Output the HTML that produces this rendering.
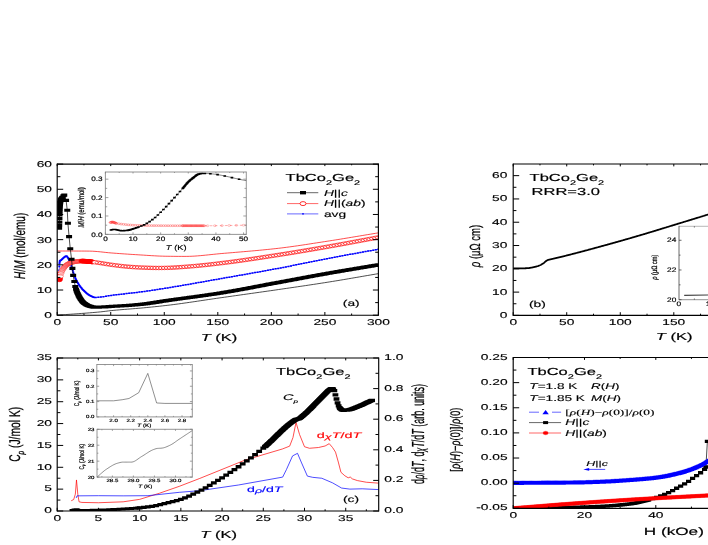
<!DOCTYPE html>
<html><head><meta charset="utf-8"><title>TbCo2Ge2</title>
<style>
html,body{margin:0;padding:0;background:#fff;}
body{width:708px;height:545px;overflow:hidden;font-family:"Liberation Sans",sans-serif;}
svg{display:block;will-change:transform;filter:blur(0.35px);}
text{text-rendering:geometricPrecision;}
</style></head><body>
<svg width="708" height="545" viewBox="0 0 708 545">
<rect width="708" height="545" fill="#fff"/>
<clipPath id="cp1"><rect x="57.2" y="164.1" width="321.2" height="151.1"/></clipPath><g clip-path="url(#cp1)">
<polyline fill="none" stroke="#000" stroke-width="0.7" stroke-linejoin="round"  points="57.2,315.2 59.9,315 62.6,314.8 65.3,314.61 68,314.42 70.7,314.23 73.39,314.04 76.09,313.85 78.79,313.66 81.49,313.46 84.19,313.26 86.89,313.06 89.59,312.84 92.29,312.62 94.99,312.39 97.69,312.15 100.39,311.89 103.09,311.59 105.78,311.26 108.48,310.92 111.18,310.61 113.88,310.34 116.58,310.08 119.28,309.85 121.98,309.62 124.68,309.4 127.38,309.19 130.08,308.98 132.78,308.76 135.48,308.54 138.17,308.32 140.87,308.08 143.57,307.83 146.27,307.57 148.97,307.31 151.67,307.04 154.37,306.76 157.07,306.48 159.77,306.19 162.47,305.89 165.17,305.59 167.87,305.27 170.56,304.94 173.26,304.6 175.96,304.25 178.66,303.89 181.36,303.52 184.06,303.14 186.76,302.76 189.46,302.37 192.16,301.98 194.86,301.58 197.56,301.18 200.26,300.78 202.95,300.37 205.65,299.97 208.35,299.56 211.05,299.16 213.75,298.76 216.45,298.37 219.15,297.98 221.85,297.59 224.55,297.21 227.25,296.83 229.95,296.44 232.65,296.06 235.34,295.68 238.04,295.3 240.74,294.92 243.44,294.54 246.14,294.17 248.84,293.78 251.54,293.4 254.24,293.02 256.94,292.64 259.64,292.26 262.34,291.87 265.04,291.49 267.73,291.1 270.43,290.72 273.13,290.33 275.83,289.94 278.53,289.54 281.23,289.15 283.93,288.76 286.63,288.37 289.33,287.97 292.03,287.58 294.73,287.19 297.43,286.79 300.12,286.39 302.82,286 305.52,285.6 308.22,285.19 310.92,284.79 313.62,284.38 316.32,283.97 319.02,283.56 321.72,283.14 324.42,282.72 327.12,282.29 329.82,281.87 332.51,281.43 335.21,280.99 337.91,280.55 340.61,280.1 343.31,279.65 346.01,279.19 348.71,278.73 351.41,278.27 354.11,277.81 356.81,277.35 359.51,276.88 362.21,276.42 364.9,275.95 367.6,275.49 370.3,275.02 373,274.56 375.7,274.1 378.4,273.65"/>
<polyline fill="none" stroke="#f00" stroke-width="0.7" stroke-linejoin="round"  points="57.2,250.98 59.9,250.99 62.6,251 65.3,251.01 68,251.02 70.7,251.02 73.39,251.03 76.09,251.04 78.79,251.05 81.49,251.06 84.19,251.07 86.89,251.09 89.59,251.11 92.29,251.19 94.99,251.35 97.69,251.58 100.39,251.84 103.09,252.13 105.78,252.43 108.48,252.71 111.18,252.95 113.88,253.15 116.58,253.35 119.28,253.55 121.98,253.75 124.68,253.93 127.38,254.12 130.08,254.3 132.78,254.47 135.48,254.64 138.17,254.8 140.87,254.97 143.57,255.14 146.27,255.32 148.97,255.49 151.67,255.66 154.37,255.81 157.07,255.96 159.77,256.08 162.47,256.17 165.17,256.24 167.87,256.28 170.56,256.31 173.26,256.34 175.96,256.36 178.66,256.38 181.36,256.39 184.06,256.4 186.76,256.39 189.46,256.34 192.16,256.23 194.86,256.08 197.56,255.89 200.26,255.67 202.95,255.42 205.65,255.15 208.35,254.87 211.05,254.58 213.75,254.3 216.45,254.02 219.15,253.75 221.85,253.51 224.55,253.28 227.25,253.06 229.95,252.83 232.65,252.61 235.34,252.38 238.04,252.15 240.74,251.93 243.44,251.7 246.14,251.46 248.84,251.23 251.54,250.99 254.24,250.75 256.94,250.5 259.64,250.25 262.34,249.99 265.04,249.73 267.73,249.45 270.43,249.18 273.13,248.89 275.83,248.6 278.53,248.29 281.23,247.97 283.93,247.64 286.63,247.29 289.33,246.93 292.03,246.56 294.73,246.18 297.43,245.8 300.12,245.4 302.82,245 305.52,244.59 308.22,244.18 310.92,243.76 313.62,243.34 316.32,242.92 319.02,242.5 321.72,242.08 324.42,241.66 327.12,241.24 329.82,240.83 332.51,240.41 335.21,239.98 337.91,239.55 340.61,239.11 343.31,238.67 346.01,238.23 348.71,237.79 351.41,237.34 354.11,236.89 356.81,236.44 359.51,235.99 362.21,235.54 364.9,235.09 367.6,234.64 370.3,234.19 373,233.74 375.7,233.29 378.4,232.85"/>
<polyline fill="none" stroke="#00f" stroke-width="0.6" stroke-linejoin="round"  points="59.23,270.37 59.34,266.39 59.45,263.57 59.56,262.63 59.66,261.9 59.77,261.37 59.88,261.01 59.98,260.8 60.09,260.68 60.2,260.58 60.3,260.5 60.41,260.43 60.95,260.18 61.48,259.79 62.02,259.29 62.55,258.76 63.09,258.24 63.62,257.78 64.16,257.35 64.69,256.89 65.23,256.48 65.77,256.17 66.3,256.02 66.84,256.24 67.37,256.94 67.91,257.78 68.44,258.7 68.98,259.8 69.51,261.04 70.05,262.35 70.58,263.83 71.12,265.45 71.65,267.13 72.19,268.79 72.72,270.45 73.26,272.2 73.8,273.93 74.33,275.54 74.87,276.93 75.4,278.17 75.94,279.33 76.47,280.41 77.01,281.43 77.54,282.39 78.08,283.29 78.61,284.14 79.15,284.95 79.68,285.73 80.22,286.47 80.75,287.19 81.29,287.87 81.83,288.52 82.36,289.13 82.9,289.72 83.43,290.27 83.97,290.8 84.5,291.32 85.04,291.83 85.57,292.32 86.11,292.8 86.64,293.25 87.18,293.68 87.71,294.09 88.25,294.47 88.78,294.82 89.32,295.13 89.86,295.42 90.39,295.7 90.93,295.99 91.46,296.27 92,296.54 92.53,296.78 93.07,297 93.6,297.19 94.14,297.32 94.67,297.41 95.21,297.45 95.74,297.44 98.31,297.31 100.88,297.02 103.45,296.64 106.02,296.21 108.59,295.77 111.16,295.39 113.73,295.07 116.3,294.77 118.87,294.47 121.44,294.18 124.01,293.89 126.58,293.6 129.15,293.31 131.72,293.02 134.29,292.72 136.86,292.41 139.43,292.1 142,291.77 144.57,291.42 147.14,291.06 149.71,290.69 152.28,290.31 154.84,289.92 157.41,289.52 159.98,289.11 162.55,288.71 165.12,288.29 167.69,287.88 170.26,287.46 172.83,287.04 175.4,286.61 177.97,286.18 180.54,285.75 183.11,285.31 185.68,284.86 188.25,284.42 190.82,283.97 193.39,283.51 195.96,283.06 198.53,282.6 201.1,282.15 203.67,281.69 206.24,281.23 208.81,280.77 211.38,280.31 213.95,279.86 216.52,279.4 219.08,278.94 221.65,278.49 224.22,278.04 226.79,277.59 229.36,277.14 231.93,276.69 234.5,276.24 237.07,275.79 239.64,275.34 242.21,274.89 244.78,274.43 247.35,273.98 249.92,273.53 252.49,273.07 255.06,272.62 257.63,272.16 260.2,271.7 262.77,271.24 265.34,270.77 267.91,270.3 270.48,269.83 273.05,269.35 275.62,268.87 278.19,268.39 280.76,267.9 283.32,267.4 285.89,266.9 288.46,266.39 291.03,265.88 293.6,265.36 296.17,264.84 298.74,264.32 301.31,263.8 303.88,263.28 306.45,262.75 309.02,262.23 311.59,261.71 314.16,261.19 316.73,260.68 319.3,260.16 321.87,259.66 324.44,259.16 327.01,258.66 329.58,258.17 332.15,257.68 334.72,257.2 337.29,256.72 339.86,256.24 342.43,255.77 345,255.3 347.56,254.83 350.13,254.36 352.7,253.89 355.27,253.42 357.84,252.96 360.41,252.49 362.98,252.03 365.55,251.56 368.12,251.09 370.69,250.63 373.26,250.16 375.83,249.69 378.4,249.22"/>
<path d="M58.23 269.62h2v1.5h-2zM58.34 265.64h2v1.5h-2zM58.45 262.82h2v1.5h-2zM58.56 261.88h2v1.5h-2zM58.66 261.15h2v1.5h-2zM58.77 260.62h2v1.5h-2zM58.88 260.26h2v1.5h-2zM58.98 260.05h2v1.5h-2zM59.09 259.93h2v1.5h-2zM59.2 259.83h2v1.5h-2zM59.3 259.75h2v1.5h-2zM59.41 259.68h2v1.5h-2zM59.95 259.43h2v1.5h-2zM60.48 259.04h2v1.5h-2zM61.02 258.54h2v1.5h-2zM61.55 258.01h2v1.5h-2zM62.09 257.49h2v1.5h-2zM62.62 257.03h2v1.5h-2zM63.16 256.6h2v1.5h-2zM63.69 256.14h2v1.5h-2zM64.23 255.73h2v1.5h-2zM64.77 255.42h2v1.5h-2zM65.3 255.27h2v1.5h-2zM65.84 255.49h2v1.5h-2zM66.37 256.19h2v1.5h-2zM66.91 257.03h2v1.5h-2zM67.44 257.95h2v1.5h-2zM67.98 259.05h2v1.5h-2zM68.51 260.29h2v1.5h-2zM69.05 261.6h2v1.5h-2zM69.58 263.08h2v1.5h-2zM70.12 264.7h2v1.5h-2zM70.65 266.38h2v1.5h-2zM71.19 268.04h2v1.5h-2zM71.72 269.7h2v1.5h-2zM72.26 271.45h2v1.5h-2zM72.8 273.18h2v1.5h-2zM73.33 274.79h2v1.5h-2zM73.87 276.18h2v1.5h-2zM74.4 277.42h2v1.5h-2zM74.94 278.58h2v1.5h-2zM75.47 279.66h2v1.5h-2zM76.01 280.68h2v1.5h-2zM76.54 281.64h2v1.5h-2zM77.08 282.54h2v1.5h-2zM77.61 283.39h2v1.5h-2zM78.15 284.2h2v1.5h-2zM78.68 284.98h2v1.5h-2zM79.22 285.72h2v1.5h-2zM79.75 286.44h2v1.5h-2zM80.29 287.12h2v1.5h-2zM80.83 287.77h2v1.5h-2zM81.36 288.38h2v1.5h-2zM81.9 288.97h2v1.5h-2zM82.43 289.52h2v1.5h-2zM82.97 290.05h2v1.5h-2zM83.5 290.57h2v1.5h-2zM84.04 291.08h2v1.5h-2zM84.57 291.57h2v1.5h-2zM85.11 292.05h2v1.5h-2zM85.64 292.5h2v1.5h-2zM86.18 292.93h2v1.5h-2zM86.71 293.34h2v1.5h-2zM87.25 293.72h2v1.5h-2zM87.78 294.07h2v1.5h-2zM88.32 294.38h2v1.5h-2zM88.86 294.67h2v1.5h-2zM89.39 294.95h2v1.5h-2zM89.93 295.24h2v1.5h-2zM90.46 295.52h2v1.5h-2zM91 295.79h2v1.5h-2zM91.53 296.03h2v1.5h-2zM92.07 296.25h2v1.5h-2zM92.6 296.44h2v1.5h-2zM93.14 296.57h2v1.5h-2zM93.67 296.66h2v1.5h-2zM94.21 296.7h2v1.5h-2zM94.74 296.69h2v1.5h-2zM97.31 296.56h2v1.5h-2zM99.88 296.27h2v1.5h-2zM102.45 295.89h2v1.5h-2zM105.02 295.46h2v1.5h-2zM107.59 295.02h2v1.5h-2zM110.16 294.64h2v1.5h-2zM112.73 294.32h2v1.5h-2zM115.3 294.02h2v1.5h-2zM117.87 293.72h2v1.5h-2zM120.44 293.43h2v1.5h-2zM123.01 293.14h2v1.5h-2zM125.58 292.85h2v1.5h-2zM128.15 292.56h2v1.5h-2zM130.72 292.27h2v1.5h-2zM133.29 291.97h2v1.5h-2zM135.86 291.66h2v1.5h-2zM138.43 291.35h2v1.5h-2zM141 291.02h2v1.5h-2zM143.57 290.67h2v1.5h-2zM146.14 290.31h2v1.5h-2zM148.71 289.94h2v1.5h-2zM151.28 289.56h2v1.5h-2zM153.84 289.17h2v1.5h-2zM156.41 288.77h2v1.5h-2zM158.98 288.36h2v1.5h-2zM161.55 287.96h2v1.5h-2zM164.12 287.54h2v1.5h-2zM166.69 287.13h2v1.5h-2zM169.26 286.71h2v1.5h-2zM171.83 286.29h2v1.5h-2zM174.4 285.86h2v1.5h-2zM176.97 285.43h2v1.5h-2zM179.54 285h2v1.5h-2zM182.11 284.56h2v1.5h-2zM184.68 284.11h2v1.5h-2zM187.25 283.67h2v1.5h-2zM189.82 283.22h2v1.5h-2zM192.39 282.76h2v1.5h-2zM194.96 282.31h2v1.5h-2zM197.53 281.85h2v1.5h-2zM200.1 281.4h2v1.5h-2zM202.67 280.94h2v1.5h-2zM205.24 280.48h2v1.5h-2zM207.81 280.02h2v1.5h-2zM210.38 279.56h2v1.5h-2zM212.95 279.11h2v1.5h-2zM215.52 278.65h2v1.5h-2zM218.08 278.19h2v1.5h-2zM220.65 277.74h2v1.5h-2zM223.22 277.29h2v1.5h-2zM225.79 276.84h2v1.5h-2zM228.36 276.39h2v1.5h-2zM230.93 275.94h2v1.5h-2zM233.5 275.49h2v1.5h-2zM236.07 275.04h2v1.5h-2zM238.64 274.59h2v1.5h-2zM241.21 274.14h2v1.5h-2zM243.78 273.68h2v1.5h-2zM246.35 273.23h2v1.5h-2zM248.92 272.78h2v1.5h-2zM251.49 272.32h2v1.5h-2zM254.06 271.87h2v1.5h-2zM256.63 271.41h2v1.5h-2zM259.2 270.95h2v1.5h-2zM261.77 270.49h2v1.5h-2zM264.34 270.02h2v1.5h-2zM266.91 269.55h2v1.5h-2zM269.48 269.08h2v1.5h-2zM272.05 268.6h2v1.5h-2zM274.62 268.12h2v1.5h-2zM277.19 267.64h2v1.5h-2zM279.76 267.15h2v1.5h-2zM282.32 266.65h2v1.5h-2zM284.89 266.15h2v1.5h-2zM287.46 265.64h2v1.5h-2zM290.03 265.13h2v1.5h-2zM292.6 264.61h2v1.5h-2zM295.17 264.09h2v1.5h-2zM297.74 263.57h2v1.5h-2zM300.31 263.05h2v1.5h-2zM302.88 262.53h2v1.5h-2zM305.45 262h2v1.5h-2zM308.02 261.48h2v1.5h-2zM310.59 260.96h2v1.5h-2zM313.16 260.44h2v1.5h-2zM315.73 259.93h2v1.5h-2zM318.3 259.41h2v1.5h-2zM320.87 258.91h2v1.5h-2zM323.44 258.41h2v1.5h-2zM326.01 257.91h2v1.5h-2zM328.58 257.42h2v1.5h-2zM331.15 256.93h2v1.5h-2zM333.72 256.45h2v1.5h-2zM336.29 255.97h2v1.5h-2zM338.86 255.49h2v1.5h-2zM341.43 255.02h2v1.5h-2zM344 254.55h2v1.5h-2zM346.56 254.08h2v1.5h-2zM349.13 253.61h2v1.5h-2zM351.7 253.14h2v1.5h-2zM354.27 252.67h2v1.5h-2zM356.84 252.21h2v1.5h-2zM359.41 251.74h2v1.5h-2zM361.98 251.28h2v1.5h-2zM364.55 250.81h2v1.5h-2zM367.12 250.34h2v1.5h-2zM369.69 249.88h2v1.5h-2zM372.26 249.41h2v1.5h-2zM374.83 248.94h2v1.5h-2zM377.4 248.47h2v1.5h-2z" fill="#00f"/>
<polyline fill="none" stroke="#f00" stroke-width="0.6" stroke-linejoin="round"  points="59.34,279.44 59.77,278.68 60.2,277.29 60.63,275.16 61.05,273.23 61.48,272.04 61.91,271.04 62.34,270.16 62.77,269.39 63.2,268.72 63.62,268.11 64.05,267.54 64.48,267 64.91,266.5 65.34,266.03 65.77,265.6 66.19,265.2 66.62,264.85 67.05,264.54 67.48,264.27 67.91,264.02 68.33,263.78 68.76,263.56 69.19,263.35 69.62,263.15 70.05,262.97 70.48,262.81 70.9,262.66 71.33,262.53 71.76,262.41 72.19,262.31 72.62,262.23 73.05,262.14 73.47,262.06 73.9,261.98 74.33,261.9 74.76,261.82 75.19,261.74 75.62,261.67 76.04,261.6 76.47,261.53 76.9,261.47 77.33,261.41 77.76,261.36 78.19,261.31 78.61,261.26 79.04,261.22 79.47,261.18 79.9,261.14 80.33,261.12 80.75,261.09 81.18,261.07 81.61,261.06 82.04,261.06 82.47,261.06 82.9,261.06 83.32,261.07 83.75,261.09 84.18,261.11 84.61,261.13 85.04,261.16 85.47,261.19 85.89,261.22 86.32,261.26 86.75,261.3 87.18,261.34 87.61,261.39 88.04,261.44 88.46,261.48 88.89,261.53 89.32,261.59 89.75,261.64 90.18,261.69 90.6,261.74 91.03,261.8 91.46,261.85 91.89,261.9 92.32,261.95 92.53,261.98 95.42,262.32 98.31,262.73 101.2,263.18 104.1,263.66 106.99,264.13 109.88,264.57 112.77,264.96 115.66,265.34 118.55,265.71 121.44,266.06 124.33,266.37 127.22,266.63 130.11,266.86 133,267.07 135.89,267.26 138.78,267.43 141.68,267.56 144.57,267.66 147.46,267.76 150.35,267.85 153.24,267.92 156.13,267.96 159.02,267.98 161.91,267.96 164.8,267.9 167.69,267.84 170.58,267.74 173.47,267.6 176.37,267.44 179.26,267.25 182.15,267.04 185.04,266.82 187.93,266.59 190.82,266.36 193.71,266.13 196.6,265.87 199.49,265.6 202.38,265.31 205.27,265 208.16,264.69 211.05,264.36 213.95,264.03 216.84,263.69 219.73,263.34 222.62,262.99 225.51,262.64 228.4,262.27 231.29,261.89 234.18,261.51 237.07,261.12 239.96,260.71 242.85,260.3 245.74,259.89 248.64,259.47 251.53,259.04 254.42,258.61 257.31,258.17 260.2,257.73 263.09,257.29 265.98,256.84 268.87,256.4 271.76,255.95 274.65,255.5 277.54,255.05 280.43,254.6 283.32,254.15 286.22,253.69 289.11,253.22 292,252.75 294.89,252.28 297.78,251.8 300.67,251.32 303.56,250.84 306.45,250.35 309.34,249.86 312.23,249.37 315.12,248.87 318.01,248.38 320.91,247.88 323.8,247.37 326.69,246.87 329.58,246.36 332.47,245.85 335.36,245.34 338.25,244.81 341.14,244.29 344.03,243.76 346.92,243.23 349.81,242.69 352.7,242.16 355.59,241.62 358.49,241.08 361.38,240.54 364.27,240 367.16,239.46 370.05,238.93 372.94,238.39 375.83,237.86 378.72,237.32"/>
<path d="M56.34 279.94a3 1.8 0 1 0 6 0a3 1.8 0 1 0 -6 0zM56.42 279.01a3 1.8 0 1 0 6 0a3 1.8 0 1 0 -6 0zM56.49 278.07a3 1.8 0 1 0 6 0a3 1.8 0 1 0 -6 0zM56.57 277.14a3 1.8 0 1 0 6 0a3 1.8 0 1 0 -6 0zM56.65 276.2a3 1.8 0 1 0 6 0a3 1.8 0 1 0 -6 0zM56.72 275.27a3 1.8 0 1 0 6 0a3 1.8 0 1 0 -6 0zM56.8 274.33a3 1.8 0 1 0 6 0a3 1.8 0 1 0 -6 0zM56.88 273.4a3 1.8 0 1 0 6 0a3 1.8 0 1 0 -6 0z" fill="#f00" stroke="#f00" stroke-width="0.6"/>
<path d="M57.41 276.26a3 1.8 0 1 0 6 0a3 1.8 0 1 0 -6 0zM58 273.43a3 1.8 0 1 0 6 0a3 1.8 0 1 0 -6 0zM58.59 271.78a3 1.8 0 1 0 6 0a3 1.8 0 1 0 -6 0zM59.18 270.47a3 1.8 0 1 0 6 0a3 1.8 0 1 0 -6 0zM59.77 269.39a3 1.8 0 1 0 6 0a3 1.8 0 1 0 -6 0zM60.36 268.48a3 1.8 0 1 0 6 0a3 1.8 0 1 0 -6 0zM60.95 267.68a3 1.8 0 1 0 6 0a3 1.8 0 1 0 -6 0zM61.53 266.94a3 1.8 0 1 0 6 0a3 1.8 0 1 0 -6 0zM62.12 266.26a3 1.8 0 1 0 6 0a3 1.8 0 1 0 -6 0zM62.71 265.65a3 1.8 0 1 0 6 0a3 1.8 0 1 0 -6 0zM63.3 265.11a3 1.8 0 1 0 6 0a3 1.8 0 1 0 -6 0zM63.89 264.65a3 1.8 0 1 0 6 0a3 1.8 0 1 0 -6 0zM64.48 264.27a3 1.8 0 1 0 6 0a3 1.8 0 1 0 -6 0zM65.07 263.93a3 1.8 0 1 0 6 0a3 1.8 0 1 0 -6 0zM65.66 263.61a3 1.8 0 1 0 6 0a3 1.8 0 1 0 -6 0zM66.25 263.32a3 1.8 0 1 0 6 0a3 1.8 0 1 0 -6 0zM66.83 263.06a3 1.8 0 1 0 6 0a3 1.8 0 1 0 -6 0zM67.42 262.83a3 1.8 0 1 0 6 0a3 1.8 0 1 0 -6 0zM68.01 262.62a3 1.8 0 1 0 6 0a3 1.8 0 1 0 -6 0zM68.6 262.45a3 1.8 0 1 0 6 0a3 1.8 0 1 0 -6 0zM69.19 262.31a3 1.8 0 1 0 6 0a3 1.8 0 1 0 -6 0zM69.78 262.2a3 1.8 0 1 0 6 0a3 1.8 0 1 0 -6 0zM70.37 262.08a3 1.8 0 1 0 6 0a3 1.8 0 1 0 -6 0zM70.96 261.97a3 1.8 0 1 0 6 0a3 1.8 0 1 0 -6 0zM71.54 261.86a3 1.8 0 1 0 6 0a3 1.8 0 1 0 -6 0zM72.13 261.75a3 1.8 0 1 0 6 0a3 1.8 0 1 0 -6 0zM72.72 261.65a3 1.8 0 1 0 6 0a3 1.8 0 1 0 -6 0zM73.31 261.56a3 1.8 0 1 0 6 0a3 1.8 0 1 0 -6 0zM73.9 261.47a3 1.8 0 1 0 6 0a3 1.8 0 1 0 -6 0zM74.49 261.39a3 1.8 0 1 0 6 0a3 1.8 0 1 0 -6 0zM75.08 261.32a3 1.8 0 1 0 6 0a3 1.8 0 1 0 -6 0zM75.67 261.25a3 1.8 0 1 0 6 0a3 1.8 0 1 0 -6 0zM76.26 261.2a3 1.8 0 1 0 6 0a3 1.8 0 1 0 -6 0zM76.84 261.15a3 1.8 0 1 0 6 0a3 1.8 0 1 0 -6 0zM77.43 261.11a3 1.8 0 1 0 6 0a3 1.8 0 1 0 -6 0zM78.02 261.08a3 1.8 0 1 0 6 0a3 1.8 0 1 0 -6 0zM78.61 261.06a3 1.8 0 1 0 6 0a3 1.8 0 1 0 -6 0z" fill="#fff" stroke="#f44" stroke-width="0.5"/>
<path d="M78.83 261.06a3 1.8 0 1 0 6 0a3 1.8 0 1 0 -6 0zM79.15 261.06a3 1.8 0 1 0 6 0a3 1.8 0 1 0 -6 0zM79.47 261.06a3 1.8 0 1 0 6 0a3 1.8 0 1 0 -6 0zM79.79 261.06a3 1.8 0 1 0 6 0a3 1.8 0 1 0 -6 0zM80.11 261.07a3 1.8 0 1 0 6 0a3 1.8 0 1 0 -6 0zM80.43 261.08a3 1.8 0 1 0 6 0a3 1.8 0 1 0 -6 0zM80.75 261.09a3 1.8 0 1 0 6 0a3 1.8 0 1 0 -6 0zM81.07 261.1a3 1.8 0 1 0 6 0a3 1.8 0 1 0 -6 0zM81.39 261.12a3 1.8 0 1 0 6 0a3 1.8 0 1 0 -6 0zM81.72 261.14a3 1.8 0 1 0 6 0a3 1.8 0 1 0 -6 0zM82.04 261.16a3 1.8 0 1 0 6 0a3 1.8 0 1 0 -6 0zM82.36 261.18a3 1.8 0 1 0 6 0a3 1.8 0 1 0 -6 0zM82.68 261.21a3 1.8 0 1 0 6 0a3 1.8 0 1 0 -6 0zM83 261.23a3 1.8 0 1 0 6 0a3 1.8 0 1 0 -6 0zM83.32 261.26a3 1.8 0 1 0 6 0a3 1.8 0 1 0 -6 0zM83.64 261.29a3 1.8 0 1 0 6 0a3 1.8 0 1 0 -6 0zM83.96 261.32a3 1.8 0 1 0 6 0a3 1.8 0 1 0 -6 0zM84.29 261.35a3 1.8 0 1 0 6 0a3 1.8 0 1 0 -6 0zM84.61 261.39a3 1.8 0 1 0 6 0a3 1.8 0 1 0 -6 0zM84.93 261.42a3 1.8 0 1 0 6 0a3 1.8 0 1 0 -6 0zM85.25 261.46a3 1.8 0 1 0 6 0a3 1.8 0 1 0 -6 0zM85.57 261.5a3 1.8 0 1 0 6 0a3 1.8 0 1 0 -6 0zM85.89 261.53a3 1.8 0 1 0 6 0a3 1.8 0 1 0 -6 0zM86.21 261.57a3 1.8 0 1 0 6 0a3 1.8 0 1 0 -6 0zM86.53 261.61a3 1.8 0 1 0 6 0a3 1.8 0 1 0 -6 0zM86.86 261.65a3 1.8 0 1 0 6 0a3 1.8 0 1 0 -6 0zM87.18 261.69a3 1.8 0 1 0 6 0a3 1.8 0 1 0 -6 0zM87.5 261.73a3 1.8 0 1 0 6 0a3 1.8 0 1 0 -6 0zM87.82 261.77a3 1.8 0 1 0 6 0a3 1.8 0 1 0 -6 0zM88.14 261.81a3 1.8 0 1 0 6 0a3 1.8 0 1 0 -6 0zM88.46 261.85a3 1.8 0 1 0 6 0a3 1.8 0 1 0 -6 0zM88.78 261.89a3 1.8 0 1 0 6 0a3 1.8 0 1 0 -6 0zM89.1 261.93a3 1.8 0 1 0 6 0a3 1.8 0 1 0 -6 0zM89.42 261.96a3 1.8 0 1 0 6 0a3 1.8 0 1 0 -6 0zM89.75 262a3 1.8 0 1 0 6 0a3 1.8 0 1 0 -6 0z" fill="#f00" stroke="#f00" stroke-width="0.6"/>
<path d="M92.21 262.3a3 1.8 0 1 0 6 0a3 1.8 0 1 0 -6 0zM95.1 262.7a3 1.8 0 1 0 6 0a3 1.8 0 1 0 -6 0zM97.99 263.15a3 1.8 0 1 0 6 0a3 1.8 0 1 0 -6 0zM100.88 263.62a3 1.8 0 1 0 6 0a3 1.8 0 1 0 -6 0zM103.77 264.09a3 1.8 0 1 0 6 0a3 1.8 0 1 0 -6 0zM106.66 264.54a3 1.8 0 1 0 6 0a3 1.8 0 1 0 -6 0zM109.55 264.93a3 1.8 0 1 0 6 0a3 1.8 0 1 0 -6 0zM112.44 265.31a3 1.8 0 1 0 6 0a3 1.8 0 1 0 -6 0zM115.34 265.69a3 1.8 0 1 0 6 0a3 1.8 0 1 0 -6 0zM118.23 266.04a3 1.8 0 1 0 6 0a3 1.8 0 1 0 -6 0zM121.12 266.35a3 1.8 0 1 0 6 0a3 1.8 0 1 0 -6 0zM124.01 266.61a3 1.8 0 1 0 6 0a3 1.8 0 1 0 -6 0zM126.9 266.84a3 1.8 0 1 0 6 0a3 1.8 0 1 0 -6 0zM129.79 267.06a3 1.8 0 1 0 6 0a3 1.8 0 1 0 -6 0zM132.68 267.25a3 1.8 0 1 0 6 0a3 1.8 0 1 0 -6 0zM135.57 267.42a3 1.8 0 1 0 6 0a3 1.8 0 1 0 -6 0zM138.46 267.55a3 1.8 0 1 0 6 0a3 1.8 0 1 0 -6 0zM141.35 267.65a3 1.8 0 1 0 6 0a3 1.8 0 1 0 -6 0zM144.24 267.75a3 1.8 0 1 0 6 0a3 1.8 0 1 0 -6 0zM147.13 267.84a3 1.8 0 1 0 6 0a3 1.8 0 1 0 -6 0zM150.02 267.91a3 1.8 0 1 0 6 0a3 1.8 0 1 0 -6 0zM152.92 267.96a3 1.8 0 1 0 6 0a3 1.8 0 1 0 -6 0zM155.81 267.98a3 1.8 0 1 0 6 0a3 1.8 0 1 0 -6 0zM158.7 267.96a3 1.8 0 1 0 6 0a3 1.8 0 1 0 -6 0zM161.59 267.91a3 1.8 0 1 0 6 0a3 1.8 0 1 0 -6 0zM164.48 267.84a3 1.8 0 1 0 6 0a3 1.8 0 1 0 -6 0zM167.37 267.75a3 1.8 0 1 0 6 0a3 1.8 0 1 0 -6 0zM170.26 267.61a3 1.8 0 1 0 6 0a3 1.8 0 1 0 -6 0zM173.15 267.45a3 1.8 0 1 0 6 0a3 1.8 0 1 0 -6 0zM176.04 267.26a3 1.8 0 1 0 6 0a3 1.8 0 1 0 -6 0zM178.93 267.05a3 1.8 0 1 0 6 0a3 1.8 0 1 0 -6 0zM181.82 266.83a3 1.8 0 1 0 6 0a3 1.8 0 1 0 -6 0zM184.71 266.61a3 1.8 0 1 0 6 0a3 1.8 0 1 0 -6 0zM187.61 266.38a3 1.8 0 1 0 6 0a3 1.8 0 1 0 -6 0zM190.5 266.14a3 1.8 0 1 0 6 0a3 1.8 0 1 0 -6 0zM193.39 265.89a3 1.8 0 1 0 6 0a3 1.8 0 1 0 -6 0zM196.28 265.62a3 1.8 0 1 0 6 0a3 1.8 0 1 0 -6 0zM199.17 265.33a3 1.8 0 1 0 6 0a3 1.8 0 1 0 -6 0zM202.06 265.03a3 1.8 0 1 0 6 0a3 1.8 0 1 0 -6 0zM204.95 264.71a3 1.8 0 1 0 6 0a3 1.8 0 1 0 -6 0zM207.84 264.39a3 1.8 0 1 0 6 0a3 1.8 0 1 0 -6 0zM210.73 264.05a3 1.8 0 1 0 6 0a3 1.8 0 1 0 -6 0zM213.62 263.71a3 1.8 0 1 0 6 0a3 1.8 0 1 0 -6 0zM216.51 263.37a3 1.8 0 1 0 6 0a3 1.8 0 1 0 -6 0zM219.4 263.02a3 1.8 0 1 0 6 0a3 1.8 0 1 0 -6 0zM222.29 262.66a3 1.8 0 1 0 6 0a3 1.8 0 1 0 -6 0zM225.19 262.3a3 1.8 0 1 0 6 0a3 1.8 0 1 0 -6 0zM228.08 261.92a3 1.8 0 1 0 6 0a3 1.8 0 1 0 -6 0zM230.97 261.54a3 1.8 0 1 0 6 0a3 1.8 0 1 0 -6 0zM233.86 261.15a3 1.8 0 1 0 6 0a3 1.8 0 1 0 -6 0zM236.75 260.74a3 1.8 0 1 0 6 0a3 1.8 0 1 0 -6 0zM239.64 260.34a3 1.8 0 1 0 6 0a3 1.8 0 1 0 -6 0zM242.53 259.92a3 1.8 0 1 0 6 0a3 1.8 0 1 0 -6 0zM245.42 259.5a3 1.8 0 1 0 6 0a3 1.8 0 1 0 -6 0zM248.31 259.07a3 1.8 0 1 0 6 0a3 1.8 0 1 0 -6 0zM251.2 258.64a3 1.8 0 1 0 6 0a3 1.8 0 1 0 -6 0zM254.09 258.2a3 1.8 0 1 0 6 0a3 1.8 0 1 0 -6 0zM256.98 257.76a3 1.8 0 1 0 6 0a3 1.8 0 1 0 -6 0zM259.88 257.32a3 1.8 0 1 0 6 0a3 1.8 0 1 0 -6 0zM262.77 256.88a3 1.8 0 1 0 6 0a3 1.8 0 1 0 -6 0zM265.66 256.43a3 1.8 0 1 0 6 0a3 1.8 0 1 0 -6 0zM268.55 255.98a3 1.8 0 1 0 6 0a3 1.8 0 1 0 -6 0zM271.44 255.54a3 1.8 0 1 0 6 0a3 1.8 0 1 0 -6 0zM274.33 255.09a3 1.8 0 1 0 6 0a3 1.8 0 1 0 -6 0zM277.22 254.64a3 1.8 0 1 0 6 0a3 1.8 0 1 0 -6 0zM280.11 254.18a3 1.8 0 1 0 6 0a3 1.8 0 1 0 -6 0zM283 253.72a3 1.8 0 1 0 6 0a3 1.8 0 1 0 -6 0zM285.89 253.26a3 1.8 0 1 0 6 0a3 1.8 0 1 0 -6 0zM288.78 252.79a3 1.8 0 1 0 6 0a3 1.8 0 1 0 -6 0zM291.67 252.32a3 1.8 0 1 0 6 0a3 1.8 0 1 0 -6 0zM294.56 251.84a3 1.8 0 1 0 6 0a3 1.8 0 1 0 -6 0zM297.46 251.36a3 1.8 0 1 0 6 0a3 1.8 0 1 0 -6 0zM300.35 250.88a3 1.8 0 1 0 6 0a3 1.8 0 1 0 -6 0zM303.24 250.39a3 1.8 0 1 0 6 0a3 1.8 0 1 0 -6 0zM306.13 249.9a3 1.8 0 1 0 6 0a3 1.8 0 1 0 -6 0zM309.02 249.41a3 1.8 0 1 0 6 0a3 1.8 0 1 0 -6 0zM311.91 248.91a3 1.8 0 1 0 6 0a3 1.8 0 1 0 -6 0zM314.8 248.41a3 1.8 0 1 0 6 0a3 1.8 0 1 0 -6 0zM317.69 247.91a3 1.8 0 1 0 6 0a3 1.8 0 1 0 -6 0zM320.58 247.41a3 1.8 0 1 0 6 0a3 1.8 0 1 0 -6 0zM323.47 246.91a3 1.8 0 1 0 6 0a3 1.8 0 1 0 -6 0zM326.36 246.4a3 1.8 0 1 0 6 0a3 1.8 0 1 0 -6 0zM329.25 245.89a3 1.8 0 1 0 6 0a3 1.8 0 1 0 -6 0zM332.15 245.37a3 1.8 0 1 0 6 0a3 1.8 0 1 0 -6 0zM335.04 244.85a3 1.8 0 1 0 6 0a3 1.8 0 1 0 -6 0zM337.93 244.33a3 1.8 0 1 0 6 0a3 1.8 0 1 0 -6 0zM340.82 243.8a3 1.8 0 1 0 6 0a3 1.8 0 1 0 -6 0zM343.71 243.27a3 1.8 0 1 0 6 0a3 1.8 0 1 0 -6 0zM346.6 242.73a3 1.8 0 1 0 6 0a3 1.8 0 1 0 -6 0zM349.49 242.2a3 1.8 0 1 0 6 0a3 1.8 0 1 0 -6 0zM352.38 241.66a3 1.8 0 1 0 6 0a3 1.8 0 1 0 -6 0zM355.27 241.12a3 1.8 0 1 0 6 0a3 1.8 0 1 0 -6 0zM358.16 240.58a3 1.8 0 1 0 6 0a3 1.8 0 1 0 -6 0zM361.05 240.04a3 1.8 0 1 0 6 0a3 1.8 0 1 0 -6 0zM363.94 239.5a3 1.8 0 1 0 6 0a3 1.8 0 1 0 -6 0zM366.83 238.97a3 1.8 0 1 0 6 0a3 1.8 0 1 0 -6 0zM369.73 238.43a3 1.8 0 1 0 6 0a3 1.8 0 1 0 -6 0zM372.62 237.9a3 1.8 0 1 0 6 0a3 1.8 0 1 0 -6 0zM375.51 237.36a3 1.8 0 1 0 6 0a3 1.8 0 1 0 -6 0z" fill="#fff" stroke="#f00" stroke-width="0.6"/>
<polyline fill="none" stroke="#000" stroke-width="0.7" stroke-linejoin="round"  points="59.13,228.32 59.23,225.19 59.34,222.02 59.45,218.55 59.56,214.99 59.66,211.95 59.77,209.38 59.88,207 59.98,205.02 60.09,203.64 60.2,202.7 60.3,201.9 60.41,201.25 60.52,200.73 60.63,200.36 60.73,200.08 60.84,199.83 60.95,199.61 61.05,199.41 61.16,199.23 61.27,199.07 61.38,198.93 61.48,198.79 61.59,198.66 61.7,198.53 61.8,198.39 61.91,198.25 62.02,198.1 62.13,197.93 62.23,197.76 62.34,197.58 62.45,197.39 62.55,197.2 63.41,195.76 64.27,195.08 66.09,200.36 67.26,210.19 67.91,223.28 69.08,236.63 70.26,248.72 71.55,259.29 72.4,268.36 73.15,275.41 74.33,281.45 75.29,286.49 76.04,289.21 76.58,290.83 77.11,292.27 77.65,293.57 78.19,294.76 78.72,295.85 79.26,296.84 79.79,297.75 80.33,298.62 80.86,299.45 81.4,300.25 81.93,300.98 82.47,301.64 83,302.22 83.54,302.7 84.07,303.12 84.61,303.53 85.14,303.91 85.68,304.26 86.22,304.6 86.75,304.91 87.29,305.19 87.82,305.45 88.36,305.68 88.89,305.89 89.43,306.07 89.96,306.23 90.5,306.38 91.03,306.53 91.57,306.68 92.1,306.81 92.64,306.92 93.17,307.02 93.71,307.09 94.25,307.13 94.78,307.14 95.32,307.14 95.74,307.14 96.81,307.13 97.89,307.11 98.96,307.09 100.03,307.06 101.1,307.04 102.17,307.01 103.24,306.96 104.31,306.91 105.38,306.84 106.45,306.77 107.52,306.69 108.59,306.61 109.66,306.53 110.73,306.46 111.8,306.39 112.87,306.32 113.95,306.26 115.02,306.2 116.09,306.14 117.16,306.08 118.23,306.02 119.3,305.96 120.37,305.91 121.44,305.85 122.51,305.79 123.58,305.72 124.65,305.66 125.72,305.59 126.79,305.53 127.86,305.45 128.93,305.38 130.01,305.3 131.08,305.22 132.15,305.13 133.22,305.05 134.29,304.96 135.36,304.86 136.43,304.77 137.5,304.67 138.57,304.56 139.64,304.46 140.71,304.35 141.78,304.23 142.85,304.12 143.92,304 144.99,303.87 146.07,303.74 147.14,303.6 148.21,303.45 149.28,303.3 150.35,303.15 151.42,302.99 152.49,302.83 153.56,302.67 154.63,302.5 155.7,302.34 156.77,302.17 157.84,302 158.91,301.83 159.98,301.66 161.05,301.49 162.13,301.32 163.2,301.15 164.27,300.99 165.34,300.83 166.41,300.67 167.48,300.52 168.55,300.36 169.62,300.21 170.69,300.06 171.76,299.91 172.83,299.76 173.9,299.61 174.97,299.46 176.04,299.31 177.11,299.16 178.19,299.01 179.26,298.87 180.33,298.72 181.4,298.57 182.47,298.43 183.54,298.28 184.61,298.14 185.68,297.99 186.75,297.85 187.82,297.7 188.89,297.55 189.96,297.41 191.03,297.26 192.1,297.12 193.17,296.97 194.25,296.83 195.32,296.68 196.39,296.53 197.46,296.39 198.53,296.24 199.6,296.09 200.67,295.94 201.74,295.79 202.81,295.64 203.88,295.49 204.95,295.34 206.02,295.19 207.09,295.03 208.16,294.88 209.23,294.72 210.31,294.57 211.38,294.41 212.45,294.25 213.52,294.09 214.59,293.93 215.66,293.77 216.73,293.61 217.8,293.44 218.87,293.28 219.94,293.11 221.01,292.94 222.08,292.77 223.15,292.6 224.22,292.42 225.29,292.25 226.37,292.07 227.44,291.89 228.51,291.71 229.58,291.53 230.65,291.34 231.72,291.16 232.79,290.97 233.86,290.78 234.93,290.59 236,290.4 237.07,290.21 238.14,290.02 239.21,289.82 240.28,289.63 241.35,289.43 242.43,289.23 243.5,289.04 244.57,288.84 245.64,288.64 246.71,288.44 247.78,288.24 248.85,288.03 249.92,287.83 250.99,287.63 252.06,287.43 253.13,287.22 254.2,287.02 255.27,286.82 256.34,286.61 257.41,286.41 258.49,286.2 259.56,286 260.63,285.8 261.7,285.59 262.77,285.39 263.84,285.18 264.91,284.98 265.98,284.78 267.05,284.57 268.12,284.37 269.19,284.17 270.26,283.97 271.33,283.77 272.4,283.57 273.47,283.37 274.55,283.17 275.62,282.97 276.69,282.77 277.76,282.58 278.83,282.38 279.9,282.18 280.97,281.98 282.04,281.79 283.11,281.59 284.18,281.39 285.25,281.19 286.32,280.99 287.39,280.79 288.46,280.59 289.53,280.39 290.61,280.19 291.68,279.99 292.75,279.79 293.82,279.59 294.89,279.39 295.96,279.19 297.03,279 298.1,278.8 299.17,278.6 300.24,278.4 301.31,278.2 302.38,278 303.45,277.8 304.52,277.6 305.59,277.4 306.67,277.2 307.74,277 308.81,276.81 309.88,276.61 310.95,276.41 312.02,276.21 313.09,276.02 314.16,275.82 315.23,275.63 316.3,275.43 317.37,275.24 318.44,275.04 319.51,274.85 320.58,274.65 321.65,274.46 322.73,274.27 323.8,274.08 324.87,273.89 325.94,273.7 327.01,273.51 328.08,273.32 329.15,273.13 330.22,272.95 331.29,272.76 332.36,272.57 333.43,272.39 334.5,272.2 335.57,272.02 336.64,271.83 337.71,271.65 338.79,271.47 339.86,271.28 340.93,271.1 342,270.92 343.07,270.74 344.14,270.56 345.21,270.38 346.28,270.2 347.35,270.02 348.42,269.84 349.49,269.66 350.56,269.48 351.63,269.3 352.7,269.12 353.77,268.94 354.85,268.76 355.92,268.59 356.99,268.41 358.06,268.23 359.13,268.05 360.2,267.87 361.27,267.7 362.34,267.52 363.41,267.34 364.48,267.16 365.55,266.98 366.62,266.81 367.69,266.63 368.76,266.45 369.83,266.27 370.91,266.09 371.98,265.91 373.05,265.73 374.12,265.55 375.19,265.37 376.26,265.19 377.33,265.01 378.4,264.83"/>
<path d="M56.13 226.77h6v3.1h-6zM56.23 223.64h6v3.1h-6zM56.34 220.47h6v3.1h-6zM56.45 217h6v3.1h-6zM56.56 213.44h6v3.1h-6zM56.66 210.4h6v3.1h-6zM56.77 207.83h6v3.1h-6zM56.88 205.45h6v3.1h-6zM56.98 203.47h6v3.1h-6zM57.09 202.09h6v3.1h-6zM57.2 201.15h6v3.1h-6zM57.3 200.35h6v3.1h-6zM57.41 199.7h6v3.1h-6zM57.52 199.18h6v3.1h-6zM57.63 198.81h6v3.1h-6zM57.73 198.53h6v3.1h-6zM57.84 198.28h6v3.1h-6zM57.95 198.06h6v3.1h-6zM58.05 197.86h6v3.1h-6zM58.16 197.68h6v3.1h-6zM58.27 197.52h6v3.1h-6zM58.38 197.38h6v3.1h-6zM58.48 197.24h6v3.1h-6zM58.59 197.11h6v3.1h-6zM58.7 196.98h6v3.1h-6zM58.8 196.84h6v3.1h-6zM58.91 196.7h6v3.1h-6zM59.02 196.55h6v3.1h-6zM59.13 196.38h6v3.1h-6zM59.23 196.21h6v3.1h-6zM59.34 196.03h6v3.1h-6zM59.45 195.84h6v3.1h-6zM59.55 195.65h6v3.1h-6zM60.41 194.21h6v3.1h-6zM61.27 193.53h6v3.1h-6zM63.09 198.81h6v3.1h-6zM64.26 208.64h6v3.1h-6zM64.91 221.73h6v3.1h-6zM66.08 235.08h6v3.1h-6zM67.26 247.17h6v3.1h-6zM68.55 257.74h6v3.1h-6zM69.4 266.81h6v3.1h-6zM70.15 273.86h6v3.1h-6zM71.33 279.9h6v3.1h-6zM72.29 284.94h6v3.1h-6zM73.04 287.66h6v3.1h-6zM73.58 289.28h6v3.1h-6zM74.11 290.72h6v3.1h-6zM74.65 292.02h6v3.1h-6zM75.19 293.21h6v3.1h-6zM75.72 294.3h6v3.1h-6zM76.26 295.29h6v3.1h-6zM76.79 296.2h6v3.1h-6zM77.33 297.07h6v3.1h-6zM77.86 297.9h6v3.1h-6zM78.4 298.7h6v3.1h-6zM78.93 299.43h6v3.1h-6zM79.47 300.09h6v3.1h-6zM80 300.67h6v3.1h-6zM80.54 301.15h6v3.1h-6zM81.07 301.57h6v3.1h-6zM81.61 301.98h6v3.1h-6zM82.14 302.36h6v3.1h-6zM82.68 302.71h6v3.1h-6zM83.22 303.05h6v3.1h-6zM83.75 303.36h6v3.1h-6zM84.29 303.64h6v3.1h-6zM84.82 303.9h6v3.1h-6zM85.36 304.13h6v3.1h-6zM85.89 304.34h6v3.1h-6zM86.43 304.52h6v3.1h-6zM86.96 304.68h6v3.1h-6zM87.5 304.83h6v3.1h-6zM88.03 304.98h6v3.1h-6zM88.57 305.13h6v3.1h-6zM89.1 305.26h6v3.1h-6zM89.64 305.37h6v3.1h-6zM90.17 305.47h6v3.1h-6zM90.71 305.54h6v3.1h-6zM91.25 305.58h6v3.1h-6zM91.78 305.59h6v3.1h-6zM92.32 305.59h6v3.1h-6zM92.74 305.59h6v3.1h-6zM93.81 305.58h6v3.1h-6zM94.89 305.56h6v3.1h-6zM95.96 305.54h6v3.1h-6zM97.03 305.51h6v3.1h-6zM98.1 305.49h6v3.1h-6zM99.17 305.46h6v3.1h-6zM100.24 305.41h6v3.1h-6zM101.31 305.36h6v3.1h-6zM102.38 305.29h6v3.1h-6zM103.45 305.22h6v3.1h-6zM104.52 305.14h6v3.1h-6zM105.59 305.06h6v3.1h-6zM106.66 304.98h6v3.1h-6zM107.73 304.91h6v3.1h-6zM108.8 304.84h6v3.1h-6zM109.87 304.77h6v3.1h-6zM110.95 304.71h6v3.1h-6zM112.02 304.65h6v3.1h-6zM113.09 304.59h6v3.1h-6zM114.16 304.53h6v3.1h-6zM115.23 304.47h6v3.1h-6zM116.3 304.41h6v3.1h-6zM117.37 304.36h6v3.1h-6zM118.44 304.3h6v3.1h-6zM119.51 304.24h6v3.1h-6zM120.58 304.17h6v3.1h-6zM121.65 304.11h6v3.1h-6zM122.72 304.04h6v3.1h-6zM123.79 303.98h6v3.1h-6zM124.86 303.9h6v3.1h-6zM125.93 303.83h6v3.1h-6zM127.01 303.75h6v3.1h-6zM128.08 303.67h6v3.1h-6zM129.15 303.58h6v3.1h-6zM130.22 303.5h6v3.1h-6zM131.29 303.41h6v3.1h-6zM132.36 303.31h6v3.1h-6zM133.43 303.22h6v3.1h-6zM134.5 303.12h6v3.1h-6zM135.57 303.01h6v3.1h-6zM136.64 302.91h6v3.1h-6zM137.71 302.8h6v3.1h-6zM138.78 302.68h6v3.1h-6zM139.85 302.57h6v3.1h-6zM140.92 302.45h6v3.1h-6zM141.99 302.32h6v3.1h-6zM143.07 302.19h6v3.1h-6zM144.14 302.05h6v3.1h-6zM145.21 301.9h6v3.1h-6zM146.28 301.75h6v3.1h-6zM147.35 301.6h6v3.1h-6zM148.42 301.44h6v3.1h-6zM149.49 301.28h6v3.1h-6zM150.56 301.12h6v3.1h-6zM151.63 300.95h6v3.1h-6zM152.7 300.79h6v3.1h-6zM153.77 300.62h6v3.1h-6zM154.84 300.45h6v3.1h-6zM155.91 300.28h6v3.1h-6zM156.98 300.11h6v3.1h-6zM158.05 299.94h6v3.1h-6zM159.13 299.77h6v3.1h-6zM160.2 299.6h6v3.1h-6zM161.27 299.44h6v3.1h-6zM162.34 299.28h6v3.1h-6zM163.41 299.12h6v3.1h-6zM164.48 298.97h6v3.1h-6zM165.55 298.81h6v3.1h-6zM166.62 298.66h6v3.1h-6zM167.69 298.51h6v3.1h-6zM168.76 298.36h6v3.1h-6zM169.83 298.21h6v3.1h-6zM170.9 298.06h6v3.1h-6zM171.97 297.91h6v3.1h-6zM173.04 297.76h6v3.1h-6zM174.11 297.61h6v3.1h-6zM175.19 297.46h6v3.1h-6zM176.26 297.32h6v3.1h-6zM177.33 297.17h6v3.1h-6zM178.4 297.02h6v3.1h-6zM179.47 296.88h6v3.1h-6zM180.54 296.73h6v3.1h-6zM181.61 296.59h6v3.1h-6zM182.68 296.44h6v3.1h-6zM183.75 296.3h6v3.1h-6zM184.82 296.15h6v3.1h-6zM185.89 296h6v3.1h-6zM186.96 295.86h6v3.1h-6zM188.03 295.71h6v3.1h-6zM189.1 295.57h6v3.1h-6zM190.17 295.42h6v3.1h-6zM191.25 295.28h6v3.1h-6zM192.32 295.13h6v3.1h-6zM193.39 294.98h6v3.1h-6zM194.46 294.84h6v3.1h-6zM195.53 294.69h6v3.1h-6zM196.6 294.54h6v3.1h-6zM197.67 294.39h6v3.1h-6zM198.74 294.24h6v3.1h-6zM199.81 294.09h6v3.1h-6zM200.88 293.94h6v3.1h-6zM201.95 293.79h6v3.1h-6zM203.02 293.64h6v3.1h-6zM204.09 293.48h6v3.1h-6zM205.16 293.33h6v3.1h-6zM206.23 293.17h6v3.1h-6zM207.31 293.02h6v3.1h-6zM208.38 292.86h6v3.1h-6zM209.45 292.7h6v3.1h-6zM210.52 292.54h6v3.1h-6zM211.59 292.38h6v3.1h-6zM212.66 292.22h6v3.1h-6zM213.73 292.06h6v3.1h-6zM214.8 291.89h6v3.1h-6zM215.87 291.73h6v3.1h-6zM216.94 291.56h6v3.1h-6zM218.01 291.39h6v3.1h-6zM219.08 291.22h6v3.1h-6zM220.15 291.05h6v3.1h-6zM221.22 290.87h6v3.1h-6zM222.29 290.7h6v3.1h-6zM223.37 290.52h6v3.1h-6zM224.44 290.34h6v3.1h-6zM225.51 290.16h6v3.1h-6zM226.58 289.98h6v3.1h-6zM227.65 289.79h6v3.1h-6zM228.72 289.61h6v3.1h-6zM229.79 289.42h6v3.1h-6zM230.86 289.23h6v3.1h-6zM231.93 289.04h6v3.1h-6zM233 288.85h6v3.1h-6zM234.07 288.66h6v3.1h-6zM235.14 288.47h6v3.1h-6zM236.21 288.27h6v3.1h-6zM237.28 288.08h6v3.1h-6zM238.35 287.88h6v3.1h-6zM239.43 287.68h6v3.1h-6zM240.5 287.49h6v3.1h-6zM241.57 287.29h6v3.1h-6zM242.64 287.09h6v3.1h-6zM243.71 286.89h6v3.1h-6zM244.78 286.69h6v3.1h-6zM245.85 286.48h6v3.1h-6zM246.92 286.28h6v3.1h-6zM247.99 286.08h6v3.1h-6zM249.06 285.88h6v3.1h-6zM250.13 285.67h6v3.1h-6zM251.2 285.47h6v3.1h-6zM252.27 285.27h6v3.1h-6zM253.34 285.06h6v3.1h-6zM254.41 284.86h6v3.1h-6zM255.49 284.65h6v3.1h-6zM256.56 284.45h6v3.1h-6zM257.63 284.25h6v3.1h-6zM258.7 284.04h6v3.1h-6zM259.77 283.84h6v3.1h-6zM260.84 283.63h6v3.1h-6zM261.91 283.43h6v3.1h-6zM262.98 283.23h6v3.1h-6zM264.05 283.02h6v3.1h-6zM265.12 282.82h6v3.1h-6zM266.19 282.62h6v3.1h-6zM267.26 282.42h6v3.1h-6zM268.33 282.22h6v3.1h-6zM269.4 282.02h6v3.1h-6zM270.47 281.82h6v3.1h-6zM271.55 281.62h6v3.1h-6zM272.62 281.42h6v3.1h-6zM273.69 281.22h6v3.1h-6zM274.76 281.03h6v3.1h-6zM275.83 280.83h6v3.1h-6zM276.9 280.63h6v3.1h-6zM277.97 280.43h6v3.1h-6zM279.04 280.24h6v3.1h-6zM280.11 280.04h6v3.1h-6zM281.18 279.84h6v3.1h-6zM282.25 279.64h6v3.1h-6zM283.32 279.44h6v3.1h-6zM284.39 279.24h6v3.1h-6zM285.46 279.04h6v3.1h-6zM286.53 278.84h6v3.1h-6zM287.61 278.64h6v3.1h-6zM288.68 278.44h6v3.1h-6zM289.75 278.24h6v3.1h-6zM290.82 278.04h6v3.1h-6zM291.89 277.84h6v3.1h-6zM292.96 277.64h6v3.1h-6zM294.03 277.45h6v3.1h-6zM295.1 277.25h6v3.1h-6zM296.17 277.05h6v3.1h-6zM297.24 276.85h6v3.1h-6zM298.31 276.65h6v3.1h-6zM299.38 276.45h6v3.1h-6zM300.45 276.25h6v3.1h-6zM301.52 276.05h6v3.1h-6zM302.59 275.85h6v3.1h-6zM303.67 275.65h6v3.1h-6zM304.74 275.45h6v3.1h-6zM305.81 275.26h6v3.1h-6zM306.88 275.06h6v3.1h-6zM307.95 274.86h6v3.1h-6zM309.02 274.66h6v3.1h-6zM310.09 274.47h6v3.1h-6zM311.16 274.27h6v3.1h-6zM312.23 274.08h6v3.1h-6zM313.3 273.88h6v3.1h-6zM314.37 273.69h6v3.1h-6zM315.44 273.49h6v3.1h-6zM316.51 273.3h6v3.1h-6zM317.58 273.1h6v3.1h-6zM318.65 272.91h6v3.1h-6zM319.73 272.72h6v3.1h-6zM320.8 272.53h6v3.1h-6zM321.87 272.34h6v3.1h-6zM322.94 272.15h6v3.1h-6zM324.01 271.96h6v3.1h-6zM325.08 271.77h6v3.1h-6zM326.15 271.58h6v3.1h-6zM327.22 271.4h6v3.1h-6zM328.29 271.21h6v3.1h-6zM329.36 271.02h6v3.1h-6zM330.43 270.84h6v3.1h-6zM331.5 270.65h6v3.1h-6zM332.57 270.47h6v3.1h-6zM333.64 270.28h6v3.1h-6zM334.71 270.1h6v3.1h-6zM335.79 269.92h6v3.1h-6zM336.86 269.73h6v3.1h-6zM337.93 269.55h6v3.1h-6zM339 269.37h6v3.1h-6zM340.07 269.19h6v3.1h-6zM341.14 269.01h6v3.1h-6zM342.21 268.83h6v3.1h-6zM343.28 268.65h6v3.1h-6zM344.35 268.47h6v3.1h-6zM345.42 268.29h6v3.1h-6zM346.49 268.11h6v3.1h-6zM347.56 267.93h6v3.1h-6zM348.63 267.75h6v3.1h-6zM349.7 267.57h6v3.1h-6zM350.77 267.39h6v3.1h-6zM351.85 267.21h6v3.1h-6zM352.92 267.04h6v3.1h-6zM353.99 266.86h6v3.1h-6zM355.06 266.68h6v3.1h-6zM356.13 266.5h6v3.1h-6zM357.2 266.32h6v3.1h-6zM358.27 266.15h6v3.1h-6zM359.34 265.97h6v3.1h-6zM360.41 265.79h6v3.1h-6zM361.48 265.61h6v3.1h-6zM362.55 265.43h6v3.1h-6zM363.62 265.26h6v3.1h-6zM364.69 265.08h6v3.1h-6zM365.76 264.9h6v3.1h-6zM366.83 264.72h6v3.1h-6zM367.91 264.54h6v3.1h-6zM368.98 264.36h6v3.1h-6zM370.05 264.18h6v3.1h-6zM371.12 264h6v3.1h-6zM372.19 263.82h6v3.1h-6zM373.26 263.64h6v3.1h-6zM374.33 263.46h6v3.1h-6zM375.4 263.28h6v3.1h-6z" fill="#000"/>
</g>
<line x1="57.2" y1="163.53" x2="57.2" y2="315.77" stroke="#000" stroke-width="1.15" />
<line x1="378.4" y1="163.53" x2="378.4" y2="315.77" stroke="#000" stroke-width="1.15" />
<line x1="57.2" y1="164.1" x2="378.4" y2="164.1" stroke="#000" stroke-width="1.15" />
<line x1="57.2" y1="315.2" x2="378.4" y2="315.2" stroke="#000" stroke-width="1.15" />
<line x1="57.2" y1="315.2" x2="57.2" y2="312" stroke="#000" stroke-width="1" />
<line x1="110.73" y1="315.2" x2="110.73" y2="312" stroke="#000" stroke-width="1" />
<line x1="164.27" y1="315.2" x2="164.27" y2="312" stroke="#000" stroke-width="1" />
<line x1="217.8" y1="315.2" x2="217.8" y2="312" stroke="#000" stroke-width="1" />
<line x1="271.33" y1="315.2" x2="271.33" y2="312" stroke="#000" stroke-width="1" />
<line x1="324.87" y1="315.2" x2="324.87" y2="312" stroke="#000" stroke-width="1" />
<line x1="378.4" y1="315.2" x2="378.4" y2="312" stroke="#000" stroke-width="1" />
<line x1="83.97" y1="315.2" x2="83.97" y2="313.5" stroke="#000" stroke-width="1" />
<line x1="137.5" y1="315.2" x2="137.5" y2="313.5" stroke="#000" stroke-width="1" />
<line x1="191.03" y1="315.2" x2="191.03" y2="313.5" stroke="#000" stroke-width="1" />
<line x1="244.57" y1="315.2" x2="244.57" y2="313.5" stroke="#000" stroke-width="1" />
<line x1="298.1" y1="315.2" x2="298.1" y2="313.5" stroke="#000" stroke-width="1" />
<line x1="351.63" y1="315.2" x2="351.63" y2="313.5" stroke="#000" stroke-width="1" />
<line x1="57.2" y1="164.1" x2="57.2" y2="166.1" stroke="#000" stroke-width="1" />
<line x1="110.73" y1="164.1" x2="110.73" y2="166.1" stroke="#000" stroke-width="1" />
<line x1="164.27" y1="164.1" x2="164.27" y2="166.1" stroke="#000" stroke-width="1" />
<line x1="217.8" y1="164.1" x2="217.8" y2="166.1" stroke="#000" stroke-width="1" />
<line x1="271.33" y1="164.1" x2="271.33" y2="166.1" stroke="#000" stroke-width="1" />
<line x1="324.87" y1="164.1" x2="324.87" y2="166.1" stroke="#000" stroke-width="1" />
<line x1="378.4" y1="164.1" x2="378.4" y2="166.1" stroke="#000" stroke-width="1" />
<line x1="83.97" y1="164.1" x2="83.97" y2="165.3" stroke="#000" stroke-width="1" />
<line x1="137.5" y1="164.1" x2="137.5" y2="165.3" stroke="#000" stroke-width="1" />
<line x1="191.03" y1="164.1" x2="191.03" y2="165.3" stroke="#000" stroke-width="1" />
<line x1="244.57" y1="164.1" x2="244.57" y2="165.3" stroke="#000" stroke-width="1" />
<line x1="298.1" y1="164.1" x2="298.1" y2="165.3" stroke="#000" stroke-width="1" />
<line x1="351.63" y1="164.1" x2="351.63" y2="165.3" stroke="#000" stroke-width="1" />
<line x1="57.2" y1="315.2" x2="63.2" y2="315.2" stroke="#000" stroke-width="1" />
<line x1="57.2" y1="290.02" x2="63.2" y2="290.02" stroke="#000" stroke-width="1" />
<line x1="57.2" y1="264.83" x2="63.2" y2="264.83" stroke="#000" stroke-width="1" />
<line x1="57.2" y1="239.65" x2="63.2" y2="239.65" stroke="#000" stroke-width="1" />
<line x1="57.2" y1="214.47" x2="63.2" y2="214.47" stroke="#000" stroke-width="1" />
<line x1="57.2" y1="189.28" x2="63.2" y2="189.28" stroke="#000" stroke-width="1" />
<line x1="57.2" y1="164.1" x2="63.2" y2="164.1" stroke="#000" stroke-width="1" />
<line x1="57.2" y1="302.61" x2="60.4" y2="302.61" stroke="#000" stroke-width="1" />
<line x1="57.2" y1="277.43" x2="60.4" y2="277.43" stroke="#000" stroke-width="1" />
<line x1="57.2" y1="252.24" x2="60.4" y2="252.24" stroke="#000" stroke-width="1" />
<line x1="57.2" y1="227.06" x2="60.4" y2="227.06" stroke="#000" stroke-width="1" />
<line x1="57.2" y1="201.88" x2="60.4" y2="201.88" stroke="#000" stroke-width="1" />
<line x1="57.2" y1="176.69" x2="60.4" y2="176.69" stroke="#000" stroke-width="1" />
<line x1="378.4" y1="315.2" x2="372.9" y2="315.2" stroke="#000" stroke-width="1" />
<line x1="378.4" y1="290.02" x2="372.9" y2="290.02" stroke="#000" stroke-width="1" />
<line x1="378.4" y1="264.83" x2="372.9" y2="264.83" stroke="#000" stroke-width="1" />
<line x1="378.4" y1="239.65" x2="372.9" y2="239.65" stroke="#000" stroke-width="1" />
<line x1="378.4" y1="214.47" x2="372.9" y2="214.47" stroke="#000" stroke-width="1" />
<line x1="378.4" y1="189.28" x2="372.9" y2="189.28" stroke="#000" stroke-width="1" />
<line x1="378.4" y1="164.1" x2="372.9" y2="164.1" stroke="#000" stroke-width="1" />
<line x1="378.4" y1="302.61" x2="375.2" y2="302.61" stroke="#000" stroke-width="1" />
<line x1="378.4" y1="277.43" x2="375.2" y2="277.43" stroke="#000" stroke-width="1" />
<line x1="378.4" y1="252.24" x2="375.2" y2="252.24" stroke="#000" stroke-width="1" />
<line x1="378.4" y1="227.06" x2="375.2" y2="227.06" stroke="#000" stroke-width="1" />
<line x1="378.4" y1="201.88" x2="375.2" y2="201.88" stroke="#000" stroke-width="1" />
<line x1="378.4" y1="176.69" x2="375.2" y2="176.69" stroke="#000" stroke-width="1" />
<text transform="translate(57.2,325.3) scale(1.62,1)" font-family="Liberation Sans" font-size="8.5" text-anchor="middle" fill="#000" stroke="#000" stroke-width="0.13" >0</text>
<text transform="translate(110.73,325.3) scale(1.62,1)" font-family="Liberation Sans" font-size="8.5" text-anchor="middle" fill="#000" stroke="#000" stroke-width="0.13" >50</text>
<text transform="translate(164.27,325.3) scale(1.62,1)" font-family="Liberation Sans" font-size="8.5" text-anchor="middle" fill="#000" stroke="#000" stroke-width="0.13" >100</text>
<text transform="translate(217.8,325.3) scale(1.62,1)" font-family="Liberation Sans" font-size="8.5" text-anchor="middle" fill="#000" stroke="#000" stroke-width="0.13" >150</text>
<text transform="translate(271.33,325.3) scale(1.62,1)" font-family="Liberation Sans" font-size="8.5" text-anchor="middle" fill="#000" stroke="#000" stroke-width="0.13" >200</text>
<text transform="translate(324.87,325.3) scale(1.62,1)" font-family="Liberation Sans" font-size="8.5" text-anchor="middle" fill="#000" stroke="#000" stroke-width="0.13" >250</text>
<text transform="translate(378.4,325.3) scale(1.62,1)" font-family="Liberation Sans" font-size="8.5" text-anchor="middle" fill="#000" stroke="#000" stroke-width="0.13" >300</text>
<text transform="translate(52,318.2) scale(1.62,1)" font-family="Liberation Sans" font-size="8.5" text-anchor="end" fill="#000" stroke="#000" stroke-width="0.13" >0</text>
<text transform="translate(52,293.02) scale(1.62,1)" font-family="Liberation Sans" font-size="8.5" text-anchor="end" fill="#000" stroke="#000" stroke-width="0.13" >10</text>
<text transform="translate(52,267.83) scale(1.62,1)" font-family="Liberation Sans" font-size="8.5" text-anchor="end" fill="#000" stroke="#000" stroke-width="0.13" >20</text>
<text transform="translate(52,242.65) scale(1.62,1)" font-family="Liberation Sans" font-size="8.5" text-anchor="end" fill="#000" stroke="#000" stroke-width="0.13" >30</text>
<text transform="translate(52,217.47) scale(1.62,1)" font-family="Liberation Sans" font-size="8.5" text-anchor="end" fill="#000" stroke="#000" stroke-width="0.13" >40</text>
<text transform="translate(52,192.28) scale(1.62,1)" font-family="Liberation Sans" font-size="8.5" text-anchor="end" fill="#000" stroke="#000" stroke-width="0.13" >50</text>
<text transform="translate(52,167.1) scale(1.62,1)" font-family="Liberation Sans" font-size="8.5" text-anchor="end" fill="#000" stroke="#000" stroke-width="0.13" >60</text>
<text transform="translate(219,340.7) scale(1.62,1)" font-family="Liberation Sans" font-size="10.2" text-anchor="middle" fill="#000" stroke="#000" stroke-width="0.17" ><tspan font-style="italic">T</tspan> (K)</text>
<text transform="translate(24.5,245.8) rotate(-90) scale(1,1.55)" font-family="Liberation Sans" font-size="10" text-anchor="middle" fill="#000" stroke="#000" stroke-width="0.17" ><tspan font-style="italic">H</tspan>/<tspan font-style="italic">M</tspan> (mol/emu)</text>
<text transform="translate(342.8,305.6) scale(1.62,1)" font-family="Liberation Sans" font-size="8.5" text-anchor="start" fill="#000" stroke="#000" stroke-width="0.13" >(a)</text>
<text transform="translate(285.6,181.2) scale(1.62,1)" font-family="Liberation Sans" font-size="10.2" text-anchor="start" fill="#000" stroke="#000" stroke-width="0.17" >TbCo<tspan dy="4" font-size="66%">2</tspan><tspan dy="-4" font-size="1%"> </tspan>Ge<tspan dy="4" font-size="66%">2</tspan><tspan dy="-4" font-size="1%"> </tspan></text>
<line x1="287" y1="192.7" x2="318.3" y2="192.7" stroke="#000" stroke-width="0.6" />
<line x1="287" y1="203.6" x2="318.3" y2="203.6" stroke="#f00" stroke-width="0.6" />
<line x1="287" y1="213.9" x2="318.3" y2="213.9" stroke="#00f" stroke-width="0.6" />
<path d="M300 191h6v3.4h-6z" fill="#000"/>
<path d="M300 203.6a3 2 0 1 0 6 0a3 2 0 1 0 -6 0z" fill="#fff" stroke="#f00" stroke-width="0.8"/>
<path d="M302.1 213.2h1.8v1.4h-1.8z" fill="#00f"/>
<text transform="translate(323.9,195.5) scale(1.62,1)" font-family="Liberation Sans" font-size="8.5" text-anchor="start" fill="#000" stroke="#000" stroke-width="0.13" ><tspan font-style="italic">H</tspan>||<tspan font-style="italic">c</tspan></text>
<text transform="translate(323.9,206.4) scale(1.62,1)" font-family="Liberation Sans" font-size="8.5" text-anchor="start" fill="#000" stroke="#000" stroke-width="0.13" ><tspan font-style="italic">H</tspan>||(<tspan font-style="italic">ab</tspan>)</text>
<text transform="translate(323.9,216.7) scale(1.62,1)" font-family="Liberation Sans" font-size="8.5" text-anchor="start" fill="#000" stroke="#000" stroke-width="0.13" >avg</text>
<rect x="105.4" y="172" width="140.9" height="62.4" fill="#fff"/>
<path d="M108.97 222.5a1.4 0.9 0 1 0 2.8 0a1.4 0.9 0 1 0 -2.8 0zM109.53 222.44a1.4 0.9 0 1 0 2.8 0a1.4 0.9 0 1 0 -2.8 0zM110.08 222.25a1.4 0.9 0 1 0 2.8 0a1.4 0.9 0 1 0 -2.8 0zM110.63 222.09a1.4 0.9 0 1 0 2.8 0a1.4 0.9 0 1 0 -2.8 0zM111.18 222.08a1.4 0.9 0 1 0 2.8 0a1.4 0.9 0 1 0 -2.8 0zM111.74 222.18a1.4 0.9 0 1 0 2.8 0a1.4 0.9 0 1 0 -2.8 0zM112.29 222.34a1.4 0.9 0 1 0 2.8 0a1.4 0.9 0 1 0 -2.8 0zM112.84 222.55a1.4 0.9 0 1 0 2.8 0a1.4 0.9 0 1 0 -2.8 0zM113.39 222.79a1.4 0.9 0 1 0 2.8 0a1.4 0.9 0 1 0 -2.8 0zM113.95 223.01a1.4 0.9 0 1 0 2.8 0a1.4 0.9 0 1 0 -2.8 0zM114.5 223.21a1.4 0.9 0 1 0 2.8 0a1.4 0.9 0 1 0 -2.8 0zM115.05 223.36a1.4 0.9 0 1 0 2.8 0a1.4 0.9 0 1 0 -2.8 0zM117.4 223.76a1.4 0.9 0 1 0 2.8 0a1.4 0.9 0 1 0 -2.8 0zM119.75 224.07a1.4 0.9 0 1 0 2.8 0a1.4 0.9 0 1 0 -2.8 0zM122.1 224.33a1.4 0.9 0 1 0 2.8 0a1.4 0.9 0 1 0 -2.8 0zM124.44 224.58a1.4 0.9 0 1 0 2.8 0a1.4 0.9 0 1 0 -2.8 0zM126.79 224.83a1.4 0.9 0 1 0 2.8 0a1.4 0.9 0 1 0 -2.8 0zM129.14 225.04a1.4 0.9 0 1 0 2.8 0a1.4 0.9 0 1 0 -2.8 0zM131.49 225.19a1.4 0.9 0 1 0 2.8 0a1.4 0.9 0 1 0 -2.8 0zM133.84 225.29a1.4 0.9 0 1 0 2.8 0a1.4 0.9 0 1 0 -2.8 0zM136.19 225.37a1.4 0.9 0 1 0 2.8 0a1.4 0.9 0 1 0 -2.8 0zM138.53 225.44a1.4 0.9 0 1 0 2.8 0a1.4 0.9 0 1 0 -2.8 0zM140.88 225.5a1.4 0.9 0 1 0 2.8 0a1.4 0.9 0 1 0 -2.8 0zM143.23 225.54a1.4 0.9 0 1 0 2.8 0a1.4 0.9 0 1 0 -2.8 0zM145.58 225.57a1.4 0.9 0 1 0 2.8 0a1.4 0.9 0 1 0 -2.8 0zM147.93 225.58a1.4 0.9 0 1 0 2.8 0a1.4 0.9 0 1 0 -2.8 0zM150.28 225.6a1.4 0.9 0 1 0 2.8 0a1.4 0.9 0 1 0 -2.8 0zM152.62 225.61a1.4 0.9 0 1 0 2.8 0a1.4 0.9 0 1 0 -2.8 0zM154.97 225.62a1.4 0.9 0 1 0 2.8 0a1.4 0.9 0 1 0 -2.8 0zM157.32 225.64a1.4 0.9 0 1 0 2.8 0a1.4 0.9 0 1 0 -2.8 0zM159.67 225.65a1.4 0.9 0 1 0 2.8 0a1.4 0.9 0 1 0 -2.8 0zM162.02 225.66a1.4 0.9 0 1 0 2.8 0a1.4 0.9 0 1 0 -2.8 0zM164.37 225.67a1.4 0.9 0 1 0 2.8 0a1.4 0.9 0 1 0 -2.8 0zM166.71 225.68a1.4 0.9 0 1 0 2.8 0a1.4 0.9 0 1 0 -2.8 0zM169.06 225.69a1.4 0.9 0 1 0 2.8 0a1.4 0.9 0 1 0 -2.8 0zM171.41 225.7a1.4 0.9 0 1 0 2.8 0a1.4 0.9 0 1 0 -2.8 0zM173.76 225.7a1.4 0.9 0 1 0 2.8 0a1.4 0.9 0 1 0 -2.8 0zM176.11 225.71a1.4 0.9 0 1 0 2.8 0a1.4 0.9 0 1 0 -2.8 0zM178.46 225.72a1.4 0.9 0 1 0 2.8 0a1.4 0.9 0 1 0 -2.8 0zM180.8 225.72a1.4 0.9 0 1 0 2.8 0a1.4 0.9 0 1 0 -2.8 0zM181.36 225.72a1.4 0.9 0 1 0 2.8 0a1.4 0.9 0 1 0 -2.8 0zM182.19 225.73a1.4 0.9 0 1 0 2.8 0a1.4 0.9 0 1 0 -2.8 0zM183.01 225.73a1.4 0.9 0 1 0 2.8 0a1.4 0.9 0 1 0 -2.8 0zM183.84 225.73a1.4 0.9 0 1 0 2.8 0a1.4 0.9 0 1 0 -2.8 0zM184.67 225.73a1.4 0.9 0 1 0 2.8 0a1.4 0.9 0 1 0 -2.8 0zM185.5 225.73a1.4 0.9 0 1 0 2.8 0a1.4 0.9 0 1 0 -2.8 0zM186.33 225.73a1.4 0.9 0 1 0 2.8 0a1.4 0.9 0 1 0 -2.8 0zM187.16 225.74a1.4 0.9 0 1 0 2.8 0a1.4 0.9 0 1 0 -2.8 0zM187.99 225.74a1.4 0.9 0 1 0 2.8 0a1.4 0.9 0 1 0 -2.8 0zM188.82 225.74a1.4 0.9 0 1 0 2.8 0a1.4 0.9 0 1 0 -2.8 0zM189.65 225.74a1.4 0.9 0 1 0 2.8 0a1.4 0.9 0 1 0 -2.8 0zM190.47 225.74a1.4 0.9 0 1 0 2.8 0a1.4 0.9 0 1 0 -2.8 0zM191.3 225.74a1.4 0.9 0 1 0 2.8 0a1.4 0.9 0 1 0 -2.8 0zM192.13 225.74a1.4 0.9 0 1 0 2.8 0a1.4 0.9 0 1 0 -2.8 0zM192.96 225.74a1.4 0.9 0 1 0 2.8 0a1.4 0.9 0 1 0 -2.8 0zM193.79 225.74a1.4 0.9 0 1 0 2.8 0a1.4 0.9 0 1 0 -2.8 0zM194.62 225.74a1.4 0.9 0 1 0 2.8 0a1.4 0.9 0 1 0 -2.8 0zM195.45 225.75a1.4 0.9 0 1 0 2.8 0a1.4 0.9 0 1 0 -2.8 0zM196.28 225.75a1.4 0.9 0 1 0 2.8 0a1.4 0.9 0 1 0 -2.8 0zM197.1 225.75a1.4 0.9 0 1 0 2.8 0a1.4 0.9 0 1 0 -2.8 0zM197.93 225.75a1.4 0.9 0 1 0 2.8 0a1.4 0.9 0 1 0 -2.8 0zM198.76 225.75a1.4 0.9 0 1 0 2.8 0a1.4 0.9 0 1 0 -2.8 0zM199.59 225.75a1.4 0.9 0 1 0 2.8 0a1.4 0.9 0 1 0 -2.8 0zM200.42 225.75a1.4 0.9 0 1 0 2.8 0a1.4 0.9 0 1 0 -2.8 0zM201.25 225.75a1.4 0.9 0 1 0 2.8 0a1.4 0.9 0 1 0 -2.8 0zM202.08 225.75a1.4 0.9 0 1 0 2.8 0a1.4 0.9 0 1 0 -2.8 0zM202.91 225.75a1.4 0.9 0 1 0 2.8 0a1.4 0.9 0 1 0 -2.8 0z" fill="none" stroke="#f33" stroke-width="0.38"/>
<polyline fill="none" stroke="#f55" stroke-width="0.5" stroke-linejoin="round" stroke-dasharray="2.5 2.5" points="204.86,225.75 206.24,225.75 207.62,225.74 209,225.74 210.38,225.73 211.77,225.72 213.15,225.71 214.53,225.7 215.91,225.68 217.29,225.66 218.67,225.65 220.05,225.63 221.44,225.61 222.82,225.59 224.2,225.56 225.58,225.54 226.96,225.52 228.34,225.49 229.72,225.47 231.1,225.45 232.49,225.42 233.87,225.4 235.25,225.37 236.63,225.35 238.01,225.32 239.39,225.3 240.77,225.28 242.16,225.26 243.54,225.24 244.92,225.22 246.3,225.2"/>
<path d="M206.22 225.74a1.4 0.9 0 1 0 2.8 0a1.4 0.9 0 1 0 -2.8 0zM213.4 225.69a1.4 0.9 0 1 0 2.8 0a1.4 0.9 0 1 0 -2.8 0zM220.59 225.6a1.4 0.9 0 1 0 2.8 0a1.4 0.9 0 1 0 -2.8 0zM227.77 225.48a1.4 0.9 0 1 0 2.8 0a1.4 0.9 0 1 0 -2.8 0zM234.95 225.35a1.4 0.9 0 1 0 2.8 0a1.4 0.9 0 1 0 -2.8 0zM242.14 225.24a1.4 0.9 0 1 0 2.8 0a1.4 0.9 0 1 0 -2.8 0z" fill="none" stroke="#f55" stroke-width="0.35"/>
<polyline fill="none" stroke="#000" stroke-width="0.5" stroke-linejoin="round"  points="110.93,229.98 112.31,229.64 113.69,229.43 115.07,229.53 116.45,229.76 117.83,230.07 119.21,230.38 120.6,230.62 121.98,230.72 123.36,230.69 124.74,230.61 126.12,230.49 127.5,230.35 128.88,230.11 130.26,229.75 131.65,229.31 133.03,228.88 134.41,228.45 135.79,228 137.17,227.53 138.55,227.04 139.93,226.53 141.32,226.01 142.7,225.45 144.08,224.83 145.46,224.13 146.84,223.35 148.22,222.51 149.6,221.61 150.99,220.67 152.37,219.67 153.75,218.61 155.13,217.46 156.51,216.23 157.89,214.95 159.27,213.64 160.65,212.31 162.04,210.96 163.42,209.56 164.8,208.13 166.18,206.66 167.56,205.17 168.94,203.66 170.32,202.14 171.71,200.62 173.09,199.1 174.47,197.59 175.85,196.08 177.23,194.56 178.61,193.04 179.99,191.5 181.38,189.95 182.76,188.38 184.14,186.74 185.52,185.05 186.9,183.41 188.28,181.94 189.66,180.66 191.05,179.5 192.43,178.4 193.81,177.34 195.19,176.21 196.57,175.13 197.95,174.39 199.33,173.95 200.71,173.61 202.1,173.47 203.48,173.47 204.86,173.47 206.24,173.49 207.62,173.53 209,173.61 210.38,173.71 211.77,173.84 213.15,173.99 214.53,174.16 215.91,174.36 217.29,174.57 218.67,174.8 220.05,175.05 221.44,175.31 222.82,175.58 224.2,175.87 225.58,176.16 226.96,176.47 228.34,176.78 229.72,177.09 231.1,177.41 232.49,177.73 233.87,178.05 235.25,178.36 236.63,178.68 238.01,178.99 239.39,179.29 240.77,179.58 242.16,179.87 243.54,180.14 244.92,180.4 246.3,180.65"/>
<path d="M109.63 229.18h2.6v1.6h-2.6zM110.73 228.91h2.6v1.6h-2.6zM111.84 228.67h2.6v1.6h-2.6zM112.94 228.65h2.6v1.6h-2.6zM114.05 228.76h2.6v1.6h-2.6zM115.15 228.96h2.6v1.6h-2.6zM116.26 229.21h2.6v1.6h-2.6zM117.36 229.47h2.6v1.6h-2.6zM118.47 229.69h2.6v1.6h-2.6zM119.57 229.86h2.6v1.6h-2.6zM120.68 229.92h2.6v1.6h-2.6zM121.78 229.9h2.6v1.6h-2.6zM122.89 229.85h2.6v1.6h-2.6zM123.99 229.76h2.6v1.6h-2.6zM125.1 229.66h2.6v1.6h-2.6zM126.2 229.55h2.6v1.6h-2.6zM127.31 229.37h2.6v1.6h-2.6zM128.41 229.1h2.6v1.6h-2.6zM129.52 228.78h2.6v1.6h-2.6zM130.62 228.42h2.6v1.6h-2.6zM131.73 228.08h2.6v1.6h-2.6zM132.83 227.74h2.6v1.6h-2.6zM133.94 227.39h2.6v1.6h-2.6zM135.04 227.02h2.6v1.6h-2.6zM136.15 226.63h2.6v1.6h-2.6zM137.25 226.24h2.6v1.6h-2.6zM140.02 225.21h2.6v1.6h-2.6zM142.78 224.03h2.6v1.6h-2.6zM145.54 222.55h2.6v1.6h-2.6zM148.3 220.81h2.6v1.6h-2.6zM151.07 218.87h2.6v1.6h-2.6zM153.83 216.66h2.6v1.6h-2.6zM156.59 214.15h2.6v1.6h-2.6zM159.35 211.51h2.6v1.6h-2.6zM162.12 208.76h2.6v1.6h-2.6zM164.88 205.86h2.6v1.6h-2.6zM167.64 202.86h2.6v1.6h-2.6zM170.41 199.82h2.6v1.6h-2.6zM173.17 196.79h2.6v1.6h-2.6zM175.93 193.76h2.6v1.6h-2.6zM178.69 190.7h2.6v1.6h-2.6zM181.46 187.58h2.6v1.6h-2.6zM182.15 186.78h2.6v1.6h-2.6zM182.84 185.94h2.6v1.6h-2.6zM183.53 185.09h2.6v1.6h-2.6zM184.22 184.25h2.6v1.6h-2.6zM184.91 183.41h2.6v1.6h-2.6zM185.6 182.61h2.6v1.6h-2.6zM186.29 181.84h2.6v1.6h-2.6zM186.98 181.14h2.6v1.6h-2.6zM187.67 180.49h2.6v1.6h-2.6zM188.36 179.86h2.6v1.6h-2.6zM189.05 179.27h2.6v1.6h-2.6zM189.75 178.7h2.6v1.6h-2.6zM190.44 178.14h2.6v1.6h-2.6zM191.13 177.6h2.6v1.6h-2.6zM191.82 177.07h2.6v1.6h-2.6zM192.51 176.54h2.6v1.6h-2.6zM193.2 175.99h2.6v1.6h-2.6zM193.89 175.41h2.6v1.6h-2.6zM194.58 174.85h2.6v1.6h-2.6zM195.27 174.33h2.6v1.6h-2.6zM195.96 173.9h2.6v1.6h-2.6zM196.65 173.59h2.6v1.6h-2.6zM197.34 173.36h2.6v1.6h-2.6zM198.03 173.15h2.6v1.6h-2.6zM198.72 172.96h2.6v1.6h-2.6zM199.41 172.81h2.6v1.6h-2.6zM200.11 172.71h2.6v1.6h-2.6zM200.8 172.67h2.6v1.6h-2.6zM201.49 172.67h2.6v1.6h-2.6zM202.18 172.67h2.6v1.6h-2.6zM202.87 172.67h2.6v1.6h-2.6zM203.56 172.67h2.6v1.6h-2.6zM209.08 172.91h2.6v1.6h-2.6zM216.27 173.82h2.6v1.6h-2.6zM223.45 175.19h2.6v1.6h-2.6zM230.63 176.8h2.6v1.6h-2.6zM237.82 178.43h2.6v1.6h-2.6z" fill="#000"/>
<line x1="105.4" y1="171.6" x2="105.4" y2="234.8" stroke="#7a7a7a" stroke-width="0.8" />
<line x1="246.3" y1="171.6" x2="246.3" y2="234.8" stroke="#7a7a7a" stroke-width="0.8" />
<line x1="105.4" y1="172" x2="246.3" y2="172" stroke="#7a7a7a" stroke-width="0.8" />
<line x1="105.4" y1="234.4" x2="246.3" y2="234.4" stroke="#7a7a7a" stroke-width="0.8" />
<line x1="105.4" y1="234.4" x2="105.4" y2="232.4" stroke="#7a7a7a" stroke-width="0.7" />
<line x1="133.03" y1="234.4" x2="133.03" y2="232.4" stroke="#7a7a7a" stroke-width="0.7" />
<line x1="160.65" y1="234.4" x2="160.65" y2="232.4" stroke="#7a7a7a" stroke-width="0.7" />
<line x1="188.28" y1="234.4" x2="188.28" y2="232.4" stroke="#7a7a7a" stroke-width="0.7" />
<line x1="215.91" y1="234.4" x2="215.91" y2="232.4" stroke="#7a7a7a" stroke-width="0.7" />
<line x1="243.54" y1="234.4" x2="243.54" y2="232.4" stroke="#7a7a7a" stroke-width="0.7" />
<line x1="119.21" y1="234.4" x2="119.21" y2="233.2" stroke="#7a7a7a" stroke-width="0.7" />
<line x1="146.84" y1="234.4" x2="146.84" y2="233.2" stroke="#7a7a7a" stroke-width="0.7" />
<line x1="174.47" y1="234.4" x2="174.47" y2="233.2" stroke="#7a7a7a" stroke-width="0.7" />
<line x1="202.1" y1="234.4" x2="202.1" y2="233.2" stroke="#7a7a7a" stroke-width="0.7" />
<line x1="229.72" y1="234.4" x2="229.72" y2="233.2" stroke="#7a7a7a" stroke-width="0.7" />
<line x1="105.4" y1="172" x2="105.4" y2="173.5" stroke="#7a7a7a" stroke-width="0.7" />
<line x1="133.03" y1="172" x2="133.03" y2="173.5" stroke="#7a7a7a" stroke-width="0.7" />
<line x1="160.65" y1="172" x2="160.65" y2="173.5" stroke="#7a7a7a" stroke-width="0.7" />
<line x1="188.28" y1="172" x2="188.28" y2="173.5" stroke="#7a7a7a" stroke-width="0.7" />
<line x1="215.91" y1="172" x2="215.91" y2="173.5" stroke="#7a7a7a" stroke-width="0.7" />
<line x1="243.54" y1="172" x2="243.54" y2="173.5" stroke="#7a7a7a" stroke-width="0.7" />
<line x1="119.21" y1="172" x2="119.21" y2="173" stroke="#7a7a7a" stroke-width="0.7" />
<line x1="146.84" y1="172" x2="146.84" y2="173" stroke="#7a7a7a" stroke-width="0.7" />
<line x1="174.47" y1="172" x2="174.47" y2="173" stroke="#7a7a7a" stroke-width="0.7" />
<line x1="202.1" y1="172" x2="202.1" y2="173" stroke="#7a7a7a" stroke-width="0.7" />
<line x1="229.72" y1="172" x2="229.72" y2="173" stroke="#7a7a7a" stroke-width="0.7" />
<line x1="105.4" y1="234.4" x2="108.4" y2="234.4" stroke="#7a7a7a" stroke-width="0.7" />
<line x1="105.4" y1="215.99" x2="108.4" y2="215.99" stroke="#7a7a7a" stroke-width="0.7" />
<line x1="105.4" y1="197.59" x2="108.4" y2="197.59" stroke="#7a7a7a" stroke-width="0.7" />
<line x1="105.4" y1="179.18" x2="108.4" y2="179.18" stroke="#7a7a7a" stroke-width="0.7" />
<line x1="105.4" y1="225.2" x2="107.2" y2="225.2" stroke="#7a7a7a" stroke-width="0.7" />
<line x1="105.4" y1="206.79" x2="107.2" y2="206.79" stroke="#7a7a7a" stroke-width="0.7" />
<line x1="105.4" y1="188.38" x2="107.2" y2="188.38" stroke="#7a7a7a" stroke-width="0.7" />
<line x1="246.3" y1="234.4" x2="243.3" y2="234.4" stroke="#7a7a7a" stroke-width="0.7" />
<line x1="246.3" y1="215.99" x2="243.3" y2="215.99" stroke="#7a7a7a" stroke-width="0.7" />
<line x1="246.3" y1="197.59" x2="243.3" y2="197.59" stroke="#7a7a7a" stroke-width="0.7" />
<line x1="246.3" y1="179.18" x2="243.3" y2="179.18" stroke="#7a7a7a" stroke-width="0.7" />
<line x1="246.3" y1="225.2" x2="244.5" y2="225.2" stroke="#7a7a7a" stroke-width="0.7" />
<line x1="246.3" y1="206.79" x2="244.5" y2="206.79" stroke="#7a7a7a" stroke-width="0.7" />
<line x1="246.3" y1="188.38" x2="244.5" y2="188.38" stroke="#7a7a7a" stroke-width="0.7" />
<text transform="translate(105.4,240.8) scale(1.3,1)" font-family="Liberation Sans" font-size="6.3" text-anchor="middle" fill="#000" stroke="#000" stroke-width="0.18" >0</text>
<text transform="translate(133.03,240.8) scale(1.3,1)" font-family="Liberation Sans" font-size="6.3" text-anchor="middle" fill="#000" stroke="#000" stroke-width="0.18" >10</text>
<text transform="translate(160.65,240.8) scale(1.3,1)" font-family="Liberation Sans" font-size="6.3" text-anchor="middle" fill="#000" stroke="#000" stroke-width="0.18" >20</text>
<text transform="translate(188.28,240.8) scale(1.3,1)" font-family="Liberation Sans" font-size="6.3" text-anchor="middle" fill="#000" stroke="#000" stroke-width="0.18" >30</text>
<text transform="translate(215.91,240.8) scale(1.3,1)" font-family="Liberation Sans" font-size="6.3" text-anchor="middle" fill="#000" stroke="#000" stroke-width="0.18" >40</text>
<text transform="translate(243.54,240.8) scale(1.3,1)" font-family="Liberation Sans" font-size="6.3" text-anchor="middle" fill="#000" stroke="#000" stroke-width="0.18" >50</text>
<text transform="translate(102.6,236.6) scale(1.3,1)" font-family="Liberation Sans" font-size="6.3" text-anchor="end" fill="#000" stroke="#000" stroke-width="0.18" >0.0</text>
<text transform="translate(102.6,218.19) scale(1.3,1)" font-family="Liberation Sans" font-size="6.3" text-anchor="end" fill="#000" stroke="#000" stroke-width="0.18" >0.1</text>
<text transform="translate(102.6,199.79) scale(1.3,1)" font-family="Liberation Sans" font-size="6.3" text-anchor="end" fill="#000" stroke="#000" stroke-width="0.18" >0.2</text>
<text transform="translate(102.6,181.38) scale(1.3,1)" font-family="Liberation Sans" font-size="6.3" text-anchor="end" fill="#000" stroke="#000" stroke-width="0.18" >0.3</text>
<text transform="translate(176.2,250.4) scale(1.31,1)" font-family="Liberation Sans" font-size="7.1" text-anchor="middle" fill="#000" stroke="#000" stroke-width="0.13" ><tspan font-style="italic">T</tspan> (K)</text>
<text transform="translate(83.6,207.4) rotate(-90) scale(1,1.39)" font-family="Liberation Sans" font-size="6.1" text-anchor="middle" fill="#000" stroke="#000" stroke-width="0.18" ><tspan font-style="italic">M</tspan>/<tspan font-style="italic">H</tspan> (emu/mol)</text>
<clipPath id="cp2"><rect x="513.2" y="164" width="194.8" height="151.4"/></clipPath><g clip-path="url(#cp2)">
<polyline fill="none" stroke="#000" stroke-width="1.8" stroke-linejoin="round"  points="513.2,268.35 513.74,268.35 514.27,268.35 514.81,268.35 515.34,268.35 515.88,268.35 516.41,268.35 516.95,268.35 517.48,268.35 518.02,268.35 518.55,268.35 519.09,268.35 519.62,268.35 520.16,268.35 520.69,268.35 521.23,268.35 521.77,268.35 522.3,268.35 522.84,268.34 523.37,268.33 523.91,268.32 524.44,268.3 524.98,268.28 525.51,268.26 526.05,268.23 526.58,268.2 527.12,268.17 527.65,268.14 528.19,268.11 528.72,268.06 529.26,268 529.8,267.92 530.33,267.83 530.87,267.73 531.4,267.63 531.94,267.52 532.47,267.42 533.01,267.31 533.54,267.2 534.08,267.09 534.61,266.97 535.15,266.85 535.68,266.71 536.22,266.57 536.75,266.42 537.29,266.26 537.83,266.09 538.36,265.91 538.9,265.7 539.43,265.48 539.97,265.23 540.5,264.97 541.04,264.69 541.57,264.39 542.11,264.08 542.64,263.75 543.18,263.41 543.71,263.06 544.25,262.67 544.78,262.19 545.32,261.69 545.86,261.21 546.39,260.83 546.93,260.49 547.46,260.19 548,259.96 548.53,259.8 549.07,259.67 549.6,259.55 550.14,259.43 550.67,259.31 551.21,259.18 551.74,259.06 552.28,258.94 552.81,258.82 553.35,258.71 553.89,258.59 554.42,258.47 554.96,258.35 555.49,258.23 556.03,258.1 556.56,257.97 557.1,257.85 557.63,257.72 558.17,257.59 558.7,257.46 559.24,257.33 559.77,257.2 560.31,257.07 560.84,256.94 561.38,256.81 561.92,256.68 562.45,256.54 562.99,256.41 563.52,256.28 564.06,256.15 564.59,256.01 565.13,255.88 565.66,255.75 566.2,255.61 566.73,255.48 567.27,255.34 567.8,255.21 568.34,255.07 568.87,254.93 569.41,254.8 569.95,254.66 570.48,254.52 571.02,254.39 571.55,254.25 572.09,254.11 572.62,253.97 573.16,253.84 573.69,253.7 574.23,253.56 574.76,253.42 575.3,253.28 575.83,253.14 576.37,253 576.9,252.86 577.44,252.72 577.98,252.58 578.51,252.44 579.05,252.3 579.58,252.16 580.12,252.01 580.65,251.87 581.19,251.73 581.72,251.59 582.26,251.45 582.79,251.3 583.33,251.16 583.86,251.02 584.4,250.87 584.93,250.73 585.47,250.59 586.01,250.44 586.54,250.3 587.08,250.16 587.61,250.01 588.15,249.87 588.68,249.72 589.22,249.58 589.75,249.43 590.29,249.29 590.82,249.14 591.36,249 591.89,248.85 592.43,248.71 592.96,248.56 593.5,248.42 594.04,248.27 594.57,248.13 595.11,247.98 595.64,247.84 596.18,247.69 596.71,247.54 597.25,247.4 597.78,247.25 598.32,247.11 598.85,246.96 599.39,246.81 599.92,246.67 600.46,246.52 600.99,246.37 601.53,246.23 602.07,246.08 602.6,245.93 603.14,245.79 603.67,245.64 604.21,245.5 604.74,245.35 605.28,245.2 605.81,245.06 606.35,244.91 606.88,244.76 607.42,244.61 607.95,244.47 608.49,244.32 609.02,244.17 609.56,244.02 610.1,243.87 610.63,243.73 611.17,243.58 611.7,243.43 612.24,243.28 612.77,243.13 613.31,242.98 613.84,242.83 614.38,242.68 614.91,242.53 615.45,242.38 615.98,242.23 616.52,242.08 617.05,241.93 617.59,241.78 618.13,241.62 618.66,241.47 619.2,241.32 619.73,241.17 620.27,241.02 620.8,240.86 621.34,240.71 621.87,240.56 622.41,240.41 622.94,240.25 623.48,240.1 624.01,239.95 624.55,239.79 625.08,239.64 625.62,239.49 626.16,239.33 626.69,239.18 627.23,239.02 627.76,238.87 628.3,238.72 628.83,238.56 629.37,238.41 629.9,238.25 630.44,238.1 630.97,237.94 631.51,237.79 632.04,237.63 632.58,237.47 633.11,237.32 633.65,237.16 634.19,237.01 634.72,236.85 635.26,236.69 635.79,236.54 636.33,236.38 636.86,236.22 637.4,236.07 637.93,235.91 638.47,235.75 639,235.6 639.54,235.44 640.07,235.28 640.61,235.12 641.14,234.97 641.68,234.81 642.22,234.65 642.75,234.49 643.29,234.33 643.82,234.17 644.36,234.02 644.89,233.86 645.43,233.7 645.96,233.54 646.5,233.38 647.03,233.21 647.57,233.05 648.1,232.89 648.64,232.73 649.17,232.57 649.71,232.41 650.25,232.25 650.78,232.08 651.32,231.92 651.85,231.76 652.39,231.6 652.92,231.43 653.46,231.27 653.99,231.11 654.53,230.94 655.06,230.78 655.6,230.62 656.13,230.45 656.67,230.29 657.2,230.12 657.74,229.96 658.28,229.8 658.81,229.63 659.35,229.47 659.88,229.3 660.42,229.14 660.95,228.97 661.49,228.81 662.02,228.64 662.56,228.48 663.09,228.32 663.63,228.15 664.16,227.99 664.7,227.82 665.23,227.66 665.77,227.49 666.31,227.33 666.84,227.16 667.38,227 667.91,226.83 668.45,226.67 668.98,226.5 669.52,226.34 670.05,226.17 670.59,226.01 671.12,225.85 671.66,225.68 672.19,225.52 672.73,225.35 673.26,225.19 673.8,225.03 674.34,224.86 674.87,224.7 675.41,224.53 675.94,224.37 676.48,224.21 677.01,224.04 677.55,223.88 678.08,223.72 678.62,223.55 679.15,223.39 679.69,223.23 680.22,223.06 680.76,222.9 681.29,222.74 681.83,222.57 682.37,222.41 682.9,222.24 683.44,222.08 683.97,221.92 684.51,221.75 685.04,221.59 685.58,221.43 686.11,221.26 686.65,221.1 687.18,220.93 687.72,220.77 688.25,220.61 688.79,220.44 689.32,220.28 689.86,220.11 690.4,219.95 690.93,219.79 691.47,219.62 692,219.46 692.54,219.29 693.07,219.13 693.61,218.97 694.14,218.8 694.68,218.64 695.21,218.47 695.75,218.31 696.28,218.14 696.82,217.98 697.35,217.82 697.89,217.65 698.43,217.49 698.96,217.32 699.5,217.16 700.03,216.99 700.57,216.83 701.1,216.66 701.64,216.5 702.17,216.33 702.71,216.17 703.24,216 703.78,215.84 704.31,215.67 704.85,215.51 705.38,215.34 705.92,215.17 706.46,215.01 706.99,214.84 707.53,214.68 708.06,214.51 708.6,214.35 709.13,214.18 709.67,214.01 710.2,213.85 710.74,213.68 711.27,213.51 711.81,213.35 712.34,213.18 712.88,213.01 713.41,212.85 713.95,212.68 714.49,212.51 715.02,212.34 715.56,212.18 716.09,212.01 716.63,211.84 717.16,211.67 717.7,211.51 718.23,211.34 718.77,211.17 719.3,211 719.84,210.83 720.37,210.67 720.91,210.5 721.44,210.33 721.98,210.16 722.52,210 723.05,209.83 723.59,209.66 724.12,209.49 724.66,209.33 725.19,209.16 725.73,208.99 726.26,208.82 726.8,208.66"/>
</g>
<clipPath id="cp3"><rect x="0" y="0" width="708" height="545"/></clipPath><g clip-path="url(#cp3)">
<line x1="513.2" y1="163.43" x2="513.2" y2="315.97" stroke="#000" stroke-width="1.15" />
<line x1="513.2" y1="164" x2="834.4" y2="164" stroke="#000" stroke-width="1.15" />
<line x1="513.2" y1="315.4" x2="834.4" y2="315.4" stroke="#000" stroke-width="1.15" />
<line x1="513.2" y1="315.4" x2="513.2" y2="312.2" stroke="#000" stroke-width="1" />
<line x1="566.73" y1="315.4" x2="566.73" y2="312.2" stroke="#000" stroke-width="1" />
<line x1="620.27" y1="315.4" x2="620.27" y2="312.2" stroke="#000" stroke-width="1" />
<line x1="673.8" y1="315.4" x2="673.8" y2="312.2" stroke="#000" stroke-width="1" />
<line x1="727.33" y1="315.4" x2="727.33" y2="312.2" stroke="#000" stroke-width="1" />
<line x1="780.87" y1="315.4" x2="780.87" y2="312.2" stroke="#000" stroke-width="1" />
<line x1="834.4" y1="315.4" x2="834.4" y2="312.2" stroke="#000" stroke-width="1" />
<line x1="539.97" y1="315.4" x2="539.97" y2="313.7" stroke="#000" stroke-width="1" />
<line x1="593.5" y1="315.4" x2="593.5" y2="313.7" stroke="#000" stroke-width="1" />
<line x1="647.03" y1="315.4" x2="647.03" y2="313.7" stroke="#000" stroke-width="1" />
<line x1="700.57" y1="315.4" x2="700.57" y2="313.7" stroke="#000" stroke-width="1" />
<line x1="754.1" y1="315.4" x2="754.1" y2="313.7" stroke="#000" stroke-width="1" />
<line x1="807.63" y1="315.4" x2="807.63" y2="313.7" stroke="#000" stroke-width="1" />
<line x1="513.2" y1="164" x2="513.2" y2="166.4" stroke="#000" stroke-width="1" />
<line x1="566.73" y1="164" x2="566.73" y2="166.4" stroke="#000" stroke-width="1" />
<line x1="620.27" y1="164" x2="620.27" y2="166.4" stroke="#000" stroke-width="1" />
<line x1="673.8" y1="164" x2="673.8" y2="166.4" stroke="#000" stroke-width="1" />
<line x1="727.33" y1="164" x2="727.33" y2="166.4" stroke="#000" stroke-width="1" />
<line x1="780.87" y1="164" x2="780.87" y2="166.4" stroke="#000" stroke-width="1" />
<line x1="834.4" y1="164" x2="834.4" y2="166.4" stroke="#000" stroke-width="1" />
<line x1="539.97" y1="164" x2="539.97" y2="165.4" stroke="#000" stroke-width="1" />
<line x1="593.5" y1="164" x2="593.5" y2="165.4" stroke="#000" stroke-width="1" />
<line x1="647.03" y1="164" x2="647.03" y2="165.4" stroke="#000" stroke-width="1" />
<line x1="700.57" y1="164" x2="700.57" y2="165.4" stroke="#000" stroke-width="1" />
<line x1="754.1" y1="164" x2="754.1" y2="165.4" stroke="#000" stroke-width="1" />
<line x1="807.63" y1="164" x2="807.63" y2="165.4" stroke="#000" stroke-width="1" />
<line x1="513.2" y1="315.4" x2="519.2" y2="315.4" stroke="#000" stroke-width="1" />
<line x1="513.2" y1="292.11" x2="519.2" y2="292.11" stroke="#000" stroke-width="1" />
<line x1="513.2" y1="268.82" x2="519.2" y2="268.82" stroke="#000" stroke-width="1" />
<line x1="513.2" y1="245.52" x2="519.2" y2="245.52" stroke="#000" stroke-width="1" />
<line x1="513.2" y1="222.23" x2="519.2" y2="222.23" stroke="#000" stroke-width="1" />
<line x1="513.2" y1="198.94" x2="519.2" y2="198.94" stroke="#000" stroke-width="1" />
<line x1="513.2" y1="175.65" x2="519.2" y2="175.65" stroke="#000" stroke-width="1" />
<line x1="513.2" y1="303.75" x2="516.4" y2="303.75" stroke="#000" stroke-width="1" />
<line x1="513.2" y1="280.46" x2="516.4" y2="280.46" stroke="#000" stroke-width="1" />
<line x1="513.2" y1="257.17" x2="516.4" y2="257.17" stroke="#000" stroke-width="1" />
<line x1="513.2" y1="233.88" x2="516.4" y2="233.88" stroke="#000" stroke-width="1" />
<line x1="513.2" y1="210.58" x2="516.4" y2="210.58" stroke="#000" stroke-width="1" />
<line x1="513.2" y1="187.29" x2="516.4" y2="187.29" stroke="#000" stroke-width="1" />
<text transform="translate(513.2,325.2) scale(1.62,1)" font-family="Liberation Sans" font-size="8.5" text-anchor="middle" fill="#000" stroke="#000" stroke-width="0.13" >0</text>
<text transform="translate(566.73,325.2) scale(1.62,1)" font-family="Liberation Sans" font-size="8.5" text-anchor="middle" fill="#000" stroke="#000" stroke-width="0.13" >50</text>
<text transform="translate(620.27,325.2) scale(1.62,1)" font-family="Liberation Sans" font-size="8.5" text-anchor="middle" fill="#000" stroke="#000" stroke-width="0.13" >100</text>
<text transform="translate(673.8,325.2) scale(1.62,1)" font-family="Liberation Sans" font-size="8.5" text-anchor="middle" fill="#000" stroke="#000" stroke-width="0.13" >150</text>
<text transform="translate(507.4,317.8) scale(1.62,1)" font-family="Liberation Sans" font-size="8.5" text-anchor="end" fill="#000" stroke="#000" stroke-width="0.13" >0</text>
<text transform="translate(507.4,294.51) scale(1.62,1)" font-family="Liberation Sans" font-size="8.5" text-anchor="end" fill="#000" stroke="#000" stroke-width="0.13" >10</text>
<text transform="translate(507.4,271.22) scale(1.62,1)" font-family="Liberation Sans" font-size="8.5" text-anchor="end" fill="#000" stroke="#000" stroke-width="0.13" >20</text>
<text transform="translate(507.4,247.92) scale(1.62,1)" font-family="Liberation Sans" font-size="8.5" text-anchor="end" fill="#000" stroke="#000" stroke-width="0.13" >30</text>
<text transform="translate(507.4,224.63) scale(1.62,1)" font-family="Liberation Sans" font-size="8.5" text-anchor="end" fill="#000" stroke="#000" stroke-width="0.13" >40</text>
<text transform="translate(507.4,201.34) scale(1.62,1)" font-family="Liberation Sans" font-size="8.5" text-anchor="end" fill="#000" stroke="#000" stroke-width="0.13" >50</text>
<text transform="translate(507.4,178.05) scale(1.62,1)" font-family="Liberation Sans" font-size="8.5" text-anchor="end" fill="#000" stroke="#000" stroke-width="0.13" >60</text>
<text transform="translate(674.2,340.4) scale(1.62,1)" font-family="Liberation Sans" font-size="10.2" text-anchor="middle" fill="#000" stroke="#000" stroke-width="0.17" ><tspan font-style="italic">T</tspan> (K)</text>
<text transform="translate(480,246) rotate(-90) scale(1,1.55)" font-family="Liberation Sans" font-size="9.5" text-anchor="middle" fill="#000" stroke="#000" stroke-width="0.17" ><tspan font-style="italic">&#961;</tspan> (&#956;&#937; cm)</text>
<text transform="translate(528.9,307) scale(1.62,1)" font-family="Liberation Sans" font-size="8.5" text-anchor="start" fill="#000" stroke="#000" stroke-width="0.13" >(b)</text>
<text transform="translate(529.6,181.2) scale(1.62,1)" font-family="Liberation Sans" font-size="10.2" text-anchor="start" fill="#000" stroke="#000" stroke-width="0.17" >TbCo<tspan dy="4" font-size="66%">2</tspan><tspan dy="-4" font-size="1%"> </tspan>Ge<tspan dy="4" font-size="66%">2</tspan><tspan dy="-4" font-size="1%"> </tspan></text>
<text transform="translate(531.6,195) scale(1.62,1)" font-family="Liberation Sans" font-size="10.2" text-anchor="start" fill="#000" stroke="#000" stroke-width="0.17" >RRR=3.0</text>
<line x1="679" y1="226.3" x2="799" y2="226.3" stroke="#999" stroke-width="0.7" />
<line x1="679" y1="299.7" x2="799" y2="299.7" stroke="#666" stroke-width="0.7" />
<line x1="679" y1="225.9" x2="679" y2="300.1" stroke="#444" stroke-width="0.8" />
<line x1="684.2" y1="295.4" x2="708" y2="295" stroke="#444" stroke-width="1.1" />
<line x1="679" y1="299.7" x2="681.5" y2="299.7" stroke="#444" stroke-width="0.8" />
<line x1="679" y1="269.98" x2="681.5" y2="269.98" stroke="#444" stroke-width="0.8" />
<line x1="679" y1="240.27" x2="681.5" y2="240.27" stroke="#444" stroke-width="0.8" />
<line x1="679" y1="284.84" x2="680.5" y2="284.84" stroke="#444" stroke-width="0.8" />
<line x1="679" y1="255.13" x2="680.5" y2="255.13" stroke="#444" stroke-width="0.8" />
<line x1="694.36" y1="226.3" x2="694.36" y2="227.5" stroke="#444" stroke-width="0.8" />
<line x1="694.36" y1="299.7" x2="694.36" y2="298.5" stroke="#444" stroke-width="0.8" />
<text transform="translate(710.3,305.6) scale(1.3,1)" font-family="Liberation Sans" font-size="6.4" text-anchor="middle" fill="#000" stroke="#000" stroke-width="0.18" >10</text>
<text transform="translate(676.3,301.9) scale(1.3,1)" font-family="Liberation Sans" font-size="6.4" text-anchor="end" fill="#000" stroke="#000" stroke-width="0.18" >20</text>
<text transform="translate(676.3,272.18) scale(1.3,1)" font-family="Liberation Sans" font-size="6.4" text-anchor="end" fill="#000" stroke="#000" stroke-width="0.18" >22</text>
<text transform="translate(676.3,242.47) scale(1.3,1)" font-family="Liberation Sans" font-size="6.4" text-anchor="end" fill="#000" stroke="#000" stroke-width="0.18" >24</text>
<text transform="translate(678.7,305.6) scale(1.3,1)" font-family="Liberation Sans" font-size="6.4" text-anchor="middle" fill="#000" stroke="#000" stroke-width="0.18" >0</text>
<text transform="translate(657.4,267.2) rotate(-90) scale(1,1.39)" font-family="Liberation Sans" font-size="5.6" text-anchor="middle" fill="#000" stroke="#000" stroke-width="0.18" ><tspan font-style="italic">&#961;</tspan> (&#956;&#937; cm)</text>
</g>
<clipPath id="cp4"><rect x="57.2" y="358" width="321.5" height="153"/></clipPath><g clip-path="url(#cp4)">
<polyline fill="none" stroke="#f00" stroke-width="0.7" stroke-linejoin="round"  points="71.21,500.75 73.69,499.52 75.34,494.17 76.49,479.94 77.81,494.17 79.05,501.82 81.93,502.43 98.42,502.74 123.15,501.82 139.64,499.37 159.42,493.25 179.21,486.37 199.81,478.41 245.15,460.05 282.25,449.03 289.67,446.13 292.97,437.56 296.02,422.41 299.56,434.5 304.51,446.74 309.45,448.27 318.52,447.5 325.12,445.98 329.24,443.68 332.54,447.5 335.5,452.1 338.31,462.04 340.94,472.29 344.9,475.81 348.2,477.8 350.26,477.03 352.32,478.87 357.27,480.55 366.33,482.24 378.7,483.15"/>
<polyline fill="none" stroke="#00f" stroke-width="0.7" stroke-linejoin="round"  points="76.16,498 76.98,495.85 98.42,495.7 123.15,495.85 147.88,495.7 179.21,492.33 199.81,490.65 238.56,484.99 282.66,477.11 286.37,469.69 292.55,455.92 297.5,453.32 301.21,462.04 307.39,476.12 312.75,477.34 321.82,478.26 332.54,482.85 341.6,488.05 349.85,489.12 362.21,488.81 378.7,489.58"/>
<path d="M69.54 509.11h5v2.9h-5zM70.36 508.96h5v2.9h-5zM71.19 508.79h5v2.9h-5zM72.01 508.62h5v2.9h-5zM72.84 508.47h5v2.9h-5zM73.66 508.37h5v2.9h-5zM74.48 508.33h5v2.9h-5zM75.31 508.72h5v2.9h-5zM76.13 509.11h5v2.9h-5zM76.96 509.11h5v2.9h-5zM77.78 509.11h5v2.9h-5zM78.61 509.1h5v2.9h-5zM79.43 509.09h5v2.9h-5zM81.49 509.06h5v2.9h-5zM83.55 509.03h5v2.9h-5zM85.61 508.98h5v2.9h-5zM87.67 508.92h5v2.9h-5zM89.74 508.86h5v2.9h-5zM91.8 508.8h5v2.9h-5zM93.86 508.74h5v2.9h-5zM95.92 508.68h5v2.9h-5zM97.98 508.61h5v2.9h-5zM100.04 508.54h5v2.9h-5zM102.1 508.47h5v2.9h-5zM104.16 508.39h5v2.9h-5zM106.22 508.3h5v2.9h-5zM108.28 508.21h5v2.9h-5zM110.34 508.12h5v2.9h-5zM112.41 508.02h5v2.9h-5zM114.47 507.91h5v2.9h-5zM116.53 507.81h5v2.9h-5zM118.59 507.7h5v2.9h-5zM120.65 507.58h5v2.9h-5zM122.71 507.46h5v2.9h-5zM124.77 507.34h5v2.9h-5zM126.83 507.2h5v2.9h-5zM128.89 507.06h5v2.9h-5zM130.95 506.91h5v2.9h-5zM133.01 506.75h5v2.9h-5zM135.07 506.58h5v2.9h-5z" fill="#000"/>
<path d="M136.74 506.2h5.8v3.3h-5.8zM140.86 505.8h5.8v3.3h-5.8zM144.98 505.32h5.8v3.3h-5.8zM149.1 504.71h5.8v3.3h-5.8zM153.22 503.88h5.8v3.3h-5.8zM157.34 502.91h5.8v3.3h-5.8zM161.47 501.92h5.8v3.3h-5.8zM165.59 500.98h5.8v3.3h-5.8zM169.71 500.02h5.8v3.3h-5.8zM173.83 498.98h5.8v3.3h-5.8zM177.95 497.77h5.8v3.3h-5.8zM182.08 496.28h5.8v3.3h-5.8zM186.2 494.52h5.8v3.3h-5.8zM190.32 492.56h5.8v3.3h-5.8zM194.44 490.5h5.8v3.3h-5.8zM198.56 488.39h5.8v3.3h-5.8zM202.68 486.15h5.8v3.3h-5.8zM206.81 483.76h5.8v3.3h-5.8zM210.93 481.28h5.8v3.3h-5.8zM215.05 478.72h5.8v3.3h-5.8zM219.17 476.13h5.8v3.3h-5.8zM223.29 473.48h5.8v3.3h-5.8zM227.42 470.76h5.8v3.3h-5.8zM231.54 467.96h5.8v3.3h-5.8zM235.66 465.1h5.8v3.3h-5.8zM239.78 462.17h5.8v3.3h-5.8zM243.9 459.19h5.8v3.3h-5.8zM248.02 456.13h5.8v3.3h-5.8zM252.15 452.99h5.8v3.3h-5.8zM256.27 449.75h5.8v3.3h-5.8zM260.39 446.4h5.8v3.3h-5.8zM262.04 445.01h5.8v3.3h-5.8zM262.53 444.58h5.8v3.3h-5.8zM263.03 444.15h5.8v3.3h-5.8zM263.52 443.71h5.8v3.3h-5.8zM264.02 443.26h5.8v3.3h-5.8zM264.51 442.82h5.8v3.3h-5.8zM265.01 442.36h5.8v3.3h-5.8zM265.5 441.91h5.8v3.3h-5.8zM266 441.45h5.8v3.3h-5.8zM266.49 440.99h5.8v3.3h-5.8zM266.98 440.52h5.8v3.3h-5.8zM267.48 440.05h5.8v3.3h-5.8zM267.97 439.58h5.8v3.3h-5.8zM268.47 439.11h5.8v3.3h-5.8zM268.96 438.63h5.8v3.3h-5.8zM269.46 438.16h5.8v3.3h-5.8zM269.95 437.68h5.8v3.3h-5.8zM270.45 437.2h5.8v3.3h-5.8zM270.94 436.72h5.8v3.3h-5.8zM271.44 436.23h5.8v3.3h-5.8zM271.93 435.75h5.8v3.3h-5.8zM272.43 435.27h5.8v3.3h-5.8zM272.92 434.78h5.8v3.3h-5.8zM273.41 434.3h5.8v3.3h-5.8zM273.91 433.82h5.8v3.3h-5.8zM274.4 433.33h5.8v3.3h-5.8zM274.9 432.85h5.8v3.3h-5.8zM275.39 432.37h5.8v3.3h-5.8zM275.89 431.89h5.8v3.3h-5.8zM276.38 431.41h5.8v3.3h-5.8zM276.88 430.94h5.8v3.3h-5.8zM277.37 430.46h5.8v3.3h-5.8zM277.87 429.99h5.8v3.3h-5.8zM278.36 429.52h5.8v3.3h-5.8zM278.86 429.06h5.8v3.3h-5.8zM279.35 428.59h5.8v3.3h-5.8zM279.84 428.13h5.8v3.3h-5.8zM280.34 427.67h5.8v3.3h-5.8zM280.83 427.22h5.8v3.3h-5.8zM281.33 426.77h5.8v3.3h-5.8zM281.82 426.33h5.8v3.3h-5.8zM282.32 425.89h5.8v3.3h-5.8zM282.81 425.45h5.8v3.3h-5.8zM283.31 425.02h5.8v3.3h-5.8zM283.8 424.59h5.8v3.3h-5.8zM284.3 424.17h5.8v3.3h-5.8zM284.79 423.75h5.8v3.3h-5.8zM285.29 423.35h5.8v3.3h-5.8zM285.78 422.94h5.8v3.3h-5.8zM286.27 422.54h5.8v3.3h-5.8zM286.77 422.15h5.8v3.3h-5.8zM287.26 421.77h5.8v3.3h-5.8zM287.76 421.39h5.8v3.3h-5.8zM288.25 421.02h5.8v3.3h-5.8zM288.75 420.66h5.8v3.3h-5.8zM289.24 420.31h5.8v3.3h-5.8zM289.74 419.96h5.8v3.3h-5.8zM290.23 419.62h5.8v3.3h-5.8zM290.73 419.28h5.8v3.3h-5.8zM291.22 418.94h5.8v3.3h-5.8zM291.72 418.62h5.8v3.3h-5.8zM292.21 418.32h5.8v3.3h-5.8zM292.7 418.05h5.8v3.3h-5.8zM293.2 417.83h5.8v3.3h-5.8zM293.69 417.66h5.8v3.3h-5.8zM294.19 417.54h5.8v3.3h-5.8zM294.68 417.43h5.8v3.3h-5.8zM295.18 417.31h5.8v3.3h-5.8zM295.67 417.17h5.8v3.3h-5.8zM296.17 416.97h5.8v3.3h-5.8zM296.66 416.7h5.8v3.3h-5.8zM297.16 416.38h5.8v3.3h-5.8zM297.65 416.01h5.8v3.3h-5.8zM298.15 415.61h5.8v3.3h-5.8zM298.64 415.18h5.8v3.3h-5.8zM299.13 414.75h5.8v3.3h-5.8zM299.63 414.33h5.8v3.3h-5.8zM300.12 413.92h5.8v3.3h-5.8zM300.62 413.51h5.8v3.3h-5.8zM301.11 413.09h5.8v3.3h-5.8zM301.61 412.66h5.8v3.3h-5.8zM302.1 412.23h5.8v3.3h-5.8zM302.6 411.79h5.8v3.3h-5.8zM303.09 411.34h5.8v3.3h-5.8zM303.59 410.89h5.8v3.3h-5.8zM304.08 410.43h5.8v3.3h-5.8zM304.58 409.97h5.8v3.3h-5.8zM305.07 409.5h5.8v3.3h-5.8zM305.56 409.03h5.8v3.3h-5.8zM306.06 408.55h5.8v3.3h-5.8zM306.55 408.06h5.8v3.3h-5.8zM307.05 407.58h5.8v3.3h-5.8zM307.54 407.09h5.8v3.3h-5.8zM308.04 406.59h5.8v3.3h-5.8zM308.53 406.1h5.8v3.3h-5.8zM309.03 405.6h5.8v3.3h-5.8zM309.52 405.09h5.8v3.3h-5.8zM310.02 404.59h5.8v3.3h-5.8zM310.51 404.08h5.8v3.3h-5.8zM311.01 403.57h5.8v3.3h-5.8zM311.5 403.06h5.8v3.3h-5.8zM311.99 402.55h5.8v3.3h-5.8zM312.49 402.03h5.8v3.3h-5.8zM312.98 401.52h5.8v3.3h-5.8zM313.48 401h5.8v3.3h-5.8zM313.97 400.49h5.8v3.3h-5.8zM314.47 399.97h5.8v3.3h-5.8zM314.96 399.46h5.8v3.3h-5.8zM315.46 398.94h5.8v3.3h-5.8zM315.95 398.43h5.8v3.3h-5.8zM316.45 397.92h5.8v3.3h-5.8zM316.94 397.4h5.8v3.3h-5.8zM317.44 396.9h5.8v3.3h-5.8zM317.93 396.39h5.8v3.3h-5.8zM318.42 395.88h5.8v3.3h-5.8zM318.92 395.38h5.8v3.3h-5.8zM319.41 394.88h5.8v3.3h-5.8zM319.91 394.38h5.8v3.3h-5.8zM320.4 393.89h5.8v3.3h-5.8zM320.9 393.4h5.8v3.3h-5.8zM321.39 392.91h5.8v3.3h-5.8zM321.89 392.43h5.8v3.3h-5.8zM322.38 391.95h5.8v3.3h-5.8zM322.88 391.48h5.8v3.3h-5.8zM323.37 391h5.8v3.3h-5.8zM323.87 390.51h5.8v3.3h-5.8zM324.36 390h5.8v3.3h-5.8zM324.85 389.51h5.8v3.3h-5.8zM325.35 389.05h5.8v3.3h-5.8zM325.84 388.63h5.8v3.3h-5.8zM326.34 388.26h5.8v3.3h-5.8zM326.83 387.91h5.8v3.3h-5.8zM327.33 387.56h5.8v3.3h-5.8zM327.82 387.25h5.8v3.3h-5.8zM328.32 387.03h5.8v3.3h-5.8zM328.81 386.95h5.8v3.3h-5.8zM329.31 387.01h5.8v3.3h-5.8zM329.8 387.17h5.8v3.3h-5.8zM330.3 387.43h5.8v3.3h-5.8zM331.45 388.97h5.8v3.3h-5.8zM332.52 393.2h5.8v3.3h-5.8zM333.59 397.36h5.8v3.3h-5.8zM334.66 401.18h5.8v3.3h-5.8zM335.74 404.16h5.8v3.3h-5.8zM336.56 405.95h5.8v3.3h-5.8zM337.06 406.62h5.8v3.3h-5.8zM337.55 407.09h5.8v3.3h-5.8zM338.04 407.52h5.8v3.3h-5.8zM338.54 407.9h5.8v3.3h-5.8zM339.03 408.2h5.8v3.3h-5.8zM339.53 408.43h5.8v3.3h-5.8zM340.02 408.56h5.8v3.3h-5.8zM340.52 408.59h5.8v3.3h-5.8zM341.01 408.58h5.8v3.3h-5.8zM341.51 408.57h5.8v3.3h-5.8zM342 408.54h5.8v3.3h-5.8zM342.5 408.52h5.8v3.3h-5.8zM342.99 408.48h5.8v3.3h-5.8zM343.49 408.45h5.8v3.3h-5.8zM343.98 408.41h5.8v3.3h-5.8zM344.47 408.37h5.8v3.3h-5.8zM344.97 408.32h5.8v3.3h-5.8zM345.46 408.25h5.8v3.3h-5.8zM345.96 408.16h5.8v3.3h-5.8zM346.45 408.06h5.8v3.3h-5.8zM346.95 407.94h5.8v3.3h-5.8zM347.44 407.81h5.8v3.3h-5.8zM347.94 407.66h5.8v3.3h-5.8zM348.43 407.51h5.8v3.3h-5.8zM348.93 407.34h5.8v3.3h-5.8zM349.42 407.16h5.8v3.3h-5.8zM349.92 406.98h5.8v3.3h-5.8zM350.41 406.79h5.8v3.3h-5.8zM350.9 406.59h5.8v3.3h-5.8zM351.4 406.39h5.8v3.3h-5.8zM351.89 406.19h5.8v3.3h-5.8zM352.39 405.99h5.8v3.3h-5.8zM352.88 405.79h5.8v3.3h-5.8zM353.38 405.58h5.8v3.3h-5.8zM353.87 405.38h5.8v3.3h-5.8zM354.37 405.19h5.8v3.3h-5.8zM354.86 405h5.8v3.3h-5.8zM355.36 404.81h5.8v3.3h-5.8zM355.85 404.62h5.8v3.3h-5.8zM356.35 404.43h5.8v3.3h-5.8zM356.84 404.23h5.8v3.3h-5.8zM357.33 404.02h5.8v3.3h-5.8zM357.83 403.81h5.8v3.3h-5.8zM358.32 403.59h5.8v3.3h-5.8zM358.82 403.37h5.8v3.3h-5.8zM359.31 403.15h5.8v3.3h-5.8zM359.81 402.93h5.8v3.3h-5.8zM360.3 402.7h5.8v3.3h-5.8zM360.8 402.47h5.8v3.3h-5.8zM361.29 402.24h5.8v3.3h-5.8zM361.79 402h5.8v3.3h-5.8zM362.28 401.77h5.8v3.3h-5.8zM362.78 401.54h5.8v3.3h-5.8zM363.27 401.3h5.8v3.3h-5.8zM363.76 401.07h5.8v3.3h-5.8zM364.26 400.83h5.8v3.3h-5.8zM364.75 400.6h5.8v3.3h-5.8zM365.25 400.37h5.8v3.3h-5.8zM365.74 400.14h5.8v3.3h-5.8zM366.24 399.92h5.8v3.3h-5.8zM366.73 399.69h5.8v3.3h-5.8zM367.23 399.47h5.8v3.3h-5.8zM367.72 399.26h5.8v3.3h-5.8zM368.22 399.05h5.8v3.3h-5.8zM368.71 398.84h5.8v3.3h-5.8zM369.21 398.64h5.8v3.3h-5.8z" fill="#000"/>
</g>
<line x1="57.2" y1="357.43" x2="57.2" y2="511.57" stroke="#000" stroke-width="1.15" />
<line x1="378.7" y1="357.43" x2="378.7" y2="511.57" stroke="#000" stroke-width="1.15" />
<line x1="57.2" y1="358" x2="378.7" y2="358" stroke="#000" stroke-width="1.15" />
<line x1="57.2" y1="511" x2="378.7" y2="511" stroke="#000" stroke-width="1.15" />
<line x1="57.2" y1="511" x2="57.2" y2="507.8" stroke="#000" stroke-width="1" />
<line x1="98.42" y1="511" x2="98.42" y2="507.8" stroke="#000" stroke-width="1" />
<line x1="139.64" y1="511" x2="139.64" y2="507.8" stroke="#000" stroke-width="1" />
<line x1="180.85" y1="511" x2="180.85" y2="507.8" stroke="#000" stroke-width="1" />
<line x1="222.07" y1="511" x2="222.07" y2="507.8" stroke="#000" stroke-width="1" />
<line x1="263.29" y1="511" x2="263.29" y2="507.8" stroke="#000" stroke-width="1" />
<line x1="304.51" y1="511" x2="304.51" y2="507.8" stroke="#000" stroke-width="1" />
<line x1="345.73" y1="511" x2="345.73" y2="507.8" stroke="#000" stroke-width="1" />
<line x1="77.81" y1="511" x2="77.81" y2="509.3" stroke="#000" stroke-width="1" />
<line x1="119.03" y1="511" x2="119.03" y2="509.3" stroke="#000" stroke-width="1" />
<line x1="160.24" y1="511" x2="160.24" y2="509.3" stroke="#000" stroke-width="1" />
<line x1="201.46" y1="511" x2="201.46" y2="509.3" stroke="#000" stroke-width="1" />
<line x1="242.68" y1="511" x2="242.68" y2="509.3" stroke="#000" stroke-width="1" />
<line x1="283.9" y1="511" x2="283.9" y2="509.3" stroke="#000" stroke-width="1" />
<line x1="325.12" y1="511" x2="325.12" y2="509.3" stroke="#000" stroke-width="1" />
<line x1="366.33" y1="511" x2="366.33" y2="509.3" stroke="#000" stroke-width="1" />
<line x1="57.2" y1="358" x2="57.2" y2="360.4" stroke="#000" stroke-width="1" />
<line x1="98.42" y1="358" x2="98.42" y2="360.4" stroke="#000" stroke-width="1" />
<line x1="139.64" y1="358" x2="139.64" y2="360.4" stroke="#000" stroke-width="1" />
<line x1="180.85" y1="358" x2="180.85" y2="360.4" stroke="#000" stroke-width="1" />
<line x1="222.07" y1="358" x2="222.07" y2="360.4" stroke="#000" stroke-width="1" />
<line x1="263.29" y1="358" x2="263.29" y2="360.4" stroke="#000" stroke-width="1" />
<line x1="304.51" y1="358" x2="304.51" y2="360.4" stroke="#000" stroke-width="1" />
<line x1="345.73" y1="358" x2="345.73" y2="360.4" stroke="#000" stroke-width="1" />
<line x1="77.81" y1="358" x2="77.81" y2="359.4" stroke="#000" stroke-width="1" />
<line x1="119.03" y1="358" x2="119.03" y2="359.4" stroke="#000" stroke-width="1" />
<line x1="160.24" y1="358" x2="160.24" y2="359.4" stroke="#000" stroke-width="1" />
<line x1="201.46" y1="358" x2="201.46" y2="359.4" stroke="#000" stroke-width="1" />
<line x1="242.68" y1="358" x2="242.68" y2="359.4" stroke="#000" stroke-width="1" />
<line x1="283.9" y1="358" x2="283.9" y2="359.4" stroke="#000" stroke-width="1" />
<line x1="325.12" y1="358" x2="325.12" y2="359.4" stroke="#000" stroke-width="1" />
<line x1="366.33" y1="358" x2="366.33" y2="359.4" stroke="#000" stroke-width="1" />
<line x1="57.2" y1="511" x2="63.2" y2="511" stroke="#000" stroke-width="1" />
<line x1="57.2" y1="489.14" x2="63.2" y2="489.14" stroke="#000" stroke-width="1" />
<line x1="57.2" y1="467.29" x2="63.2" y2="467.29" stroke="#000" stroke-width="1" />
<line x1="57.2" y1="445.43" x2="63.2" y2="445.43" stroke="#000" stroke-width="1" />
<line x1="57.2" y1="423.57" x2="63.2" y2="423.57" stroke="#000" stroke-width="1" />
<line x1="57.2" y1="401.71" x2="63.2" y2="401.71" stroke="#000" stroke-width="1" />
<line x1="57.2" y1="379.86" x2="63.2" y2="379.86" stroke="#000" stroke-width="1" />
<line x1="57.2" y1="358" x2="63.2" y2="358" stroke="#000" stroke-width="1" />
<line x1="57.2" y1="500.07" x2="60.4" y2="500.07" stroke="#000" stroke-width="1" />
<line x1="57.2" y1="478.21" x2="60.4" y2="478.21" stroke="#000" stroke-width="1" />
<line x1="57.2" y1="456.36" x2="60.4" y2="456.36" stroke="#000" stroke-width="1" />
<line x1="57.2" y1="434.5" x2="60.4" y2="434.5" stroke="#000" stroke-width="1" />
<line x1="57.2" y1="412.64" x2="60.4" y2="412.64" stroke="#000" stroke-width="1" />
<line x1="57.2" y1="390.79" x2="60.4" y2="390.79" stroke="#000" stroke-width="1" />
<line x1="57.2" y1="368.93" x2="60.4" y2="368.93" stroke="#000" stroke-width="1" />
<line x1="378.7" y1="511" x2="373.2" y2="511" stroke="#000" stroke-width="1" />
<line x1="378.7" y1="480.4" x2="373.2" y2="480.4" stroke="#000" stroke-width="1" />
<line x1="378.7" y1="449.8" x2="373.2" y2="449.8" stroke="#000" stroke-width="1" />
<line x1="378.7" y1="419.2" x2="373.2" y2="419.2" stroke="#000" stroke-width="1" />
<line x1="378.7" y1="388.6" x2="373.2" y2="388.6" stroke="#000" stroke-width="1" />
<line x1="378.7" y1="358" x2="373.2" y2="358" stroke="#000" stroke-width="1" />
<line x1="378.7" y1="495.7" x2="375.5" y2="495.7" stroke="#000" stroke-width="1" />
<line x1="378.7" y1="465.1" x2="375.5" y2="465.1" stroke="#000" stroke-width="1" />
<line x1="378.7" y1="434.5" x2="375.5" y2="434.5" stroke="#000" stroke-width="1" />
<line x1="378.7" y1="403.9" x2="375.5" y2="403.9" stroke="#000" stroke-width="1" />
<line x1="378.7" y1="373.3" x2="375.5" y2="373.3" stroke="#000" stroke-width="1" />
<text transform="translate(57.2,521) scale(1.62,1)" font-family="Liberation Sans" font-size="8.5" text-anchor="middle" fill="#000" stroke="#000" stroke-width="0.13" >0</text>
<text transform="translate(52,513.3) scale(1.62,1)" font-family="Liberation Sans" font-size="8.5" text-anchor="end" fill="#000" stroke="#000" stroke-width="0.13" >0</text>
<text transform="translate(98.42,521) scale(1.62,1)" font-family="Liberation Sans" font-size="8.5" text-anchor="middle" fill="#000" stroke="#000" stroke-width="0.13" >5</text>
<text transform="translate(52,491.44) scale(1.62,1)" font-family="Liberation Sans" font-size="8.5" text-anchor="end" fill="#000" stroke="#000" stroke-width="0.13" >5</text>
<text transform="translate(139.64,521) scale(1.62,1)" font-family="Liberation Sans" font-size="8.5" text-anchor="middle" fill="#000" stroke="#000" stroke-width="0.13" >10</text>
<text transform="translate(52,469.59) scale(1.62,1)" font-family="Liberation Sans" font-size="8.5" text-anchor="end" fill="#000" stroke="#000" stroke-width="0.13" >10</text>
<text transform="translate(180.85,521) scale(1.62,1)" font-family="Liberation Sans" font-size="8.5" text-anchor="middle" fill="#000" stroke="#000" stroke-width="0.13" >15</text>
<text transform="translate(52,447.73) scale(1.62,1)" font-family="Liberation Sans" font-size="8.5" text-anchor="end" fill="#000" stroke="#000" stroke-width="0.13" >15</text>
<text transform="translate(222.07,521) scale(1.62,1)" font-family="Liberation Sans" font-size="8.5" text-anchor="middle" fill="#000" stroke="#000" stroke-width="0.13" >20</text>
<text transform="translate(52,425.87) scale(1.62,1)" font-family="Liberation Sans" font-size="8.5" text-anchor="end" fill="#000" stroke="#000" stroke-width="0.13" >20</text>
<text transform="translate(263.29,521) scale(1.62,1)" font-family="Liberation Sans" font-size="8.5" text-anchor="middle" fill="#000" stroke="#000" stroke-width="0.13" >25</text>
<text transform="translate(52,404.01) scale(1.62,1)" font-family="Liberation Sans" font-size="8.5" text-anchor="end" fill="#000" stroke="#000" stroke-width="0.13" >25</text>
<text transform="translate(304.51,521) scale(1.62,1)" font-family="Liberation Sans" font-size="8.5" text-anchor="middle" fill="#000" stroke="#000" stroke-width="0.13" >30</text>
<text transform="translate(52,382.16) scale(1.62,1)" font-family="Liberation Sans" font-size="8.5" text-anchor="end" fill="#000" stroke="#000" stroke-width="0.13" >30</text>
<text transform="translate(345.73,521) scale(1.62,1)" font-family="Liberation Sans" font-size="8.5" text-anchor="middle" fill="#000" stroke="#000" stroke-width="0.13" >35</text>
<text transform="translate(52,360.3) scale(1.62,1)" font-family="Liberation Sans" font-size="8.5" text-anchor="end" fill="#000" stroke="#000" stroke-width="0.13" >35</text>
<text transform="translate(384.3,513) scale(1.62,1)" font-family="Liberation Sans" font-size="8.5" text-anchor="start" fill="#000" stroke="#000" stroke-width="0.13" >0.0</text>
<text transform="translate(384.3,482.4) scale(1.62,1)" font-family="Liberation Sans" font-size="8.5" text-anchor="start" fill="#000" stroke="#000" stroke-width="0.13" >0.2</text>
<text transform="translate(384.3,451.8) scale(1.62,1)" font-family="Liberation Sans" font-size="8.5" text-anchor="start" fill="#000" stroke="#000" stroke-width="0.13" >0.4</text>
<text transform="translate(384.3,421.2) scale(1.62,1)" font-family="Liberation Sans" font-size="8.5" text-anchor="start" fill="#000" stroke="#000" stroke-width="0.13" >0.6</text>
<text transform="translate(384.3,390.6) scale(1.62,1)" font-family="Liberation Sans" font-size="8.5" text-anchor="start" fill="#000" stroke="#000" stroke-width="0.13" >0.8</text>
<text transform="translate(384.3,360) scale(1.62,1)" font-family="Liberation Sans" font-size="8.5" text-anchor="start" fill="#000" stroke="#000" stroke-width="0.13" >1.0</text>
<text transform="translate(218.7,537.5) scale(1.62,1)" font-family="Liberation Sans" font-size="10.2" text-anchor="middle" fill="#000" stroke="#000" stroke-width="0.17" ><tspan font-style="italic">T</tspan> (K)</text>
<text transform="translate(20.2,434.3) rotate(-90) scale(1,1.5)" font-family="Liberation Sans" font-size="10.3" text-anchor="middle" fill="#000" stroke="#000" stroke-width="0.17" >C<tspan dy="2.5" font-size="62%" font-style="italic">p</tspan><tspan dy="-2.5"> (J/mol K)</tspan></text>
<text transform="translate(423.8,434) rotate(-90) scale(1,1.95)" font-family="Liberation Sans" font-size="8.95" text-anchor="middle" fill="#000" stroke="#000" stroke-width="0.13" >d<tspan font-style="italic" font-size="88%">&#961;</tspan>/d<tspan font-style="italic">T</tspan>, d<tspan font-style="italic" dy="0.4" font-size="82%">&#967;</tspan><tspan dy="-0.4" font-style="italic">T</tspan>/d<tspan font-style="italic">T</tspan> (arb. units)</text>
<text transform="translate(275.9,374.9) scale(1.62,1)" font-family="Liberation Sans" font-size="10.2" text-anchor="start" fill="#000" stroke="#000" stroke-width="0.17" >TbCo<tspan dy="4" font-size="66%">2</tspan><tspan dy="-4" font-size="1%"> </tspan>Ge<tspan dy="4" font-size="66%">2</tspan><tspan dy="-4" font-size="1%"> </tspan></text>
<text transform="translate(282.9,400.4) scale(1.77,1)" font-family="Liberation Sans" font-size="8.2" text-anchor="start" fill="#000" stroke="#000" stroke-width="0.13" ><tspan font-style="italic">C</tspan><tspan dy="2.6" font-size="56%" font-style="italic">p</tspan></text>
<text transform="translate(316.8,438.2) scale(1.8,1)" font-family="Liberation Sans" font-size="8" text-anchor="start" fill="#f00" stroke="#f00" stroke-width="0.13" >d<tspan font-style="italic" font-size="88%" dy="1.2">&#967;</tspan><tspan font-style="italic" dy="-1.2">T</tspan>/d<tspan font-style="italic">T</tspan></text>
<text transform="translate(247,491.6) scale(1.77,1)" font-family="Liberation Sans" font-size="8" text-anchor="start" fill="#00f" stroke="#00f" stroke-width="0.13" >d<tspan font-style="italic" font-size="88%" dy="0.9">&#961;</tspan><tspan dy="-0.9">/d</tspan><tspan font-style="italic">T</tspan></text>
<text transform="translate(343,502) scale(1.62,1)" font-family="Liberation Sans" font-size="8.5" text-anchor="start" fill="#000" stroke="#000" stroke-width="0.13" >(c)</text>
<rect x="96.8" y="364.5" width="95.5" height="52.4" fill="#fff"/>
<polyline fill="none" stroke="#444" stroke-width="0.6" stroke-linejoin="round"  points="96.8,400.81 113.57,400.81 122.13,399.74 128.98,398.51 138.73,392.69 147.8,373.39 156.62,402.96 164.92,403.42 192.3,403.42"/>
<line x1="96.8" y1="364.1" x2="96.8" y2="417.3" stroke="#7a7a7a" stroke-width="0.8" />
<line x1="192.3" y1="364.1" x2="192.3" y2="417.3" stroke="#7a7a7a" stroke-width="0.8" />
<line x1="96.8" y1="364.5" x2="192.3" y2="364.5" stroke="#7a7a7a" stroke-width="0.8" />
<line x1="96.8" y1="416.9" x2="192.3" y2="416.9" stroke="#7a7a7a" stroke-width="0.8" />
<line x1="113.57" y1="416.9" x2="113.57" y2="415.3" stroke="#7a7a7a" stroke-width="0.7" />
<line x1="130.69" y1="416.9" x2="130.69" y2="415.3" stroke="#7a7a7a" stroke-width="0.7" />
<line x1="147.8" y1="416.9" x2="147.8" y2="415.3" stroke="#7a7a7a" stroke-width="0.7" />
<line x1="164.92" y1="416.9" x2="164.92" y2="415.3" stroke="#7a7a7a" stroke-width="0.7" />
<line x1="182.03" y1="416.9" x2="182.03" y2="415.3" stroke="#7a7a7a" stroke-width="0.7" />
<line x1="105.02" y1="416.9" x2="105.02" y2="415.9" stroke="#7a7a7a" stroke-width="0.7" />
<line x1="122.13" y1="416.9" x2="122.13" y2="415.9" stroke="#7a7a7a" stroke-width="0.7" />
<line x1="139.24" y1="416.9" x2="139.24" y2="415.9" stroke="#7a7a7a" stroke-width="0.7" />
<line x1="156.36" y1="416.9" x2="156.36" y2="415.9" stroke="#7a7a7a" stroke-width="0.7" />
<line x1="173.47" y1="416.9" x2="173.47" y2="415.9" stroke="#7a7a7a" stroke-width="0.7" />
<line x1="190.59" y1="416.9" x2="190.59" y2="415.9" stroke="#7a7a7a" stroke-width="0.7" />
<line x1="113.57" y1="364.5" x2="113.57" y2="366.1" stroke="#7a7a7a" stroke-width="0.7" />
<line x1="130.69" y1="364.5" x2="130.69" y2="366.1" stroke="#7a7a7a" stroke-width="0.7" />
<line x1="147.8" y1="364.5" x2="147.8" y2="366.1" stroke="#7a7a7a" stroke-width="0.7" />
<line x1="164.92" y1="364.5" x2="164.92" y2="366.1" stroke="#7a7a7a" stroke-width="0.7" />
<line x1="182.03" y1="364.5" x2="182.03" y2="366.1" stroke="#7a7a7a" stroke-width="0.7" />
<line x1="105.02" y1="364.5" x2="105.02" y2="365.5" stroke="#7a7a7a" stroke-width="0.7" />
<line x1="122.13" y1="364.5" x2="122.13" y2="365.5" stroke="#7a7a7a" stroke-width="0.7" />
<line x1="139.24" y1="364.5" x2="139.24" y2="365.5" stroke="#7a7a7a" stroke-width="0.7" />
<line x1="156.36" y1="364.5" x2="156.36" y2="365.5" stroke="#7a7a7a" stroke-width="0.7" />
<line x1="173.47" y1="364.5" x2="173.47" y2="365.5" stroke="#7a7a7a" stroke-width="0.7" />
<line x1="190.59" y1="364.5" x2="190.59" y2="365.5" stroke="#7a7a7a" stroke-width="0.7" />
<line x1="96.8" y1="416.9" x2="99.2" y2="416.9" stroke="#7a7a7a" stroke-width="0.7" />
<line x1="96.8" y1="401.58" x2="99.2" y2="401.58" stroke="#7a7a7a" stroke-width="0.7" />
<line x1="96.8" y1="386.26" x2="99.2" y2="386.26" stroke="#7a7a7a" stroke-width="0.7" />
<line x1="96.8" y1="370.94" x2="99.2" y2="370.94" stroke="#7a7a7a" stroke-width="0.7" />
<line x1="96.8" y1="409.24" x2="98.2" y2="409.24" stroke="#7a7a7a" stroke-width="0.7" />
<line x1="96.8" y1="393.92" x2="98.2" y2="393.92" stroke="#7a7a7a" stroke-width="0.7" />
<line x1="96.8" y1="378.6" x2="98.2" y2="378.6" stroke="#7a7a7a" stroke-width="0.7" />
<line x1="192.3" y1="416.9" x2="189.9" y2="416.9" stroke="#7a7a7a" stroke-width="0.7" />
<line x1="192.3" y1="401.58" x2="189.9" y2="401.58" stroke="#7a7a7a" stroke-width="0.7" />
<line x1="192.3" y1="386.26" x2="189.9" y2="386.26" stroke="#7a7a7a" stroke-width="0.7" />
<line x1="192.3" y1="370.94" x2="189.9" y2="370.94" stroke="#7a7a7a" stroke-width="0.7" />
<line x1="192.3" y1="409.24" x2="190.9" y2="409.24" stroke="#7a7a7a" stroke-width="0.7" />
<line x1="192.3" y1="393.92" x2="190.9" y2="393.92" stroke="#7a7a7a" stroke-width="0.7" />
<line x1="192.3" y1="378.6" x2="190.9" y2="378.6" stroke="#7a7a7a" stroke-width="0.7" />
<text transform="translate(113.57,421.6) scale(1.3,1)" font-family="Liberation Sans" font-size="4.7" text-anchor="middle" fill="#000" stroke="#000" stroke-width="0.18" >2.0</text>
<text transform="translate(130.69,421.6) scale(1.3,1)" font-family="Liberation Sans" font-size="4.7" text-anchor="middle" fill="#000" stroke="#000" stroke-width="0.18" >2.2</text>
<text transform="translate(147.8,421.6) scale(1.3,1)" font-family="Liberation Sans" font-size="4.7" text-anchor="middle" fill="#000" stroke="#000" stroke-width="0.18" >2.4</text>
<text transform="translate(164.92,421.6) scale(1.3,1)" font-family="Liberation Sans" font-size="4.7" text-anchor="middle" fill="#000" stroke="#000" stroke-width="0.18" >2.6</text>
<text transform="translate(182.03,421.6) scale(1.3,1)" font-family="Liberation Sans" font-size="4.7" text-anchor="middle" fill="#000" stroke="#000" stroke-width="0.18" >2.8</text>
<text transform="translate(94.5,418.4) scale(1.3,1)" font-family="Liberation Sans" font-size="4.7" text-anchor="end" fill="#000" stroke="#000" stroke-width="0.18" >0.0</text>
<text transform="translate(94.5,403.08) scale(1.3,1)" font-family="Liberation Sans" font-size="4.7" text-anchor="end" fill="#000" stroke="#000" stroke-width="0.18" >0.1</text>
<text transform="translate(94.5,387.76) scale(1.3,1)" font-family="Liberation Sans" font-size="4.7" text-anchor="end" fill="#000" stroke="#000" stroke-width="0.18" >0.2</text>
<text transform="translate(94.5,372.44) scale(1.3,1)" font-family="Liberation Sans" font-size="4.7" text-anchor="end" fill="#000" stroke="#000" stroke-width="0.18" >0.3</text>
<text transform="translate(144.3,426.6) scale(1.31,1)" font-family="Liberation Sans" font-size="4.8" text-anchor="middle" fill="#000" stroke="#000" stroke-width="0.18" ><tspan font-style="italic">T</tspan> (K)</text>
<text transform="translate(79.4,393.5) rotate(-90) scale(1,1.4)" font-family="Liberation Sans" font-size="4.8" text-anchor="middle" fill="#000" stroke="#000" stroke-width="0.18" >C<tspan dy="1" font-size="62%">p</tspan><tspan dy="-1"> (J/mol K)</tspan></text>
<rect x="97" y="429.3" width="95.3" height="47.8" fill="#fff"/>
<polyline fill="none" stroke="#444" stroke-width="0.6" stroke-linejoin="round"  points="97,477.1 98.21,476.06 99.41,474.99 100.62,473.9 101.83,472.83 103.03,471.79 104.24,470.8 105.44,469.89 106.65,469.07 107.86,468.27 109.06,467.47 110.27,466.7 111.48,465.96 112.68,465.28 113.89,464.64 115.09,464.08 116.3,463.6 117.51,463.22 118.71,462.87 119.92,462.55 121.13,462.29 122.33,462.14 123.54,462.12 124.75,462.12 125.95,462.12 127.16,462.12 128.36,462.12 129.57,462.12 130.78,462.12 131.98,462.08 133.19,461.8 134.4,461.3 135.6,460.63 136.81,459.84 138.02,458.98 139.22,458.11 140.43,457.26 141.63,456.5 142.84,455.79 144.05,455.04 145.25,454.26 146.46,453.46 147.67,452.68 148.87,451.92 150.08,451.2 151.28,450.55 152.49,449.98 153.7,449.5 154.9,449.05 156.11,448.67 157.32,448.43 158.52,448.32 159.73,448.26 160.94,448.19 162.14,448.09 163.35,447.87 164.55,447.54 165.76,447.12 166.97,446.62 168.17,446.08 169.38,445.53 170.59,444.95 171.79,444.29 173,443.55 174.21,442.74 175.41,441.88 176.62,441.01 177.82,440.14 179.03,439.3 180.24,438.5 181.44,437.7 182.65,436.91 183.86,436.12 185.06,435.33 186.27,434.53 187.47,433.74 188.68,432.95 189.89,432.16 191.09,431.37 192.3,430.57"/>
<line x1="97" y1="428.9" x2="97" y2="477.5" stroke="#7a7a7a" stroke-width="0.8" />
<line x1="192.3" y1="428.9" x2="192.3" y2="477.5" stroke="#7a7a7a" stroke-width="0.8" />
<line x1="97" y1="429.3" x2="192.3" y2="429.3" stroke="#7a7a7a" stroke-width="0.8" />
<line x1="97" y1="477.1" x2="192.3" y2="477.1" stroke="#7a7a7a" stroke-width="0.8" />
<line x1="112.39" y1="477.1" x2="112.39" y2="475.5" stroke="#7a7a7a" stroke-width="0.7" />
<line x1="133.42" y1="477.1" x2="133.42" y2="475.5" stroke="#7a7a7a" stroke-width="0.7" />
<line x1="154.45" y1="477.1" x2="154.45" y2="475.5" stroke="#7a7a7a" stroke-width="0.7" />
<line x1="175.48" y1="477.1" x2="175.48" y2="475.5" stroke="#7a7a7a" stroke-width="0.7" />
<line x1="101.88" y1="477.1" x2="101.88" y2="476.1" stroke="#7a7a7a" stroke-width="0.7" />
<line x1="122.91" y1="477.1" x2="122.91" y2="476.1" stroke="#7a7a7a" stroke-width="0.7" />
<line x1="143.94" y1="477.1" x2="143.94" y2="476.1" stroke="#7a7a7a" stroke-width="0.7" />
<line x1="164.96" y1="477.1" x2="164.96" y2="476.1" stroke="#7a7a7a" stroke-width="0.7" />
<line x1="185.99" y1="477.1" x2="185.99" y2="476.1" stroke="#7a7a7a" stroke-width="0.7" />
<line x1="112.39" y1="429.3" x2="112.39" y2="430.9" stroke="#7a7a7a" stroke-width="0.7" />
<line x1="133.42" y1="429.3" x2="133.42" y2="430.9" stroke="#7a7a7a" stroke-width="0.7" />
<line x1="154.45" y1="429.3" x2="154.45" y2="430.9" stroke="#7a7a7a" stroke-width="0.7" />
<line x1="175.48" y1="429.3" x2="175.48" y2="430.9" stroke="#7a7a7a" stroke-width="0.7" />
<line x1="101.88" y1="429.3" x2="101.88" y2="430.3" stroke="#7a7a7a" stroke-width="0.7" />
<line x1="122.91" y1="429.3" x2="122.91" y2="430.3" stroke="#7a7a7a" stroke-width="0.7" />
<line x1="143.94" y1="429.3" x2="143.94" y2="430.3" stroke="#7a7a7a" stroke-width="0.7" />
<line x1="164.96" y1="429.3" x2="164.96" y2="430.3" stroke="#7a7a7a" stroke-width="0.7" />
<line x1="185.99" y1="429.3" x2="185.99" y2="430.3" stroke="#7a7a7a" stroke-width="0.7" />
<line x1="97" y1="477.1" x2="99.4" y2="477.1" stroke="#7a7a7a" stroke-width="0.7" />
<line x1="97" y1="461.17" x2="99.4" y2="461.17" stroke="#7a7a7a" stroke-width="0.7" />
<line x1="97" y1="445.23" x2="99.4" y2="445.23" stroke="#7a7a7a" stroke-width="0.7" />
<line x1="97" y1="429.3" x2="99.4" y2="429.3" stroke="#7a7a7a" stroke-width="0.7" />
<line x1="97" y1="469.13" x2="98.4" y2="469.13" stroke="#7a7a7a" stroke-width="0.7" />
<line x1="97" y1="453.2" x2="98.4" y2="453.2" stroke="#7a7a7a" stroke-width="0.7" />
<line x1="97" y1="437.27" x2="98.4" y2="437.27" stroke="#7a7a7a" stroke-width="0.7" />
<line x1="192.3" y1="477.1" x2="189.9" y2="477.1" stroke="#7a7a7a" stroke-width="0.7" />
<line x1="192.3" y1="461.17" x2="189.9" y2="461.17" stroke="#7a7a7a" stroke-width="0.7" />
<line x1="192.3" y1="445.23" x2="189.9" y2="445.23" stroke="#7a7a7a" stroke-width="0.7" />
<line x1="192.3" y1="429.3" x2="189.9" y2="429.3" stroke="#7a7a7a" stroke-width="0.7" />
<line x1="192.3" y1="469.13" x2="190.9" y2="469.13" stroke="#7a7a7a" stroke-width="0.7" />
<line x1="192.3" y1="453.2" x2="190.9" y2="453.2" stroke="#7a7a7a" stroke-width="0.7" />
<line x1="192.3" y1="437.27" x2="190.9" y2="437.27" stroke="#7a7a7a" stroke-width="0.7" />
<text transform="translate(112.39,481.9) scale(1.3,1)" font-family="Liberation Sans" font-size="4.7" text-anchor="middle" fill="#000" stroke="#000" stroke-width="0.18" >28.5</text>
<text transform="translate(133.42,481.9) scale(1.3,1)" font-family="Liberation Sans" font-size="4.7" text-anchor="middle" fill="#000" stroke="#000" stroke-width="0.18" >29.0</text>
<text transform="translate(154.45,481.9) scale(1.3,1)" font-family="Liberation Sans" font-size="4.7" text-anchor="middle" fill="#000" stroke="#000" stroke-width="0.18" >29.5</text>
<text transform="translate(175.48,481.9) scale(1.3,1)" font-family="Liberation Sans" font-size="4.7" text-anchor="middle" fill="#000" stroke="#000" stroke-width="0.18" >30.0</text>
<text transform="translate(94.5,478.6) scale(1.3,1)" font-family="Liberation Sans" font-size="4.7" text-anchor="end" fill="#000" stroke="#000" stroke-width="0.18" >20</text>
<text transform="translate(94.5,462.67) scale(1.3,1)" font-family="Liberation Sans" font-size="4.7" text-anchor="end" fill="#000" stroke="#000" stroke-width="0.18" >21</text>
<text transform="translate(94.5,446.73) scale(1.3,1)" font-family="Liberation Sans" font-size="4.7" text-anchor="end" fill="#000" stroke="#000" stroke-width="0.18" >22</text>
<text transform="translate(94.5,430.8) scale(1.3,1)" font-family="Liberation Sans" font-size="4.7" text-anchor="end" fill="#000" stroke="#000" stroke-width="0.18" >23</text>
<text transform="translate(145.3,487.6) scale(1.31,1)" font-family="Liberation Sans" font-size="4.8" text-anchor="middle" fill="#000" stroke="#000" stroke-width="0.18" ><tspan font-style="italic">T</tspan> (K)</text>
<text transform="translate(83.6,456.6) rotate(-90) scale(1,1.4)" font-family="Liberation Sans" font-size="4.8" text-anchor="middle" fill="#000" stroke="#000" stroke-width="0.18" >C<tspan dy="1" font-size="62%">p</tspan><tspan dy="-1"> (J/mol K)</tspan></text>
<clipPath id="cp5"><rect x="513.2" y="357.5" width="194.8" height="151.3"/></clipPath><g clip-path="url(#cp5)">
<polyline fill="none" stroke="#000" stroke-width="0.7" stroke-linejoin="round"  points="513.2,508.3 514.27,508.29 515.34,508.29 516.41,508.28 517.48,508.27 518.55,508.27 519.62,508.26 520.69,508.25 521.76,508.25 522.83,508.24 523.9,508.24 524.96,508.23 526.03,508.22 527.1,508.22 528.17,508.21 529.24,508.21 530.31,508.2 531.38,508.19 532.45,508.19 533.52,508.18 534.59,508.17 535.66,508.17 536.73,508.16 537.8,508.15 538.87,508.14 539.94,508.14 541.01,508.13 542.08,508.12 543.15,508.11 544.22,508.1 545.29,508.09 546.35,508.08 547.42,508.07 548.49,508.05 549.56,508.04 550.63,508.02 551.7,508 552.77,507.98 553.84,507.96 554.91,507.93 555.98,507.9 557.05,507.87 558.12,507.84 559.19,507.81 560.26,507.77 561.33,507.74 562.4,507.7 563.47,507.66 564.54,507.62 565.61,507.58 566.68,507.55 567.74,507.51 568.81,507.47 569.88,507.43 570.95,507.39 572.02,507.35 573.09,507.32 574.16,507.28 575.23,507.25 576.3,507.22 577.37,507.18 578.44,507.15 579.51,507.12 580.58,507.09 581.65,507.05 582.72,507.02 583.79,506.99 584.86,506.96 585.93,506.92 587,506.89 588.07,506.86 589.13,506.82 590.2,506.79 591.27,506.75 592.34,506.71 593.41,506.67 594.48,506.63 595.55,506.59 596.62,506.55 597.69,506.5 598.76,506.46 599.83,506.41 600.9,506.36 601.97,506.31 603.04,506.25 604.11,506.2 605.18,506.14 606.25,506.07 607.32,506.01 608.39,505.94 609.46,505.87 610.52,505.79 611.59,505.72 612.66,505.64 613.73,505.55 614.8,505.47 615.87,505.38 616.94,505.29 618.01,505.19 619.08,505.09 620.15,504.99 621.22,504.88 622.29,504.77 623.36,504.66 624.43,504.55 625.5,504.43 626.57,504.3 627.64,504.18 628.71,504.05 629.78,503.91 630.85,503.78 631.91,503.63 632.98,503.46 634.05,503.27 635.12,503.07 636.19,502.86 637.26,502.64 638.33,502.4 639.4,502.15 640.47,501.9 641.54,501.64 642.61,501.38 643.68,501.12 644.75,500.85 645.82,500.58 646.89,500.3 647.96,500.02 648.67,499.83 652.66,498.67 656.66,497.39 660.65,496 664.64,494.43 668.63,492.65 672.63,490.59 676.62,488.26 680.61,486.15 684.61,483.96 688.6,481.31 692.59,478.47 696.58,475.71 700.58,472.73 704.57,469.47 705.89,466.98 707.39,441.29"/>
<path d="M510.6 506.65h5.2v3.3h-5.2zM511.67 506.64h5.2v3.3h-5.2zM512.74 506.64h5.2v3.3h-5.2zM513.81 506.63h5.2v3.3h-5.2zM514.88 506.62h5.2v3.3h-5.2zM515.95 506.62h5.2v3.3h-5.2zM517.02 506.61h5.2v3.3h-5.2zM518.09 506.6h5.2v3.3h-5.2zM519.16 506.6h5.2v3.3h-5.2zM520.23 506.59h5.2v3.3h-5.2zM521.3 506.59h5.2v3.3h-5.2zM522.36 506.58h5.2v3.3h-5.2zM523.43 506.57h5.2v3.3h-5.2zM524.5 506.57h5.2v3.3h-5.2zM525.57 506.56h5.2v3.3h-5.2zM526.64 506.56h5.2v3.3h-5.2zM527.71 506.55h5.2v3.3h-5.2zM528.78 506.54h5.2v3.3h-5.2zM529.85 506.54h5.2v3.3h-5.2zM530.92 506.53h5.2v3.3h-5.2zM531.99 506.52h5.2v3.3h-5.2zM533.06 506.52h5.2v3.3h-5.2zM534.13 506.51h5.2v3.3h-5.2zM535.2 506.5h5.2v3.3h-5.2zM536.27 506.49h5.2v3.3h-5.2zM537.34 506.49h5.2v3.3h-5.2zM538.41 506.48h5.2v3.3h-5.2zM539.48 506.47h5.2v3.3h-5.2zM540.55 506.46h5.2v3.3h-5.2zM541.62 506.45h5.2v3.3h-5.2zM542.69 506.44h5.2v3.3h-5.2zM543.75 506.43h5.2v3.3h-5.2zM544.82 506.42h5.2v3.3h-5.2zM545.89 506.4h5.2v3.3h-5.2zM546.96 506.39h5.2v3.3h-5.2zM548.03 506.37h5.2v3.3h-5.2zM549.1 506.35h5.2v3.3h-5.2zM550.17 506.33h5.2v3.3h-5.2zM551.24 506.31h5.2v3.3h-5.2zM552.31 506.28h5.2v3.3h-5.2zM553.38 506.25h5.2v3.3h-5.2zM554.45 506.22h5.2v3.3h-5.2zM555.52 506.19h5.2v3.3h-5.2zM556.59 506.16h5.2v3.3h-5.2zM557.66 506.12h5.2v3.3h-5.2zM558.73 506.09h5.2v3.3h-5.2zM559.8 506.05h5.2v3.3h-5.2zM560.87 506.01h5.2v3.3h-5.2zM561.94 505.97h5.2v3.3h-5.2zM563.01 505.93h5.2v3.3h-5.2zM564.08 505.9h5.2v3.3h-5.2zM565.14 505.86h5.2v3.3h-5.2zM566.21 505.82h5.2v3.3h-5.2zM567.28 505.78h5.2v3.3h-5.2zM568.35 505.74h5.2v3.3h-5.2zM569.42 505.7h5.2v3.3h-5.2zM570.49 505.67h5.2v3.3h-5.2zM571.56 505.63h5.2v3.3h-5.2zM572.63 505.6h5.2v3.3h-5.2zM573.7 505.57h5.2v3.3h-5.2zM574.77 505.53h5.2v3.3h-5.2zM575.84 505.5h5.2v3.3h-5.2zM576.91 505.47h5.2v3.3h-5.2zM577.98 505.44h5.2v3.3h-5.2zM579.05 505.4h5.2v3.3h-5.2zM580.12 505.37h5.2v3.3h-5.2zM581.19 505.34h5.2v3.3h-5.2zM582.26 505.31h5.2v3.3h-5.2zM583.33 505.27h5.2v3.3h-5.2zM584.4 505.24h5.2v3.3h-5.2zM585.47 505.21h5.2v3.3h-5.2zM586.53 505.17h5.2v3.3h-5.2zM587.6 505.14h5.2v3.3h-5.2zM588.67 505.1h5.2v3.3h-5.2zM589.74 505.06h5.2v3.3h-5.2zM590.81 505.02h5.2v3.3h-5.2zM591.88 504.98h5.2v3.3h-5.2zM592.95 504.94h5.2v3.3h-5.2zM594.02 504.9h5.2v3.3h-5.2zM595.09 504.85h5.2v3.3h-5.2zM596.16 504.81h5.2v3.3h-5.2zM597.23 504.76h5.2v3.3h-5.2zM598.3 504.71h5.2v3.3h-5.2zM599.37 504.66h5.2v3.3h-5.2zM600.44 504.6h5.2v3.3h-5.2zM601.51 504.55h5.2v3.3h-5.2zM602.58 504.49h5.2v3.3h-5.2zM603.65 504.42h5.2v3.3h-5.2zM604.72 504.36h5.2v3.3h-5.2zM605.79 504.29h5.2v3.3h-5.2zM606.86 504.22h5.2v3.3h-5.2zM607.92 504.14h5.2v3.3h-5.2zM608.99 504.07h5.2v3.3h-5.2zM610.06 503.99h5.2v3.3h-5.2zM611.13 503.9h5.2v3.3h-5.2zM612.2 503.82h5.2v3.3h-5.2zM613.27 503.73h5.2v3.3h-5.2zM614.34 503.64h5.2v3.3h-5.2zM615.41 503.54h5.2v3.3h-5.2zM616.48 503.44h5.2v3.3h-5.2zM617.55 503.34h5.2v3.3h-5.2zM618.62 503.23h5.2v3.3h-5.2zM619.69 503.12h5.2v3.3h-5.2zM620.76 503.01h5.2v3.3h-5.2zM621.83 502.9h5.2v3.3h-5.2zM622.9 502.78h5.2v3.3h-5.2zM623.97 502.65h5.2v3.3h-5.2zM625.04 502.53h5.2v3.3h-5.2zM626.11 502.4h5.2v3.3h-5.2zM627.18 502.26h5.2v3.3h-5.2zM628.25 502.13h5.2v3.3h-5.2zM629.31 501.98h5.2v3.3h-5.2zM630.38 501.81h5.2v3.3h-5.2zM631.45 501.62h5.2v3.3h-5.2zM632.52 501.42h5.2v3.3h-5.2zM633.59 501.21h5.2v3.3h-5.2zM634.66 500.99h5.2v3.3h-5.2zM635.73 500.75h5.2v3.3h-5.2zM636.8 500.5h5.2v3.3h-5.2zM637.87 500.25h5.2v3.3h-5.2zM638.94 499.99h5.2v3.3h-5.2zM640.01 499.73h5.2v3.3h-5.2zM641.08 499.47h5.2v3.3h-5.2zM642.15 499.2h5.2v3.3h-5.2zM643.22 498.93h5.2v3.3h-5.2zM644.29 498.65h5.2v3.3h-5.2zM645.36 498.37h5.2v3.3h-5.2zM646.07 498.18h5.2v3.3h-5.2zM650.06 497.02h5.2v3.3h-5.2zM654.06 495.74h5.2v3.3h-5.2zM658.05 494.35h5.2v3.3h-5.2zM662.04 492.78h5.2v3.3h-5.2zM666.03 491h5.2v3.3h-5.2zM670.03 488.94h5.2v3.3h-5.2zM674.02 486.61h5.2v3.3h-5.2zM678.01 484.5h5.2v3.3h-5.2zM682.01 482.31h5.2v3.3h-5.2zM686 479.66h5.2v3.3h-5.2zM689.99 476.82h5.2v3.3h-5.2zM693.98 474.06h5.2v3.3h-5.2zM697.98 471.08h5.2v3.3h-5.2zM701.97 467.82h5.2v3.3h-5.2zM703.29 465.33h5.2v3.3h-5.2zM704.79 439.64h5.2v3.3h-5.2z" fill="#000"/>
<path d="M510.7 508.3a2.5 1.75 0 1 0 5 0a2.5 1.75 0 1 0 -5 0zM511.77 508.22a2.5 1.75 0 1 0 5 0a2.5 1.75 0 1 0 -5 0zM512.84 508.13a2.5 1.75 0 1 0 5 0a2.5 1.75 0 1 0 -5 0zM513.91 508.05a2.5 1.75 0 1 0 5 0a2.5 1.75 0 1 0 -5 0zM514.98 507.96a2.5 1.75 0 1 0 5 0a2.5 1.75 0 1 0 -5 0zM516.05 507.88a2.5 1.75 0 1 0 5 0a2.5 1.75 0 1 0 -5 0zM517.12 507.79a2.5 1.75 0 1 0 5 0a2.5 1.75 0 1 0 -5 0zM518.19 507.7a2.5 1.75 0 1 0 5 0a2.5 1.75 0 1 0 -5 0zM519.26 507.62a2.5 1.75 0 1 0 5 0a2.5 1.75 0 1 0 -5 0zM520.33 507.53a2.5 1.75 0 1 0 5 0a2.5 1.75 0 1 0 -5 0zM521.4 507.45a2.5 1.75 0 1 0 5 0a2.5 1.75 0 1 0 -5 0zM522.46 507.36a2.5 1.75 0 1 0 5 0a2.5 1.75 0 1 0 -5 0zM523.53 507.27a2.5 1.75 0 1 0 5 0a2.5 1.75 0 1 0 -5 0zM524.6 507.19a2.5 1.75 0 1 0 5 0a2.5 1.75 0 1 0 -5 0zM525.67 507.1a2.5 1.75 0 1 0 5 0a2.5 1.75 0 1 0 -5 0zM526.74 507.02a2.5 1.75 0 1 0 5 0a2.5 1.75 0 1 0 -5 0zM527.81 506.93a2.5 1.75 0 1 0 5 0a2.5 1.75 0 1 0 -5 0zM528.88 506.84a2.5 1.75 0 1 0 5 0a2.5 1.75 0 1 0 -5 0zM529.95 506.76a2.5 1.75 0 1 0 5 0a2.5 1.75 0 1 0 -5 0zM531.02 506.67a2.5 1.75 0 1 0 5 0a2.5 1.75 0 1 0 -5 0zM532.09 506.58a2.5 1.75 0 1 0 5 0a2.5 1.75 0 1 0 -5 0zM533.16 506.5a2.5 1.75 0 1 0 5 0a2.5 1.75 0 1 0 -5 0zM534.23 506.41a2.5 1.75 0 1 0 5 0a2.5 1.75 0 1 0 -5 0zM535.3 506.32a2.5 1.75 0 1 0 5 0a2.5 1.75 0 1 0 -5 0zM536.37 506.24a2.5 1.75 0 1 0 5 0a2.5 1.75 0 1 0 -5 0zM537.44 506.15a2.5 1.75 0 1 0 5 0a2.5 1.75 0 1 0 -5 0zM538.51 506.06a2.5 1.75 0 1 0 5 0a2.5 1.75 0 1 0 -5 0zM539.58 505.98a2.5 1.75 0 1 0 5 0a2.5 1.75 0 1 0 -5 0zM540.65 505.89a2.5 1.75 0 1 0 5 0a2.5 1.75 0 1 0 -5 0zM541.72 505.81a2.5 1.75 0 1 0 5 0a2.5 1.75 0 1 0 -5 0zM542.79 505.72a2.5 1.75 0 1 0 5 0a2.5 1.75 0 1 0 -5 0zM543.85 505.63a2.5 1.75 0 1 0 5 0a2.5 1.75 0 1 0 -5 0zM544.92 505.55a2.5 1.75 0 1 0 5 0a2.5 1.75 0 1 0 -5 0zM545.99 505.46a2.5 1.75 0 1 0 5 0a2.5 1.75 0 1 0 -5 0zM547.06 505.38a2.5 1.75 0 1 0 5 0a2.5 1.75 0 1 0 -5 0zM548.13 505.29a2.5 1.75 0 1 0 5 0a2.5 1.75 0 1 0 -5 0zM549.2 505.21a2.5 1.75 0 1 0 5 0a2.5 1.75 0 1 0 -5 0zM550.27 505.12a2.5 1.75 0 1 0 5 0a2.5 1.75 0 1 0 -5 0zM551.34 505.04a2.5 1.75 0 1 0 5 0a2.5 1.75 0 1 0 -5 0zM552.41 504.95a2.5 1.75 0 1 0 5 0a2.5 1.75 0 1 0 -5 0zM553.48 504.87a2.5 1.75 0 1 0 5 0a2.5 1.75 0 1 0 -5 0zM554.55 504.79a2.5 1.75 0 1 0 5 0a2.5 1.75 0 1 0 -5 0zM555.62 504.7a2.5 1.75 0 1 0 5 0a2.5 1.75 0 1 0 -5 0zM556.69 504.62a2.5 1.75 0 1 0 5 0a2.5 1.75 0 1 0 -5 0zM557.76 504.54a2.5 1.75 0 1 0 5 0a2.5 1.75 0 1 0 -5 0zM558.83 504.46a2.5 1.75 0 1 0 5 0a2.5 1.75 0 1 0 -5 0zM559.9 504.37a2.5 1.75 0 1 0 5 0a2.5 1.75 0 1 0 -5 0zM560.97 504.29a2.5 1.75 0 1 0 5 0a2.5 1.75 0 1 0 -5 0zM562.04 504.21a2.5 1.75 0 1 0 5 0a2.5 1.75 0 1 0 -5 0zM563.11 504.13a2.5 1.75 0 1 0 5 0a2.5 1.75 0 1 0 -5 0zM564.18 504.05a2.5 1.75 0 1 0 5 0a2.5 1.75 0 1 0 -5 0zM565.24 503.97a2.5 1.75 0 1 0 5 0a2.5 1.75 0 1 0 -5 0zM566.31 503.89a2.5 1.75 0 1 0 5 0a2.5 1.75 0 1 0 -5 0zM567.38 503.81a2.5 1.75 0 1 0 5 0a2.5 1.75 0 1 0 -5 0zM568.45 503.73a2.5 1.75 0 1 0 5 0a2.5 1.75 0 1 0 -5 0zM569.52 503.65a2.5 1.75 0 1 0 5 0a2.5 1.75 0 1 0 -5 0zM570.59 503.58a2.5 1.75 0 1 0 5 0a2.5 1.75 0 1 0 -5 0zM571.66 503.5a2.5 1.75 0 1 0 5 0a2.5 1.75 0 1 0 -5 0zM572.73 503.42a2.5 1.75 0 1 0 5 0a2.5 1.75 0 1 0 -5 0zM573.8 503.34a2.5 1.75 0 1 0 5 0a2.5 1.75 0 1 0 -5 0zM574.87 503.27a2.5 1.75 0 1 0 5 0a2.5 1.75 0 1 0 -5 0zM575.94 503.19a2.5 1.75 0 1 0 5 0a2.5 1.75 0 1 0 -5 0zM577.01 503.11a2.5 1.75 0 1 0 5 0a2.5 1.75 0 1 0 -5 0zM578.08 503.04a2.5 1.75 0 1 0 5 0a2.5 1.75 0 1 0 -5 0zM579.15 502.96a2.5 1.75 0 1 0 5 0a2.5 1.75 0 1 0 -5 0zM580.22 502.89a2.5 1.75 0 1 0 5 0a2.5 1.75 0 1 0 -5 0zM581.29 502.81a2.5 1.75 0 1 0 5 0a2.5 1.75 0 1 0 -5 0zM582.36 502.74a2.5 1.75 0 1 0 5 0a2.5 1.75 0 1 0 -5 0zM583.43 502.66a2.5 1.75 0 1 0 5 0a2.5 1.75 0 1 0 -5 0zM584.5 502.58a2.5 1.75 0 1 0 5 0a2.5 1.75 0 1 0 -5 0zM585.57 502.51a2.5 1.75 0 1 0 5 0a2.5 1.75 0 1 0 -5 0zM586.63 502.43a2.5 1.75 0 1 0 5 0a2.5 1.75 0 1 0 -5 0zM587.7 502.36a2.5 1.75 0 1 0 5 0a2.5 1.75 0 1 0 -5 0zM588.77 502.29a2.5 1.75 0 1 0 5 0a2.5 1.75 0 1 0 -5 0zM589.84 502.21a2.5 1.75 0 1 0 5 0a2.5 1.75 0 1 0 -5 0zM590.91 502.14a2.5 1.75 0 1 0 5 0a2.5 1.75 0 1 0 -5 0zM591.98 502.06a2.5 1.75 0 1 0 5 0a2.5 1.75 0 1 0 -5 0zM593.05 501.99a2.5 1.75 0 1 0 5 0a2.5 1.75 0 1 0 -5 0zM594.12 501.92a2.5 1.75 0 1 0 5 0a2.5 1.75 0 1 0 -5 0zM595.19 501.84a2.5 1.75 0 1 0 5 0a2.5 1.75 0 1 0 -5 0zM596.26 501.77a2.5 1.75 0 1 0 5 0a2.5 1.75 0 1 0 -5 0zM597.33 501.7a2.5 1.75 0 1 0 5 0a2.5 1.75 0 1 0 -5 0zM598.4 501.62a2.5 1.75 0 1 0 5 0a2.5 1.75 0 1 0 -5 0zM599.47 501.55a2.5 1.75 0 1 0 5 0a2.5 1.75 0 1 0 -5 0zM600.54 501.48a2.5 1.75 0 1 0 5 0a2.5 1.75 0 1 0 -5 0zM601.61 501.41a2.5 1.75 0 1 0 5 0a2.5 1.75 0 1 0 -5 0zM602.68 501.34a2.5 1.75 0 1 0 5 0a2.5 1.75 0 1 0 -5 0zM603.75 501.26a2.5 1.75 0 1 0 5 0a2.5 1.75 0 1 0 -5 0zM604.82 501.19a2.5 1.75 0 1 0 5 0a2.5 1.75 0 1 0 -5 0zM605.89 501.12a2.5 1.75 0 1 0 5 0a2.5 1.75 0 1 0 -5 0zM606.96 501.05a2.5 1.75 0 1 0 5 0a2.5 1.75 0 1 0 -5 0zM608.02 500.98a2.5 1.75 0 1 0 5 0a2.5 1.75 0 1 0 -5 0zM609.09 500.91a2.5 1.75 0 1 0 5 0a2.5 1.75 0 1 0 -5 0zM610.16 500.84a2.5 1.75 0 1 0 5 0a2.5 1.75 0 1 0 -5 0zM611.23 500.77a2.5 1.75 0 1 0 5 0a2.5 1.75 0 1 0 -5 0zM612.3 500.7a2.5 1.75 0 1 0 5 0a2.5 1.75 0 1 0 -5 0zM613.37 500.63a2.5 1.75 0 1 0 5 0a2.5 1.75 0 1 0 -5 0zM614.44 500.56a2.5 1.75 0 1 0 5 0a2.5 1.75 0 1 0 -5 0zM615.51 500.49a2.5 1.75 0 1 0 5 0a2.5 1.75 0 1 0 -5 0zM616.58 500.42a2.5 1.75 0 1 0 5 0a2.5 1.75 0 1 0 -5 0zM617.65 500.35a2.5 1.75 0 1 0 5 0a2.5 1.75 0 1 0 -5 0zM618.72 500.29a2.5 1.75 0 1 0 5 0a2.5 1.75 0 1 0 -5 0zM619.79 500.22a2.5 1.75 0 1 0 5 0a2.5 1.75 0 1 0 -5 0zM620.86 500.15a2.5 1.75 0 1 0 5 0a2.5 1.75 0 1 0 -5 0zM621.93 500.08a2.5 1.75 0 1 0 5 0a2.5 1.75 0 1 0 -5 0zM623 500.02a2.5 1.75 0 1 0 5 0a2.5 1.75 0 1 0 -5 0zM624.07 499.95a2.5 1.75 0 1 0 5 0a2.5 1.75 0 1 0 -5 0zM625.14 499.88a2.5 1.75 0 1 0 5 0a2.5 1.75 0 1 0 -5 0zM626.21 499.82a2.5 1.75 0 1 0 5 0a2.5 1.75 0 1 0 -5 0zM627.28 499.75a2.5 1.75 0 1 0 5 0a2.5 1.75 0 1 0 -5 0zM628.35 499.68a2.5 1.75 0 1 0 5 0a2.5 1.75 0 1 0 -5 0zM629.41 499.62a2.5 1.75 0 1 0 5 0a2.5 1.75 0 1 0 -5 0zM630.48 499.55a2.5 1.75 0 1 0 5 0a2.5 1.75 0 1 0 -5 0zM631.55 499.49a2.5 1.75 0 1 0 5 0a2.5 1.75 0 1 0 -5 0zM632.62 499.42a2.5 1.75 0 1 0 5 0a2.5 1.75 0 1 0 -5 0zM633.69 499.36a2.5 1.75 0 1 0 5 0a2.5 1.75 0 1 0 -5 0zM634.76 499.29a2.5 1.75 0 1 0 5 0a2.5 1.75 0 1 0 -5 0zM635.83 499.23a2.5 1.75 0 1 0 5 0a2.5 1.75 0 1 0 -5 0zM636.9 499.17a2.5 1.75 0 1 0 5 0a2.5 1.75 0 1 0 -5 0zM637.97 499.1a2.5 1.75 0 1 0 5 0a2.5 1.75 0 1 0 -5 0zM639.04 499.04a2.5 1.75 0 1 0 5 0a2.5 1.75 0 1 0 -5 0zM640.11 498.98a2.5 1.75 0 1 0 5 0a2.5 1.75 0 1 0 -5 0zM641.18 498.92a2.5 1.75 0 1 0 5 0a2.5 1.75 0 1 0 -5 0zM642.25 498.85a2.5 1.75 0 1 0 5 0a2.5 1.75 0 1 0 -5 0zM643.32 498.79a2.5 1.75 0 1 0 5 0a2.5 1.75 0 1 0 -5 0zM644.39 498.73a2.5 1.75 0 1 0 5 0a2.5 1.75 0 1 0 -5 0zM645.46 498.67a2.5 1.75 0 1 0 5 0a2.5 1.75 0 1 0 -5 0zM646.53 498.61a2.5 1.75 0 1 0 5 0a2.5 1.75 0 1 0 -5 0zM647.6 498.55a2.5 1.75 0 1 0 5 0a2.5 1.75 0 1 0 -5 0zM648.67 498.49a2.5 1.75 0 1 0 5 0a2.5 1.75 0 1 0 -5 0zM649.74 498.43a2.5 1.75 0 1 0 5 0a2.5 1.75 0 1 0 -5 0zM650.8 498.37a2.5 1.75 0 1 0 5 0a2.5 1.75 0 1 0 -5 0zM651.87 498.31a2.5 1.75 0 1 0 5 0a2.5 1.75 0 1 0 -5 0zM652.94 498.25a2.5 1.75 0 1 0 5 0a2.5 1.75 0 1 0 -5 0zM654.01 498.19a2.5 1.75 0 1 0 5 0a2.5 1.75 0 1 0 -5 0zM655.08 498.13a2.5 1.75 0 1 0 5 0a2.5 1.75 0 1 0 -5 0zM656.15 498.07a2.5 1.75 0 1 0 5 0a2.5 1.75 0 1 0 -5 0zM657.22 498.01a2.5 1.75 0 1 0 5 0a2.5 1.75 0 1 0 -5 0zM658.29 497.96a2.5 1.75 0 1 0 5 0a2.5 1.75 0 1 0 -5 0zM659.36 497.9a2.5 1.75 0 1 0 5 0a2.5 1.75 0 1 0 -5 0zM660.43 497.84a2.5 1.75 0 1 0 5 0a2.5 1.75 0 1 0 -5 0zM661.5 497.78a2.5 1.75 0 1 0 5 0a2.5 1.75 0 1 0 -5 0zM662.57 497.73a2.5 1.75 0 1 0 5 0a2.5 1.75 0 1 0 -5 0zM663.64 497.67a2.5 1.75 0 1 0 5 0a2.5 1.75 0 1 0 -5 0zM664.71 497.61a2.5 1.75 0 1 0 5 0a2.5 1.75 0 1 0 -5 0zM665.78 497.55a2.5 1.75 0 1 0 5 0a2.5 1.75 0 1 0 -5 0zM666.85 497.5a2.5 1.75 0 1 0 5 0a2.5 1.75 0 1 0 -5 0zM667.92 497.44a2.5 1.75 0 1 0 5 0a2.5 1.75 0 1 0 -5 0zM668.99 497.38a2.5 1.75 0 1 0 5 0a2.5 1.75 0 1 0 -5 0zM670.06 497.33a2.5 1.75 0 1 0 5 0a2.5 1.75 0 1 0 -5 0zM671.12 497.27a2.5 1.75 0 1 0 5 0a2.5 1.75 0 1 0 -5 0zM672.19 497.21a2.5 1.75 0 1 0 5 0a2.5 1.75 0 1 0 -5 0zM673.26 497.16a2.5 1.75 0 1 0 5 0a2.5 1.75 0 1 0 -5 0zM674.33 497.1a2.5 1.75 0 1 0 5 0a2.5 1.75 0 1 0 -5 0zM675.4 497.05a2.5 1.75 0 1 0 5 0a2.5 1.75 0 1 0 -5 0zM676.47 496.99a2.5 1.75 0 1 0 5 0a2.5 1.75 0 1 0 -5 0zM677.54 496.93a2.5 1.75 0 1 0 5 0a2.5 1.75 0 1 0 -5 0zM678.61 496.88a2.5 1.75 0 1 0 5 0a2.5 1.75 0 1 0 -5 0zM679.68 496.82a2.5 1.75 0 1 0 5 0a2.5 1.75 0 1 0 -5 0zM680.75 496.77a2.5 1.75 0 1 0 5 0a2.5 1.75 0 1 0 -5 0zM681.82 496.71a2.5 1.75 0 1 0 5 0a2.5 1.75 0 1 0 -5 0zM682.89 496.65a2.5 1.75 0 1 0 5 0a2.5 1.75 0 1 0 -5 0zM683.96 496.6a2.5 1.75 0 1 0 5 0a2.5 1.75 0 1 0 -5 0zM685.03 496.54a2.5 1.75 0 1 0 5 0a2.5 1.75 0 1 0 -5 0zM686.1 496.49a2.5 1.75 0 1 0 5 0a2.5 1.75 0 1 0 -5 0zM687.17 496.43a2.5 1.75 0 1 0 5 0a2.5 1.75 0 1 0 -5 0zM688.24 496.38a2.5 1.75 0 1 0 5 0a2.5 1.75 0 1 0 -5 0zM689.31 496.32a2.5 1.75 0 1 0 5 0a2.5 1.75 0 1 0 -5 0zM690.38 496.27a2.5 1.75 0 1 0 5 0a2.5 1.75 0 1 0 -5 0zM691.45 496.21a2.5 1.75 0 1 0 5 0a2.5 1.75 0 1 0 -5 0zM692.51 496.15a2.5 1.75 0 1 0 5 0a2.5 1.75 0 1 0 -5 0zM693.58 496.1a2.5 1.75 0 1 0 5 0a2.5 1.75 0 1 0 -5 0zM694.65 496.04a2.5 1.75 0 1 0 5 0a2.5 1.75 0 1 0 -5 0zM695.72 495.99a2.5 1.75 0 1 0 5 0a2.5 1.75 0 1 0 -5 0zM696.79 495.93a2.5 1.75 0 1 0 5 0a2.5 1.75 0 1 0 -5 0zM697.86 495.88a2.5 1.75 0 1 0 5 0a2.5 1.75 0 1 0 -5 0zM698.93 495.82a2.5 1.75 0 1 0 5 0a2.5 1.75 0 1 0 -5 0zM700 495.76a2.5 1.75 0 1 0 5 0a2.5 1.75 0 1 0 -5 0zM701.07 495.71a2.5 1.75 0 1 0 5 0a2.5 1.75 0 1 0 -5 0zM702.14 495.65a2.5 1.75 0 1 0 5 0a2.5 1.75 0 1 0 -5 0zM703.21 495.59a2.5 1.75 0 1 0 5 0a2.5 1.75 0 1 0 -5 0zM704.28 495.54a2.5 1.75 0 1 0 5 0a2.5 1.75 0 1 0 -5 0zM705.35 495.48a2.5 1.75 0 1 0 5 0a2.5 1.75 0 1 0 -5 0zM706.42 495.43a2.5 1.75 0 1 0 5 0a2.5 1.75 0 1 0 -5 0zM707.49 495.37a2.5 1.75 0 1 0 5 0a2.5 1.75 0 1 0 -5 0zM708.56 495.31a2.5 1.75 0 1 0 5 0a2.5 1.75 0 1 0 -5 0zM709.63 495.26a2.5 1.75 0 1 0 5 0a2.5 1.75 0 1 0 -5 0z" fill="#f00" stroke="#f00" stroke-width="0.3"/>
<path d="M513.2 480.53l2.8 4.4l-5.6 0zM514.09 480.52l2.8 4.4l-5.6 0zM514.98 480.52l2.8 4.4l-5.6 0zM515.87 480.51l2.8 4.4l-5.6 0zM516.77 480.5l2.8 4.4l-5.6 0zM517.66 480.5l2.8 4.4l-5.6 0zM518.55 480.49l2.8 4.4l-5.6 0zM519.44 480.49l2.8 4.4l-5.6 0zM520.33 480.48l2.8 4.4l-5.6 0zM521.22 480.48l2.8 4.4l-5.6 0zM522.11 480.47l2.8 4.4l-5.6 0zM523 480.47l2.8 4.4l-5.6 0zM523.9 480.46l2.8 4.4l-5.6 0zM524.79 480.46l2.8 4.4l-5.6 0zM525.68 480.45l2.8 4.4l-5.6 0zM526.57 480.45l2.8 4.4l-5.6 0zM527.46 480.45l2.8 4.4l-5.6 0zM528.35 480.44l2.8 4.4l-5.6 0zM529.24 480.44l2.8 4.4l-5.6 0zM530.13 480.43l2.8 4.4l-5.6 0zM531.03 480.43l2.8 4.4l-5.6 0zM531.92 480.42l2.8 4.4l-5.6 0zM532.81 480.42l2.8 4.4l-5.6 0zM533.7 480.41l2.8 4.4l-5.6 0zM534.59 480.41l2.8 4.4l-5.6 0zM535.48 480.41l2.8 4.4l-5.6 0zM536.37 480.4l2.8 4.4l-5.6 0zM537.26 480.4l2.8 4.4l-5.6 0zM538.16 480.39l2.8 4.4l-5.6 0zM539.05 480.39l2.8 4.4l-5.6 0zM539.94 480.38l2.8 4.4l-5.6 0zM540.83 480.38l2.8 4.4l-5.6 0zM541.72 480.37l2.8 4.4l-5.6 0zM542.61 480.37l2.8 4.4l-5.6 0zM543.5 480.36l2.8 4.4l-5.6 0zM544.39 480.36l2.8 4.4l-5.6 0zM545.29 480.35l2.8 4.4l-5.6 0zM546.18 480.35l2.8 4.4l-5.6 0zM547.07 480.34l2.8 4.4l-5.6 0zM547.96 480.34l2.8 4.4l-5.6 0zM548.85 480.33l2.8 4.4l-5.6 0zM549.74 480.33l2.8 4.4l-5.6 0zM550.63 480.32l2.8 4.4l-5.6 0zM551.52 480.32l2.8 4.4l-5.6 0zM552.42 480.31l2.8 4.4l-5.6 0zM553.31 480.31l2.8 4.4l-5.6 0zM554.2 480.3l2.8 4.4l-5.6 0zM555.09 480.29l2.8 4.4l-5.6 0zM555.98 480.29l2.8 4.4l-5.6 0zM556.87 480.28l2.8 4.4l-5.6 0zM557.76 480.28l2.8 4.4l-5.6 0zM558.65 480.27l2.8 4.4l-5.6 0zM559.55 480.26l2.8 4.4l-5.6 0zM560.44 480.25l2.8 4.4l-5.6 0zM561.33 480.25l2.8 4.4l-5.6 0zM562.22 480.24l2.8 4.4l-5.6 0zM563.11 480.23l2.8 4.4l-5.6 0zM564 480.22l2.8 4.4l-5.6 0zM564.89 480.22l2.8 4.4l-5.6 0zM565.78 480.21l2.8 4.4l-5.6 0zM566.68 480.2l2.8 4.4l-5.6 0zM567.57 480.19l2.8 4.4l-5.6 0zM568.46 480.18l2.8 4.4l-5.6 0zM569.35 480.17l2.8 4.4l-5.6 0zM570.24 480.16l2.8 4.4l-5.6 0zM571.13 480.15l2.8 4.4l-5.6 0zM572.02 480.14l2.8 4.4l-5.6 0zM572.91 480.13l2.8 4.4l-5.6 0zM573.81 480.12l2.8 4.4l-5.6 0zM574.7 480.11l2.8 4.4l-5.6 0zM575.59 480.1l2.8 4.4l-5.6 0zM576.48 480.09l2.8 4.4l-5.6 0zM577.37 480.07l2.8 4.4l-5.6 0zM578.26 480.05l2.8 4.4l-5.6 0zM579.15 480.04l2.8 4.4l-5.6 0zM580.04 480.02l2.8 4.4l-5.6 0zM580.94 480l2.8 4.4l-5.6 0zM581.83 479.98l2.8 4.4l-5.6 0zM582.72 479.95l2.8 4.4l-5.6 0zM583.61 479.93l2.8 4.4l-5.6 0zM584.5 479.91l2.8 4.4l-5.6 0zM585.39 479.88l2.8 4.4l-5.6 0zM586.28 479.85l2.8 4.4l-5.6 0zM587.17 479.83l2.8 4.4l-5.6 0zM588.07 479.8l2.8 4.4l-5.6 0zM588.96 479.77l2.8 4.4l-5.6 0zM589.85 479.74l2.8 4.4l-5.6 0zM590.74 479.71l2.8 4.4l-5.6 0zM591.63 479.68l2.8 4.4l-5.6 0zM592.52 479.65l2.8 4.4l-5.6 0zM593.41 479.62l2.8 4.4l-5.6 0zM594.3 479.58l2.8 4.4l-5.6 0zM595.2 479.55l2.8 4.4l-5.6 0zM596.09 479.52l2.8 4.4l-5.6 0zM596.98 479.48l2.8 4.4l-5.6 0zM597.87 479.45l2.8 4.4l-5.6 0zM598.76 479.41l2.8 4.4l-5.6 0zM599.65 479.38l2.8 4.4l-5.6 0zM600.54 479.34l2.8 4.4l-5.6 0zM601.43 479.31l2.8 4.4l-5.6 0zM602.33 479.27l2.8 4.4l-5.6 0zM603.22 479.23l2.8 4.4l-5.6 0zM604.11 479.19l2.8 4.4l-5.6 0zM605 479.15l2.8 4.4l-5.6 0zM605.89 479.11l2.8 4.4l-5.6 0zM606.78 479.07l2.8 4.4l-5.6 0zM607.67 479.03l2.8 4.4l-5.6 0zM608.56 478.98l2.8 4.4l-5.6 0zM609.46 478.93l2.8 4.4l-5.6 0zM610.35 478.88l2.8 4.4l-5.6 0zM611.24 478.83l2.8 4.4l-5.6 0zM612.13 478.78l2.8 4.4l-5.6 0zM613.02 478.73l2.8 4.4l-5.6 0zM613.91 478.68l2.8 4.4l-5.6 0zM614.8 478.62l2.8 4.4l-5.6 0zM615.69 478.57l2.8 4.4l-5.6 0zM616.59 478.51l2.8 4.4l-5.6 0zM617.48 478.45l2.8 4.4l-5.6 0zM618.37 478.4l2.8 4.4l-5.6 0zM619.26 478.34l2.8 4.4l-5.6 0zM620.15 478.28l2.8 4.4l-5.6 0zM621.04 478.22l2.8 4.4l-5.6 0zM621.93 478.15l2.8 4.4l-5.6 0zM622.82 478.09l2.8 4.4l-5.6 0zM623.72 478.03l2.8 4.4l-5.6 0zM624.61 477.97l2.8 4.4l-5.6 0zM625.5 477.9l2.8 4.4l-5.6 0zM626.39 477.84l2.8 4.4l-5.6 0zM627.28 477.77l2.8 4.4l-5.6 0zM628.17 477.71l2.8 4.4l-5.6 0zM629.06 477.64l2.8 4.4l-5.6 0zM629.95 477.58l2.8 4.4l-5.6 0zM630.85 477.51l2.8 4.4l-5.6 0zM631.74 477.44l2.8 4.4l-5.6 0zM632.63 477.38l2.8 4.4l-5.6 0zM633.52 477.31l2.8 4.4l-5.6 0zM634.41 477.24l2.8 4.4l-5.6 0zM635.3 477.18l2.8 4.4l-5.6 0zM636.19 477.11l2.8 4.4l-5.6 0zM637.08 477.04l2.8 4.4l-5.6 0zM637.98 476.97l2.8 4.4l-5.6 0zM638.87 476.9l2.8 4.4l-5.6 0zM639.76 476.83l2.8 4.4l-5.6 0zM640.65 476.75l2.8 4.4l-5.6 0zM641.54 476.68l2.8 4.4l-5.6 0zM642.43 476.6l2.8 4.4l-5.6 0zM643.32 476.53l2.8 4.4l-5.6 0zM644.21 476.45l2.8 4.4l-5.6 0zM645.11 476.37l2.8 4.4l-5.6 0zM646 476.28l2.8 4.4l-5.6 0zM646.89 476.2l2.8 4.4l-5.6 0zM647.78 476.11l2.8 4.4l-5.6 0zM648.67 476.02l2.8 4.4l-5.6 0zM649.56 475.93l2.8 4.4l-5.6 0zM650.45 475.83l2.8 4.4l-5.6 0zM651.34 475.74l2.8 4.4l-5.6 0zM652.24 475.63l2.8 4.4l-5.6 0zM653.13 475.53l2.8 4.4l-5.6 0zM654.02 475.43l2.8 4.4l-5.6 0zM654.91 475.32l2.8 4.4l-5.6 0zM655.8 475.2l2.8 4.4l-5.6 0zM656.69 475.08l2.8 4.4l-5.6 0zM657.58 474.96l2.8 4.4l-5.6 0zM658.47 474.83l2.8 4.4l-5.6 0zM659.37 474.69l2.8 4.4l-5.6 0zM660.26 474.55l2.8 4.4l-5.6 0zM661.15 474.4l2.8 4.4l-5.6 0zM662.04 474.25l2.8 4.4l-5.6 0zM662.93 474.09l2.8 4.4l-5.6 0zM663.82 473.93l2.8 4.4l-5.6 0zM664.71 473.76l2.8 4.4l-5.6 0zM665.6 473.59l2.8 4.4l-5.6 0zM666.5 473.41l2.8 4.4l-5.6 0zM667.39 473.23l2.8 4.4l-5.6 0zM668.28 473.04l2.8 4.4l-5.6 0zM669.17 472.85l2.8 4.4l-5.6 0zM670.06 472.65l2.8 4.4l-5.6 0zM670.95 472.46l2.8 4.4l-5.6 0zM671.84 472.25l2.8 4.4l-5.6 0zM672.73 472.05l2.8 4.4l-5.6 0zM673.62 471.83l2.8 4.4l-5.6 0zM674.52 471.62l2.8 4.4l-5.6 0zM675.41 471.4l2.8 4.4l-5.6 0zM676.3 471.18l2.8 4.4l-5.6 0zM677.19 470.96l2.8 4.4l-5.6 0zM678.08 470.73l2.8 4.4l-5.6 0zM678.97 470.5l2.8 4.4l-5.6 0zM679.86 470.27l2.8 4.4l-5.6 0zM680.75 470.03l2.8 4.4l-5.6 0zM681.65 469.79l2.8 4.4l-5.6 0zM682.54 469.53l2.8 4.4l-5.6 0zM683.43 469.27l2.8 4.4l-5.6 0zM684.32 469l2.8 4.4l-5.6 0zM685.21 468.72l2.8 4.4l-5.6 0zM686.1 468.44l2.8 4.4l-5.6 0zM686.99 468.14l2.8 4.4l-5.6 0zM687.88 467.84l2.8 4.4l-5.6 0zM688.78 467.53l2.8 4.4l-5.6 0zM689.67 467.21l2.8 4.4l-5.6 0zM690.56 466.88l2.8 4.4l-5.6 0zM691.45 466.54l2.8 4.4l-5.6 0zM692.34 466.2l2.8 4.4l-5.6 0zM693.23 465.84l2.8 4.4l-5.6 0zM694.12 465.48l2.8 4.4l-5.6 0zM695.01 465.11l2.8 4.4l-5.6 0zM695.91 464.73l2.8 4.4l-5.6 0zM696.8 464.35l2.8 4.4l-5.6 0zM697.69 463.95l2.8 4.4l-5.6 0zM698.58 463.53l2.8 4.4l-5.6 0zM699.47 463.09l2.8 4.4l-5.6 0zM700.36 462.64l2.8 4.4l-5.6 0zM701.25 462.16l2.8 4.4l-5.6 0zM702.14 461.66l2.8 4.4l-5.6 0zM703.04 461.15l2.8 4.4l-5.6 0zM703.93 460.63l2.8 4.4l-5.6 0zM704.82 460.09l2.8 4.4l-5.6 0zM705.71 459.53l2.8 4.4l-5.6 0zM706.6 458.97l2.8 4.4l-5.6 0zM707.49 458.39l2.8 4.4l-5.6 0zM708.38 457.8l2.8 4.4l-5.6 0zM709.27 457.15l2.8 4.4l-5.6 0zM710.17 456.47l2.8 4.4l-5.6 0zM711.06 455.77l2.8 4.4l-5.6 0zM711.95 455.07l2.8 4.4l-5.6 0z" fill="#00f"/>
</g>
<clipPath id="cp6"><rect x="0" y="0" width="708" height="545"/></clipPath><g clip-path="url(#cp6)">
<line x1="513.2" y1="356.93" x2="513.2" y2="508.88" stroke="#000" stroke-width="1.15" />
<line x1="513.2" y1="357.5" x2="727.1" y2="357.5" stroke="#000" stroke-width="1.15" />
<line x1="513.2" y1="508.3" x2="727.1" y2="508.3" stroke="#000" stroke-width="1.15" />
<line x1="513.2" y1="508.3" x2="513.2" y2="505.1" stroke="#000" stroke-width="1" />
<line x1="584.5" y1="508.3" x2="584.5" y2="505.1" stroke="#000" stroke-width="1" />
<line x1="655.8" y1="508.3" x2="655.8" y2="505.1" stroke="#000" stroke-width="1" />
<line x1="727.1" y1="508.3" x2="727.1" y2="505.1" stroke="#000" stroke-width="1" />
<line x1="548.85" y1="508.3" x2="548.85" y2="506.6" stroke="#000" stroke-width="1" />
<line x1="620.15" y1="508.3" x2="620.15" y2="506.6" stroke="#000" stroke-width="1" />
<line x1="691.45" y1="508.3" x2="691.45" y2="506.6" stroke="#000" stroke-width="1" />
<line x1="513.2" y1="357.5" x2="513.2" y2="359.9" stroke="#000" stroke-width="1" />
<line x1="584.5" y1="357.5" x2="584.5" y2="359.9" stroke="#000" stroke-width="1" />
<line x1="655.8" y1="357.5" x2="655.8" y2="359.9" stroke="#000" stroke-width="1" />
<line x1="727.1" y1="357.5" x2="727.1" y2="359.9" stroke="#000" stroke-width="1" />
<line x1="548.85" y1="357.5" x2="548.85" y2="358.9" stroke="#000" stroke-width="1" />
<line x1="620.15" y1="357.5" x2="620.15" y2="358.9" stroke="#000" stroke-width="1" />
<line x1="691.45" y1="357.5" x2="691.45" y2="358.9" stroke="#000" stroke-width="1" />
<line x1="513.2" y1="508.3" x2="519.2" y2="508.3" stroke="#000" stroke-width="1" />
<line x1="513.2" y1="483.17" x2="519.2" y2="483.17" stroke="#000" stroke-width="1" />
<line x1="513.2" y1="458.03" x2="519.2" y2="458.03" stroke="#000" stroke-width="1" />
<line x1="513.2" y1="432.9" x2="519.2" y2="432.9" stroke="#000" stroke-width="1" />
<line x1="513.2" y1="407.77" x2="519.2" y2="407.77" stroke="#000" stroke-width="1" />
<line x1="513.2" y1="382.63" x2="519.2" y2="382.63" stroke="#000" stroke-width="1" />
<line x1="513.2" y1="357.5" x2="519.2" y2="357.5" stroke="#000" stroke-width="1" />
<line x1="513.2" y1="495.73" x2="516.4" y2="495.73" stroke="#000" stroke-width="1" />
<line x1="513.2" y1="470.6" x2="516.4" y2="470.6" stroke="#000" stroke-width="1" />
<line x1="513.2" y1="445.47" x2="516.4" y2="445.47" stroke="#000" stroke-width="1" />
<line x1="513.2" y1="420.33" x2="516.4" y2="420.33" stroke="#000" stroke-width="1" />
<line x1="513.2" y1="395.2" x2="516.4" y2="395.2" stroke="#000" stroke-width="1" />
<line x1="513.2" y1="370.07" x2="516.4" y2="370.07" stroke="#000" stroke-width="1" />
<text transform="translate(513.2,518.3) scale(1.62,1)" font-family="Liberation Sans" font-size="8.5" text-anchor="middle" fill="#000" stroke="#000" stroke-width="0.13" >0</text>
<text transform="translate(584.5,518.3) scale(1.62,1)" font-family="Liberation Sans" font-size="8.5" text-anchor="middle" fill="#000" stroke="#000" stroke-width="0.13" >20</text>
<text transform="translate(655.8,518.3) scale(1.62,1)" font-family="Liberation Sans" font-size="8.5" text-anchor="middle" fill="#000" stroke="#000" stroke-width="0.13" >40</text>
<text transform="translate(507.6,510.3) scale(1.62,1)" font-family="Liberation Sans" font-size="8.5" text-anchor="end" fill="#000" stroke="#000" stroke-width="0.13" >-0.05</text>
<text transform="translate(507.6,485.17) scale(1.62,1)" font-family="Liberation Sans" font-size="8.5" text-anchor="end" fill="#000" stroke="#000" stroke-width="0.13" >0.00</text>
<text transform="translate(507.6,460.03) scale(1.62,1)" font-family="Liberation Sans" font-size="8.5" text-anchor="end" fill="#000" stroke="#000" stroke-width="0.13" >0.05</text>
<text transform="translate(507.6,434.9) scale(1.62,1)" font-family="Liberation Sans" font-size="8.5" text-anchor="end" fill="#000" stroke="#000" stroke-width="0.13" >0.10</text>
<text transform="translate(507.6,409.77) scale(1.62,1)" font-family="Liberation Sans" font-size="8.5" text-anchor="end" fill="#000" stroke="#000" stroke-width="0.13" >0.15</text>
<text transform="translate(507.6,384.63) scale(1.62,1)" font-family="Liberation Sans" font-size="8.5" text-anchor="end" fill="#000" stroke="#000" stroke-width="0.13" >0.20</text>
<text transform="translate(507.6,359.5) scale(1.62,1)" font-family="Liberation Sans" font-size="8.5" text-anchor="end" fill="#000" stroke="#000" stroke-width="0.13" >0.25</text>
<text transform="translate(673.8,534.7) scale(1.62,1)" font-family="Liberation Sans" font-size="10.6" text-anchor="middle" fill="#000" stroke="#000" stroke-width="0.17" >H (kOe)</text>
<text transform="translate(459.7,439.6) rotate(-90) scale(1,1.5)" font-family="Liberation Sans" font-size="9.2" text-anchor="middle" fill="#000" stroke="#000" stroke-width="0.17" >[<tspan font-style="italic">&#961;</tspan>(<tspan font-style="italic">H</tspan>)&#8722;<tspan font-style="italic">&#961;</tspan>(0)]/<tspan font-style="italic">&#961;</tspan>(0)</text>
<text transform="translate(527.4,375.3) scale(1.62,1)" font-family="Liberation Sans" font-size="10.2" text-anchor="start" fill="#000" stroke="#000" stroke-width="0.17" >TbCo<tspan dy="4" font-size="66%">2</tspan><tspan dy="-4" font-size="1%"> </tspan>Ge<tspan dy="4" font-size="66%">2</tspan><tspan dy="-4" font-size="1%"> </tspan></text>
<text transform="translate(529.3,388.9) scale(1.64,1)" font-family="Liberation Sans" font-size="8.3" text-anchor="start" fill="#000" stroke="#000" stroke-width="0.13" ><tspan font-style="italic">T</tspan>=1.8 K</text>
<text transform="translate(591,388.9) scale(1.62,1)" font-family="Liberation Sans" font-size="8.3" text-anchor="start" fill="#000" stroke="#000" stroke-width="0.13" ><tspan font-style="italic">R</tspan>(<tspan font-style="italic">H</tspan>)</text>
<text transform="translate(529.3,400.8) scale(1.64,1)" font-family="Liberation Sans" font-size="8.3" text-anchor="start" fill="#000" stroke="#000" stroke-width="0.13" ><tspan font-style="italic">T</tspan>=1.85 K</text>
<text transform="translate(591,400.8) scale(1.62,1)" font-family="Liberation Sans" font-size="8.3" text-anchor="start" fill="#000" stroke="#000" stroke-width="0.13" ><tspan font-style="italic">M</tspan>(<tspan font-style="italic">H</tspan>)</text>
<line x1="529" y1="412.2" x2="539" y2="412.2" stroke="#00f" stroke-width="0.6" />
<line x1="552" y1="412.2" x2="561.1" y2="412.2" stroke="#00f" stroke-width="0.6" />
<path d="M545.6 410.08l3.2 4.2l-6.4 0z" fill="#00f"/>
<line x1="529" y1="422.6" x2="561.1" y2="422.6" stroke="#000" stroke-width="0.6" />
<path d="M543.1 421.1h5v3h-5z" fill="#000"/>
<line x1="529" y1="433" x2="561.1" y2="433" stroke="#f00" stroke-width="0.6" />
<path d="M543 433a2.6 1.8 0 1 0 5.2 0a2.6 1.8 0 1 0 -5.2 0z" fill="#f00" stroke="#f00" stroke-width="0.3"/>
<text transform="translate(565.3,415.3) scale(1.67,1)" font-family="Liberation Serif" font-size="8" text-anchor="start" fill="#000" stroke="#000" stroke-width="0.13" >[<tspan font-style="italic">&#961;</tspan>(<tspan font-style="italic">H</tspan>)&#8722;<tspan font-style="italic">&#961;</tspan>(0)]/<tspan font-style="italic">&#961;</tspan>(0)</text>
<text transform="translate(565.3,425.4) scale(1.62,1)" font-family="Liberation Sans" font-size="8.5" text-anchor="start" fill="#000" stroke="#000" stroke-width="0.13" ><tspan font-style="italic">H</tspan>||<tspan font-style="italic">c</tspan></text>
<text transform="translate(565.3,435.8) scale(1.62,1)" font-family="Liberation Sans" font-size="8.5" text-anchor="start" fill="#000" stroke="#000" stroke-width="0.13" ><tspan font-style="italic">H</tspan>||(<tspan font-style="italic">ab</tspan>)</text>
<text transform="translate(586.3,466) scale(1.77,1)" font-family="Liberation Sans" font-size="7" text-anchor="start" fill="#000" stroke="#000" stroke-width="0.13" ><tspan font-style="italic">H</tspan>||<tspan font-style="italic">c</tspan></text>
<line x1="586" y1="469.4" x2="605.2" y2="469.4" stroke="#00f" stroke-width="0.7" />
<path d="M583.3 469.4L589.2 468.1L589.2 470.7Z" fill="#00f"/>
</g>
</svg>
</body></html>
